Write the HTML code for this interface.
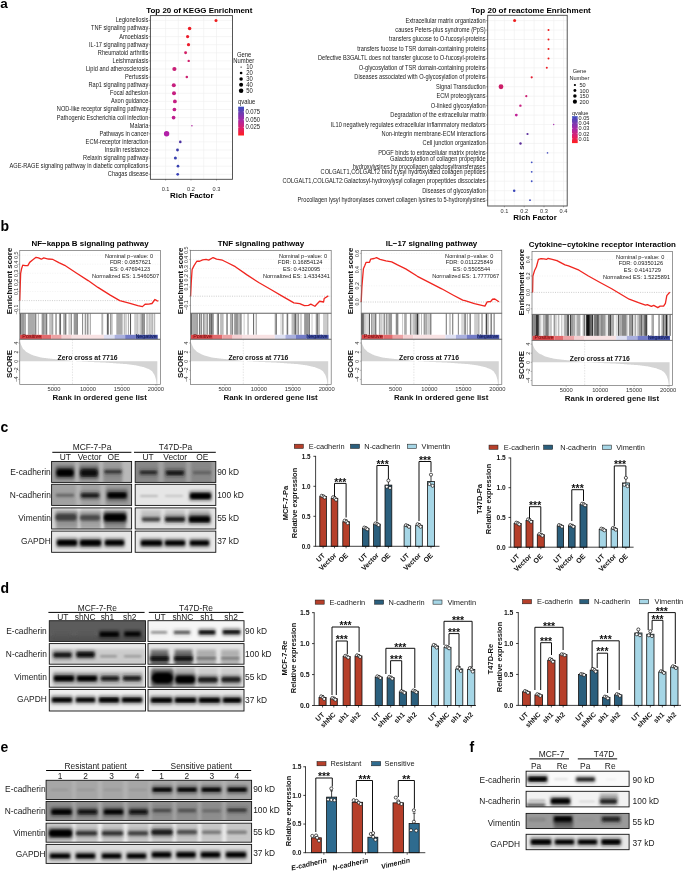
<!DOCTYPE html>
<html><head><meta charset="utf-8"><title>Figure</title>
<style>html,body{margin:0;padding:0;background:#fff;width:685px;height:872px;overflow:hidden}svg{display:block;will-change:transform}text{font-family:"Liberation Sans", sans-serif}</style>
</head><body>
<svg width="685" height="872" viewBox="0 0 685 872" font-family='"Liberation Sans", sans-serif'><defs><linearGradient id="qkegg" x1="0" y1="0" x2="0" y2="1"><stop offset="0" stop-color="#3a4dbd"/><stop offset="0.45" stop-color="#a42aa8"/><stop offset="0.75" stop-color="#e0206a"/><stop offset="1" stop-color="#ff1e1e"/></linearGradient><linearGradient id="qreact" x1="0" y1="0" x2="0" y2="1"><stop offset="0" stop-color="#3a4dbd"/><stop offset="0.45" stop-color="#a42aa8"/><stop offset="0.75" stop-color="#e0206a"/><stop offset="1" stop-color="#ff1e1e"/></linearGradient><filter id="bl1" x="-10%" y="-10%" width="120%" height="120%"><feGaussianBlur stdDeviation="0.9"/></filter><filter id="bl3" x="-20%" y="-50%" width="140%" height="200%"><feGaussianBlur stdDeviation="1.8"/></filter><filter id="bl2" x="-10%" y="-10%" width="120%" height="120%"><feGaussianBlur stdDeviation="1.6"/></filter><clipPath id="cl1"><rect x="51.60" y="461.50" width="80.00" height="20.90"/></clipPath><clipPath id="cl2"><rect x="51.60" y="484.30" width="80.00" height="21.10"/></clipPath><clipPath id="cl3"><rect x="51.60" y="507.90" width="80.00" height="21.10"/></clipPath><clipPath id="cl4"><rect x="51.60" y="531.10" width="80.00" height="21.20"/></clipPath><clipPath id="cl5"><rect x="135.20" y="461.50" width="80.60" height="20.90"/></clipPath><clipPath id="cl6"><rect x="135.20" y="484.30" width="80.60" height="21.10"/></clipPath><clipPath id="cl7"><rect x="135.20" y="507.90" width="80.60" height="21.10"/></clipPath><clipPath id="cl8"><rect x="135.20" y="531.10" width="80.60" height="21.20"/></clipPath><clipPath id="cl9"><rect x="49.30" y="620.70" width="96.20" height="20.70"/></clipPath><clipPath id="cl10"><rect x="49.30" y="643.60" width="96.20" height="20.60"/></clipPath><clipPath id="cl11"><rect x="49.30" y="666.40" width="96.20" height="20.80"/></clipPath><clipPath id="cl12"><rect x="49.30" y="689.50" width="96.20" height="21.50"/></clipPath><clipPath id="cl13"><rect x="148.00" y="620.70" width="96.00" height="20.70"/></clipPath><clipPath id="cl14"><rect x="148.00" y="643.60" width="96.00" height="20.60"/></clipPath><clipPath id="cl15"><rect x="148.00" y="666.40" width="96.00" height="20.80"/></clipPath><clipPath id="cl16"><rect x="148.00" y="689.50" width="96.00" height="21.50"/></clipPath><clipPath id="cl17"><rect x="46.10" y="780.30" width="205.50" height="19.20"/></clipPath><clipPath id="cl18"><rect x="46.10" y="801.50" width="205.50" height="19.10"/></clipPath><clipPath id="cl19"><rect x="46.10" y="823.20" width="205.50" height="19.00"/></clipPath><clipPath id="cl20"><rect x="46.10" y="844.40" width="205.50" height="19.00"/></clipPath><clipPath id="cl21"><rect x="526.10" y="771.20" width="103.00" height="15.20"/></clipPath><clipPath id="cl22"><rect x="526.10" y="791.30" width="103.00" height="15.60"/></clipPath><clipPath id="cl23"><rect x="526.10" y="813.40" width="103.00" height="15.10"/></clipPath><clipPath id="cl24"><rect x="526.10" y="834.30" width="103.00" height="15.40"/></clipPath></defs><rect width="685" height="872" fill="#fff"/><text x="0.30" y="8.00" font-size="13.5" font-weight="bold">a</text>
<text x="199.30" y="13.40" font-size="7.95" text-anchor="middle" font-weight="bold">Top 20 of KEGG Enrichment</text>
<rect x="150.40" y="15.60" width="82.10" height="163.70" fill="#fff"/>
<line x1="165.60" y1="15.60" x2="165.60" y2="179.30" stroke="#eeeeee" stroke-width="0.6"/>
<line x1="178.30" y1="15.60" x2="178.30" y2="179.30" stroke="#eeeeee" stroke-width="0.6"/>
<line x1="191.00" y1="15.60" x2="191.00" y2="179.30" stroke="#eeeeee" stroke-width="0.6"/>
<line x1="203.70" y1="15.60" x2="203.70" y2="179.30" stroke="#eeeeee" stroke-width="0.6"/>
<line x1="216.50" y1="15.60" x2="216.50" y2="179.30" stroke="#eeeeee" stroke-width="0.6"/>
<line x1="150.40" y1="20.40" x2="232.50" y2="20.40" stroke="#eeeeee" stroke-width="0.6"/>
<line x1="150.40" y1="28.50" x2="232.50" y2="28.50" stroke="#eeeeee" stroke-width="0.6"/>
<line x1="150.40" y1="36.60" x2="232.50" y2="36.60" stroke="#eeeeee" stroke-width="0.6"/>
<line x1="150.40" y1="44.70" x2="232.50" y2="44.70" stroke="#eeeeee" stroke-width="0.6"/>
<line x1="150.40" y1="52.80" x2="232.50" y2="52.80" stroke="#eeeeee" stroke-width="0.6"/>
<line x1="150.40" y1="60.90" x2="232.50" y2="60.90" stroke="#eeeeee" stroke-width="0.6"/>
<line x1="150.40" y1="69.00" x2="232.50" y2="69.00" stroke="#eeeeee" stroke-width="0.6"/>
<line x1="150.40" y1="77.10" x2="232.50" y2="77.10" stroke="#eeeeee" stroke-width="0.6"/>
<line x1="150.40" y1="85.20" x2="232.50" y2="85.20" stroke="#eeeeee" stroke-width="0.6"/>
<line x1="150.40" y1="93.30" x2="232.50" y2="93.30" stroke="#eeeeee" stroke-width="0.6"/>
<line x1="150.40" y1="101.40" x2="232.50" y2="101.40" stroke="#eeeeee" stroke-width="0.6"/>
<line x1="150.40" y1="109.50" x2="232.50" y2="109.50" stroke="#eeeeee" stroke-width="0.6"/>
<line x1="150.40" y1="117.60" x2="232.50" y2="117.60" stroke="#eeeeee" stroke-width="0.6"/>
<line x1="150.40" y1="125.70" x2="232.50" y2="125.70" stroke="#eeeeee" stroke-width="0.6"/>
<line x1="150.40" y1="133.80" x2="232.50" y2="133.80" stroke="#eeeeee" stroke-width="0.6"/>
<line x1="150.40" y1="141.90" x2="232.50" y2="141.90" stroke="#eeeeee" stroke-width="0.6"/>
<line x1="150.40" y1="150.00" x2="232.50" y2="150.00" stroke="#eeeeee" stroke-width="0.6"/>
<line x1="150.40" y1="158.10" x2="232.50" y2="158.10" stroke="#eeeeee" stroke-width="0.6"/>
<line x1="150.40" y1="166.20" x2="232.50" y2="166.20" stroke="#eeeeee" stroke-width="0.6"/>
<line x1="150.40" y1="174.30" x2="232.50" y2="174.30" stroke="#eeeeee" stroke-width="0.6"/>
<text x="148.30" y="22.40" font-size="5.65" text-anchor="end" fill="#1a1a1a" transform="matrix(1 0 0 1.12 0 -2.688)">Legionellosis</text>
<line x1="148.60" y1="20.40" x2="150.40" y2="20.40" stroke="#333" stroke-width="0.4"/>
<circle cx="216.00" cy="20.40" r="1.50" fill="#ee1c1c"/>
<text x="148.30" y="30.50" font-size="5.65" text-anchor="end" fill="#1a1a1a" transform="matrix(1 0 0 1.12 0 -3.660)">TNF signaling pathway</text>
<line x1="148.60" y1="28.50" x2="150.40" y2="28.50" stroke="#333" stroke-width="0.4"/>
<circle cx="189.60" cy="28.50" r="1.75" fill="#ee1c24"/>
<text x="148.30" y="38.60" font-size="5.65" text-anchor="end" fill="#1a1a1a" transform="matrix(1 0 0 1.12 0 -4.632)">Amoebiasis</text>
<line x1="148.60" y1="36.60" x2="150.40" y2="36.60" stroke="#333" stroke-width="0.4"/>
<circle cx="187.60" cy="36.60" r="1.60" fill="#ec1c2c"/>
<text x="148.30" y="46.70" font-size="5.65" text-anchor="end" fill="#1a1a1a" transform="matrix(1 0 0 1.12 0 -5.604)">IL-17 signaling pathway</text>
<line x1="148.60" y1="44.70" x2="150.40" y2="44.70" stroke="#333" stroke-width="0.4"/>
<circle cx="188.50" cy="44.70" r="1.60" fill="#ec1c2c"/>
<text x="148.30" y="54.80" font-size="5.65" text-anchor="end" fill="#1a1a1a" transform="matrix(1 0 0 1.12 0 -6.576)">Rheumatoid arthritis</text>
<line x1="148.60" y1="52.80" x2="150.40" y2="52.80" stroke="#333" stroke-width="0.4"/>
<circle cx="185.60" cy="52.80" r="1.45" fill="#d21f66"/>
<text x="148.30" y="62.90" font-size="5.65" text-anchor="end" fill="#1a1a1a" transform="matrix(1 0 0 1.12 0 -7.548)">Leishmaniasis</text>
<line x1="148.60" y1="60.90" x2="150.40" y2="60.90" stroke="#333" stroke-width="0.4"/>
<circle cx="188.70" cy="60.90" r="1.20" fill="#d01f6c"/>
<text x="148.30" y="71.00" font-size="5.65" text-anchor="end" fill="#1a1a1a" transform="matrix(1 0 0 1.12 0 -8.520)">Lipid and atherosclerosis</text>
<line x1="148.60" y1="69.00" x2="150.40" y2="69.00" stroke="#333" stroke-width="0.4"/>
<circle cx="174.40" cy="69.00" r="2.10" fill="#c81e76"/>
<text x="148.30" y="79.10" font-size="5.65" text-anchor="end" fill="#1a1a1a" transform="matrix(1 0 0 1.12 0 -9.492)">Pertussis</text>
<line x1="148.60" y1="77.10" x2="150.40" y2="77.10" stroke="#333" stroke-width="0.4"/>
<circle cx="186.80" cy="77.10" r="1.25" fill="#cc1f70"/>
<text x="148.30" y="87.20" font-size="5.65" text-anchor="end" fill="#1a1a1a" transform="matrix(1 0 0 1.12 0 -10.464)">Rap1 signaling pathway</text>
<line x1="148.60" y1="85.20" x2="150.40" y2="85.20" stroke="#333" stroke-width="0.4"/>
<circle cx="173.80" cy="85.20" r="2.00" fill="#c61e7e"/>
<text x="148.30" y="95.30" font-size="5.65" text-anchor="end" fill="#1a1a1a" transform="matrix(1 0 0 1.12 0 -11.436)">Focal adhesion</text>
<line x1="148.60" y1="93.30" x2="150.40" y2="93.30" stroke="#333" stroke-width="0.4"/>
<circle cx="174.00" cy="93.30" r="2.00" fill="#c61e80"/>
<text x="148.30" y="103.40" font-size="5.65" text-anchor="end" fill="#1a1a1a" transform="matrix(1 0 0 1.12 0 -12.408)">Axon guidance</text>
<line x1="148.60" y1="101.40" x2="150.40" y2="101.40" stroke="#333" stroke-width="0.4"/>
<circle cx="174.90" cy="101.40" r="1.90" fill="#c41e82"/>
<text x="148.30" y="111.50" font-size="5.65" text-anchor="end" fill="#1a1a1a" transform="matrix(1 0 0 1.12 0 -13.380)">NOD-like receptor signaling pathway</text>
<line x1="148.60" y1="109.50" x2="150.40" y2="109.50" stroke="#333" stroke-width="0.4"/>
<circle cx="174.40" cy="109.50" r="1.85" fill="#c21e88"/>
<text x="148.30" y="119.60" font-size="5.65" text-anchor="end" fill="#1a1a1a" transform="matrix(1 0 0 1.12 0 -14.352)">Pathogenic Escherichia coli infection</text>
<line x1="148.60" y1="117.60" x2="150.40" y2="117.60" stroke="#333" stroke-width="0.4"/>
<circle cx="173.60" cy="117.60" r="1.85" fill="#be1e8e"/>
<text x="148.30" y="127.70" font-size="5.65" text-anchor="end" fill="#1a1a1a" transform="matrix(1 0 0 1.12 0 -15.324)">Malaria</text>
<line x1="148.60" y1="125.70" x2="150.40" y2="125.70" stroke="#333" stroke-width="0.4"/>
<circle cx="191.90" cy="125.70" r="0.80" fill="#b82ea8"/>
<text x="148.30" y="135.80" font-size="5.65" text-anchor="end" fill="#1a1a1a" transform="matrix(1 0 0 1.12 0 -16.296)">Pathways in cancer</text>
<line x1="148.60" y1="133.80" x2="150.40" y2="133.80" stroke="#333" stroke-width="0.4"/>
<circle cx="166.60" cy="133.80" r="2.70" fill="#b220a8"/>
<text x="148.30" y="143.90" font-size="5.65" text-anchor="end" fill="#1a1a1a" transform="matrix(1 0 0 1.12 0 -17.268)">ECM-receptor interaction</text>
<line x1="148.60" y1="141.90" x2="150.40" y2="141.90" stroke="#333" stroke-width="0.4"/>
<circle cx="180.30" cy="141.90" r="1.30" fill="#4a30a0"/>
<text x="148.30" y="152.00" font-size="5.65" text-anchor="end" fill="#1a1a1a" transform="matrix(1 0 0 1.12 0 -18.240)">Insulin resistance</text>
<line x1="148.60" y1="150.00" x2="150.40" y2="150.00" stroke="#333" stroke-width="0.4"/>
<circle cx="177.50" cy="150.00" r="1.40" fill="#3838a8"/>
<text x="148.30" y="160.10" font-size="5.65" text-anchor="end" fill="#1a1a1a" transform="matrix(1 0 0 1.12 0 -19.212)">Relaxin signaling pathway</text>
<line x1="148.60" y1="158.10" x2="150.40" y2="158.10" stroke="#333" stroke-width="0.4"/>
<circle cx="175.40" cy="158.10" r="1.50" fill="#3840b0"/>
<text x="148.30" y="168.20" font-size="5.65" text-anchor="end" fill="#1a1a1a" transform="matrix(1 0 0 1.12 0 -20.184)">AGE-RAGE signaling pathway in diabetic complications</text>
<line x1="148.60" y1="166.20" x2="150.40" y2="166.20" stroke="#333" stroke-width="0.4"/>
<circle cx="178.00" cy="166.20" r="1.35" fill="#3840b0"/>
<text x="148.30" y="176.30" font-size="5.65" text-anchor="end" fill="#1a1a1a" transform="matrix(1 0 0 1.12 0 -21.156)">Chagas disease</text>
<line x1="148.60" y1="174.30" x2="150.40" y2="174.30" stroke="#333" stroke-width="0.4"/>
<circle cx="177.70" cy="174.30" r="1.35" fill="#3840b8"/>
<rect x="150.40" y="15.60" width="82.10" height="163.70" fill="none" stroke="#444" stroke-width="0.9"/>
<line x1="165.60" y1="179.30" x2="165.60" y2="180.60" stroke="#333" stroke-width="0.4"/>
<text x="165.60" y="190.50" font-size="5.6" text-anchor="middle" fill="#333">0.1</text>
<line x1="191.00" y1="179.30" x2="191.00" y2="180.60" stroke="#333" stroke-width="0.4"/>
<text x="191.00" y="190.50" font-size="5.6" text-anchor="middle" fill="#333">0.2</text>
<line x1="216.50" y1="179.30" x2="216.50" y2="180.60" stroke="#333" stroke-width="0.4"/>
<text x="216.50" y="190.50" font-size="5.6" text-anchor="middle" fill="#333">0.3</text>
<text x="191.80" y="198.00" font-size="7.9" text-anchor="middle" font-weight="bold">Rich Factor</text>
<text x="244.20" y="56.90" font-size="5.9" text-anchor="middle" fill="#222" transform="matrix(1 0 0 1.08 0 -4.552)">Gene</text>
<text x="243.80" y="63.50" font-size="5.9" text-anchor="middle" fill="#222" transform="matrix(1 0 0 1.08 0 -5.080)">Number</text>
<circle cx="241.10" cy="67.10" r="0.65" fill="#000"/>
<text x="246.20" y="69.20" font-size="5.9" fill="#222" transform="matrix(1 0 0 1.08 0 -5.536)">10</text>
<circle cx="241.10" cy="73.00" r="1.35" fill="#000"/>
<text x="246.20" y="75.10" font-size="5.9" fill="#222" transform="matrix(1 0 0 1.08 0 -6.008)">20</text>
<circle cx="241.10" cy="78.90" r="1.75" fill="#000"/>
<text x="246.20" y="81.00" font-size="5.9" fill="#222" transform="matrix(1 0 0 1.08 0 -6.480)">30</text>
<circle cx="241.10" cy="84.80" r="2.00" fill="#000"/>
<text x="246.20" y="86.90" font-size="5.9" fill="#222" transform="matrix(1 0 0 1.08 0 -6.952)">40</text>
<circle cx="241.10" cy="90.70" r="2.25" fill="#000"/>
<text x="246.20" y="92.80" font-size="5.9" fill="#222" transform="matrix(1 0 0 1.08 0 -7.424)">50</text>
<text x="238.00" y="104.40" font-size="5.9" fill="#222" transform="matrix(1 0 0 1.08 0 -8.352)">qvalue</text>
<rect x="238.20" y="106.70" width="5.80" height="28.80" fill="url(#qkegg)"/>
<line x1="238.20" y1="111.80" x2="239.30" y2="111.80" stroke="#fff" stroke-width="0.4"/>
<line x1="242.90" y1="111.80" x2="244.00" y2="111.80" stroke="#fff" stroke-width="0.4"/>
<text x="245.40" y="113.90" font-size="5.9" fill="#222" transform="matrix(1 0 0 1.08 0 -9.112)">0.075</text>
<line x1="238.20" y1="119.80" x2="239.30" y2="119.80" stroke="#fff" stroke-width="0.4"/>
<line x1="242.90" y1="119.80" x2="244.00" y2="119.80" stroke="#fff" stroke-width="0.4"/>
<text x="245.40" y="121.90" font-size="5.9" fill="#222" transform="matrix(1 0 0 1.08 0 -9.752)">0.050</text>
<line x1="238.20" y1="127.40" x2="239.30" y2="127.40" stroke="#fff" stroke-width="0.4"/>
<line x1="242.90" y1="127.40" x2="244.00" y2="127.40" stroke="#fff" stroke-width="0.4"/>
<text x="245.40" y="129.50" font-size="5.9" fill="#222" transform="matrix(1 0 0 1.08 0 -10.360)">0.025</text>
<text x="530.90" y="13.40" font-size="8.05" text-anchor="middle" font-weight="bold">Top 20 of reactome Enrichment</text>
<rect x="487.70" y="15.30" width="79.50" height="190.70" fill="#fff"/>
<line x1="494.90" y1="15.30" x2="494.90" y2="206.00" stroke="#eeeeee" stroke-width="0.6"/>
<line x1="504.40" y1="15.30" x2="504.40" y2="206.00" stroke="#eeeeee" stroke-width="0.6"/>
<line x1="514.30" y1="15.30" x2="514.30" y2="206.00" stroke="#eeeeee" stroke-width="0.6"/>
<line x1="524.20" y1="15.30" x2="524.20" y2="206.00" stroke="#eeeeee" stroke-width="0.6"/>
<line x1="534.10" y1="15.30" x2="534.10" y2="206.00" stroke="#eeeeee" stroke-width="0.6"/>
<line x1="544.00" y1="15.30" x2="544.00" y2="206.00" stroke="#eeeeee" stroke-width="0.6"/>
<line x1="553.80" y1="15.30" x2="553.80" y2="206.00" stroke="#eeeeee" stroke-width="0.6"/>
<line x1="563.50" y1="15.30" x2="563.50" y2="206.00" stroke="#eeeeee" stroke-width="0.6"/>
<line x1="487.70" y1="20.60" x2="567.20" y2="20.60" stroke="#eeeeee" stroke-width="0.6"/>
<line x1="487.70" y1="30.05" x2="567.20" y2="30.05" stroke="#eeeeee" stroke-width="0.6"/>
<line x1="487.70" y1="39.50" x2="567.20" y2="39.50" stroke="#eeeeee" stroke-width="0.6"/>
<line x1="487.70" y1="48.95" x2="567.20" y2="48.95" stroke="#eeeeee" stroke-width="0.6"/>
<line x1="487.70" y1="58.40" x2="567.20" y2="58.40" stroke="#eeeeee" stroke-width="0.6"/>
<line x1="487.70" y1="67.85" x2="567.20" y2="67.85" stroke="#eeeeee" stroke-width="0.6"/>
<line x1="487.70" y1="77.30" x2="567.20" y2="77.30" stroke="#eeeeee" stroke-width="0.6"/>
<line x1="487.70" y1="86.75" x2="567.20" y2="86.75" stroke="#eeeeee" stroke-width="0.6"/>
<line x1="487.70" y1="96.20" x2="567.20" y2="96.20" stroke="#eeeeee" stroke-width="0.6"/>
<line x1="487.70" y1="105.65" x2="567.20" y2="105.65" stroke="#eeeeee" stroke-width="0.6"/>
<line x1="487.70" y1="115.10" x2="567.20" y2="115.10" stroke="#eeeeee" stroke-width="0.6"/>
<line x1="487.70" y1="124.55" x2="567.20" y2="124.55" stroke="#eeeeee" stroke-width="0.6"/>
<line x1="487.70" y1="134.00" x2="567.20" y2="134.00" stroke="#eeeeee" stroke-width="0.6"/>
<line x1="487.70" y1="143.45" x2="567.20" y2="143.45" stroke="#eeeeee" stroke-width="0.6"/>
<line x1="487.70" y1="152.90" x2="567.20" y2="152.90" stroke="#eeeeee" stroke-width="0.6"/>
<line x1="487.70" y1="162.35" x2="567.20" y2="162.35" stroke="#eeeeee" stroke-width="0.6"/>
<line x1="487.70" y1="171.80" x2="567.20" y2="171.80" stroke="#eeeeee" stroke-width="0.6"/>
<line x1="487.70" y1="181.25" x2="567.20" y2="181.25" stroke="#eeeeee" stroke-width="0.6"/>
<line x1="487.70" y1="190.70" x2="567.20" y2="190.70" stroke="#eeeeee" stroke-width="0.6"/>
<line x1="487.70" y1="200.15" x2="567.20" y2="200.15" stroke="#eeeeee" stroke-width="0.6"/>
<text x="485.60" y="22.60" font-size="5.65" text-anchor="end" fill="#1a1a1a" transform="matrix(1 0 0 1.12 0 -2.712)">Extracellular matrix organization</text>
<line x1="485.90" y1="20.60" x2="487.70" y2="20.60" stroke="#333" stroke-width="0.4"/>
<circle cx="514.60" cy="20.60" r="1.50" fill="#ee1c1c"/>
<text x="485.60" y="32.05" font-size="5.65" text-anchor="end" fill="#1a1a1a" transform="matrix(1 0 0 1.12 0 -3.846)">causes Peters-plus syndrome (PpS)</text>
<line x1="485.90" y1="30.05" x2="487.70" y2="30.05" stroke="#333" stroke-width="0.4"/>
<circle cx="548.50" cy="30.05" r="1.00" fill="#ee1c1c"/>
<text x="485.60" y="41.50" font-size="5.65" text-anchor="end" fill="#1a1a1a" transform="matrix(1 0 0 1.12 0 -4.980)">transfers glucose to O-fucosyl-proteins</text>
<line x1="485.90" y1="39.50" x2="487.70" y2="39.50" stroke="#333" stroke-width="0.4"/>
<circle cx="548.50" cy="39.50" r="1.00" fill="#ee1c1c"/>
<text x="485.60" y="50.95" font-size="5.65" text-anchor="end" fill="#1a1a1a" transform="matrix(1 0 0 1.12 0 -6.114)">transfers fucose to TSR domain-containing proteins</text>
<line x1="485.90" y1="48.95" x2="487.70" y2="48.95" stroke="#333" stroke-width="0.4"/>
<circle cx="548.50" cy="48.95" r="1.00" fill="#ee1c1c"/>
<text x="485.60" y="60.40" font-size="5.65" text-anchor="end" fill="#1a1a1a" transform="matrix(1 0 0 1.12 0 -7.248)">Defective B3GALTL does not transfer glucose to O-fucosyl-proteins</text>
<line x1="485.90" y1="58.40" x2="487.70" y2="58.40" stroke="#333" stroke-width="0.4"/>
<circle cx="548.50" cy="58.40" r="1.00" fill="#ee1c1c"/>
<text x="485.60" y="69.85" font-size="5.65" text-anchor="end" fill="#1a1a1a" transform="matrix(1 0 0 1.12 0 -8.382)">O-glycosylation of TSR domain-containing proteins</text>
<line x1="485.90" y1="67.85" x2="487.70" y2="67.85" stroke="#333" stroke-width="0.4"/>
<circle cx="546.80" cy="67.85" r="1.00" fill="#ee1c24"/>
<text x="485.60" y="79.30" font-size="5.65" text-anchor="end" fill="#1a1a1a" transform="matrix(1 0 0 1.12 0 -9.516)">Diseases associated with O-glycosylation of proteins</text>
<line x1="485.90" y1="77.30" x2="487.70" y2="77.30" stroke="#333" stroke-width="0.4"/>
<circle cx="531.70" cy="77.30" r="1.10" fill="#e41c30"/>
<text x="485.60" y="88.75" font-size="5.65" text-anchor="end" fill="#1a1a1a" transform="matrix(1 0 0 1.12 0 -10.650)">Signal Transduction</text>
<line x1="485.90" y1="86.75" x2="487.70" y2="86.75" stroke="#333" stroke-width="0.4"/>
<circle cx="501.00" cy="86.75" r="2.40" fill="#cc1e68"/>
<text x="485.60" y="98.20" font-size="5.65" text-anchor="end" fill="#1a1a1a" transform="matrix(1 0 0 1.12 0 -11.784)">ECM proteoglycans</text>
<line x1="485.90" y1="96.20" x2="487.70" y2="96.20" stroke="#333" stroke-width="0.4"/>
<circle cx="526.30" cy="96.20" r="1.10" fill="#cc1e72"/>
<text x="485.60" y="107.65" font-size="5.65" text-anchor="end" fill="#1a1a1a" transform="matrix(1 0 0 1.12 0 -12.918)">O-linked glycosylation</text>
<line x1="485.90" y1="105.65" x2="487.70" y2="105.65" stroke="#333" stroke-width="0.4"/>
<circle cx="520.40" cy="105.65" r="1.20" fill="#c81e80"/>
<text x="485.60" y="117.10" font-size="5.65" text-anchor="end" fill="#1a1a1a" transform="matrix(1 0 0 1.12 0 -14.052)">Degradation of the extracellular matrix</text>
<line x1="485.90" y1="115.10" x2="487.70" y2="115.10" stroke="#333" stroke-width="0.4"/>
<circle cx="516.30" cy="115.10" r="1.40" fill="#c01e96"/>
<text x="485.60" y="126.55" font-size="5.65" text-anchor="end" fill="#1a1a1a" transform="matrix(1 0 0 1.12 0 -15.186)">IL10 negatively regulates extracellular inflammatory mediators</text>
<line x1="485.90" y1="124.55" x2="487.70" y2="124.55" stroke="#333" stroke-width="0.4"/>
<circle cx="553.70" cy="124.55" r="0.70" fill="#a830b0"/>
<text x="485.60" y="136.00" font-size="5.65" text-anchor="end" fill="#1a1a1a" transform="matrix(1 0 0 1.12 0 -16.320)">Non-integrin membrane-ECM interactions</text>
<line x1="485.90" y1="134.00" x2="487.70" y2="134.00" stroke="#333" stroke-width="0.4"/>
<circle cx="527.50" cy="134.00" r="1.10" fill="#5c2e9e"/>
<text x="485.60" y="145.45" font-size="5.65" text-anchor="end" fill="#1a1a1a" transform="matrix(1 0 0 1.12 0 -17.454)">Cell junction organization</text>
<line x1="485.90" y1="143.45" x2="487.70" y2="143.45" stroke="#333" stroke-width="0.4"/>
<circle cx="520.50" cy="143.45" r="1.20" fill="#5a2c98"/>
<text x="485.60" y="154.90" font-size="5.65" text-anchor="end" fill="#1a1a1a" transform="matrix(1 0 0 1.12 0 -18.588)">PDGF binds to extracellular matrix proteins</text>
<line x1="485.90" y1="152.90" x2="487.70" y2="152.90" stroke="#333" stroke-width="0.4"/>
<circle cx="547.50" cy="152.90" r="0.80" fill="#5058c0"/>
<text x="485.60" y="160.75" font-size="5.65" text-anchor="end" fill="#1a1a1a" transform="matrix(1 0 0 1.12 0 -19.290)">Galactosylation of collagen propeptide</text>
<text x="485.60" y="168.55" font-size="5.65" text-anchor="end" fill="#1a1a1a" transform="matrix(1 0 0 1.12 0 -20.226)">hydroxylysines by procollagen galactosyltransferases</text>
<line x1="485.90" y1="162.35" x2="487.70" y2="162.35" stroke="#333" stroke-width="0.4"/>
<circle cx="531.70" cy="162.35" r="0.90" fill="#4050c4"/>
<text x="485.60" y="173.80" font-size="5.65" text-anchor="end" fill="#1a1a1a" transform="matrix(1 0 0 1.12 0 -20.856)">COLGALT1,COLGALT2 bind Lysyl hydroxylated collagen peptides</text>
<line x1="485.90" y1="171.80" x2="487.70" y2="171.80" stroke="#333" stroke-width="0.4"/>
<circle cx="531.70" cy="171.80" r="0.90" fill="#4050c4"/>
<text x="485.60" y="183.25" font-size="5.65" text-anchor="end" fill="#1a1a1a" transform="matrix(1 0 0 1.12 0 -21.990)">COLGALT1,COLGALT2:Galactosyl-hydroxylysyl collagen propeptides dissociates</text>
<line x1="485.90" y1="181.25" x2="487.70" y2="181.25" stroke="#333" stroke-width="0.4"/>
<circle cx="531.70" cy="181.25" r="0.90" fill="#4050c4"/>
<text x="485.60" y="192.70" font-size="5.65" text-anchor="end" fill="#1a1a1a" transform="matrix(1 0 0 1.12 0 -23.124)">Diseases of glycosylation</text>
<line x1="485.90" y1="190.70" x2="487.70" y2="190.70" stroke="#333" stroke-width="0.4"/>
<circle cx="514.20" cy="190.70" r="1.25" fill="#3844b8"/>
<text x="485.60" y="202.15" font-size="5.65" text-anchor="end" fill="#1a1a1a" transform="matrix(1 0 0 1.12 0 -24.258)">Procollagen lysyl hydroxylases convert collagen lysines to 5-hydroxylysines</text>
<line x1="485.90" y1="200.15" x2="487.70" y2="200.15" stroke="#333" stroke-width="0.4"/>
<circle cx="530.00" cy="200.15" r="0.90" fill="#3844b8"/>
<rect x="487.70" y="15.30" width="79.50" height="190.70" fill="none" stroke="#444" stroke-width="0.9"/>
<line x1="504.40" y1="206.00" x2="504.40" y2="207.30" stroke="#333" stroke-width="0.4"/>
<text x="504.40" y="212.60" font-size="5.6" text-anchor="middle" fill="#333">0.1</text>
<line x1="524.20" y1="206.00" x2="524.20" y2="207.30" stroke="#333" stroke-width="0.4"/>
<text x="524.20" y="212.60" font-size="5.6" text-anchor="middle" fill="#333">0.2</text>
<line x1="544.00" y1="206.00" x2="544.00" y2="207.30" stroke="#333" stroke-width="0.4"/>
<text x="544.00" y="212.60" font-size="5.6" text-anchor="middle" fill="#333">0.3</text>
<line x1="563.50" y1="206.00" x2="563.50" y2="207.30" stroke="#333" stroke-width="0.4"/>
<text x="563.50" y="212.60" font-size="5.6" text-anchor="middle" fill="#333">0.4</text>
<text x="535.00" y="220.20" font-size="7.9" text-anchor="middle" font-weight="bold">Rich Factor</text>
<text x="579.50" y="73.40" font-size="5.6" text-anchor="middle" fill="#222">Gene</text>
<text x="579.40" y="80.40" font-size="5.6" text-anchor="middle" fill="#222">Number</text>
<circle cx="574.90" cy="85.00" r="1.10" fill="#000"/>
<text x="579.50" y="87.00" font-size="5.6" fill="#222">50</text>
<circle cx="574.90" cy="90.55" r="1.45" fill="#000"/>
<text x="579.50" y="92.55" font-size="5.6" fill="#222">100</text>
<circle cx="574.90" cy="96.10" r="1.75" fill="#000"/>
<text x="579.50" y="98.10" font-size="5.6" fill="#222">150</text>
<circle cx="574.90" cy="101.65" r="2.05" fill="#000"/>
<text x="579.50" y="103.65" font-size="5.6" fill="#222">200</text>
<text x="572.00" y="114.60" font-size="5.6" fill="#222">qvalue</text>
<rect x="572.00" y="116.20" width="5.70" height="26.90" fill="url(#qreact)"/>
<line x1="572.00" y1="118.00" x2="573.10" y2="118.00" stroke="#fff" stroke-width="0.4"/>
<line x1="576.60" y1="118.00" x2="577.70" y2="118.00" stroke="#fff" stroke-width="0.4"/>
<text x="578.60" y="120.00" font-size="5.6" fill="#222">0.05</text>
<line x1="572.00" y1="123.20" x2="573.10" y2="123.20" stroke="#fff" stroke-width="0.4"/>
<line x1="576.60" y1="123.20" x2="577.70" y2="123.20" stroke="#fff" stroke-width="0.4"/>
<text x="578.60" y="125.20" font-size="5.6" fill="#222">0.04</text>
<line x1="572.00" y1="128.40" x2="573.10" y2="128.40" stroke="#fff" stroke-width="0.4"/>
<line x1="576.60" y1="128.40" x2="577.70" y2="128.40" stroke="#fff" stroke-width="0.4"/>
<text x="578.60" y="130.40" font-size="5.6" fill="#222">0.03</text>
<line x1="572.00" y1="133.60" x2="573.10" y2="133.60" stroke="#fff" stroke-width="0.4"/>
<line x1="576.60" y1="133.60" x2="577.70" y2="133.60" stroke="#fff" stroke-width="0.4"/>
<text x="578.60" y="135.60" font-size="5.6" fill="#222">0.02</text>
<line x1="572.00" y1="138.80" x2="573.10" y2="138.80" stroke="#fff" stroke-width="0.4"/>
<line x1="576.60" y1="138.80" x2="577.70" y2="138.80" stroke="#fff" stroke-width="0.4"/>
<text x="578.60" y="140.80" font-size="5.6" fill="#222">0.01</text>
<text x="0.60" y="231.40" font-size="14" font-weight="bold">b</text>
<text x="90.05" y="246.00" font-size="7.95" text-anchor="middle" font-weight="bold">NF−kappa B signaling pathway</text>
<line x1="19.75" y1="309.70" x2="160.35" y2="309.70" stroke="#e6e6e6" stroke-width="0.5" stroke-dasharray="1,1.5"/>
<line x1="19.75" y1="291.50" x2="160.35" y2="291.50" stroke="#e6e6e6" stroke-width="0.5" stroke-dasharray="1,1.5"/>
<line x1="19.75" y1="282.40" x2="160.35" y2="282.40" stroke="#e6e6e6" stroke-width="0.5" stroke-dasharray="1,1.5"/>
<line x1="19.75" y1="273.30" x2="160.35" y2="273.30" stroke="#e6e6e6" stroke-width="0.5" stroke-dasharray="1,1.5"/>
<line x1="19.75" y1="264.20" x2="160.35" y2="264.20" stroke="#e6e6e6" stroke-width="0.5" stroke-dasharray="1,1.5"/>
<line x1="19.75" y1="255.10" x2="160.35" y2="255.10" stroke="#e6e6e6" stroke-width="0.5" stroke-dasharray="1,1.5"/>
<line x1="19.75" y1="300.60" x2="160.35" y2="300.60" stroke="#9a9a9a" stroke-width="0.5" stroke-dasharray="1,1.3"/>
<path d="M19.75,300.60 L20.25,285.13 L20.65,273.30 L21.55,268.75 L22.75,265.11 L25.05,265.56 L27.85,265.56 L29.65,262.38 L32.55,260.11 L36.05,257.28 L38.45,257.83 L41.35,259.20 L43.75,257.83 L48.35,259.01 L52.95,259.47 L58.85,262.56 L64.65,265.29 L76.35,273.03 L88.15,280.58 L97.95,287.41 L110.25,295.14 L119.75,300.60 L130.05,303.33 L137.75,305.51 L142.45,306.61 L145.05,304.24 L148.75,304.06 L151.95,303.51 L154.95,299.51 L157.25,300.87 L158.35,301.15" fill="none" stroke="#f0251f" stroke-width="1.3" stroke-linejoin="round"/>
<text x="104.90" y="257.60" font-size="5.62" fill="#1a1a1a">Nominal p−value: 0</text>
<text x="109.90" y="264.25" font-size="5.62" fill="#1a1a1a">FDR: 0.0857621</text>
<text x="109.90" y="270.90" font-size="5.62" fill="#1a1a1a">ES: 0.47694123</text>
<text x="92.00" y="277.55" font-size="5.62" fill="#1a1a1a">Normalized ES: 1.5460507</text>
<line x1="18.35" y1="309.70" x2="19.75" y2="309.70" stroke="#555" stroke-width="0.4"/>
<text x="17.55" y="309.70" font-size="5.2" text-anchor="middle" fill="#333" transform="rotate(-90 17.55 309.70)">−0.1</text>
<line x1="18.35" y1="300.60" x2="19.75" y2="300.60" stroke="#555" stroke-width="0.4"/>
<line x1="18.35" y1="291.50" x2="19.75" y2="291.50" stroke="#555" stroke-width="0.4"/>
<text x="17.55" y="291.50" font-size="5.2" text-anchor="middle" fill="#333" transform="rotate(-90 17.55 291.50)">0.1</text>
<line x1="18.35" y1="282.40" x2="19.75" y2="282.40" stroke="#555" stroke-width="0.4"/>
<text x="17.55" y="282.40" font-size="5.2" text-anchor="middle" fill="#333" transform="rotate(-90 17.55 282.40)">0.2</text>
<line x1="18.35" y1="273.30" x2="19.75" y2="273.30" stroke="#555" stroke-width="0.4"/>
<text x="17.55" y="273.30" font-size="5.2" text-anchor="middle" fill="#333" transform="rotate(-90 17.55 273.30)">0.3</text>
<line x1="18.35" y1="264.20" x2="19.75" y2="264.20" stroke="#555" stroke-width="0.4"/>
<text x="17.55" y="264.20" font-size="5.2" text-anchor="middle" fill="#333" transform="rotate(-90 17.55 264.20)">0.4</text>
<line x1="18.35" y1="255.10" x2="19.75" y2="255.10" stroke="#555" stroke-width="0.4"/>
<text x="17.55" y="255.10" font-size="5.2" text-anchor="middle" fill="#333" transform="rotate(-90 17.55 255.10)">0.5</text>
<rect x="20.05" y="313.20" width="1.05" height="21.60" fill="#555555"/>
<rect x="21.10" y="313.20" width="3.15" height="21.60" fill="#999999"/>
<rect x="24.26" y="313.20" width="1.58" height="21.60" fill="#999999"/>
<rect x="27.93" y="313.20" width="0.53" height="21.60" fill="#444444"/>
<rect x="28.46" y="313.20" width="6.31" height="21.60" fill="#aaaaaa"/>
<rect x="34.77" y="313.20" width="1.58" height="21.60" fill="#888888"/>
<rect x="37.92" y="313.20" width="0.53" height="21.60" fill="#777777"/>
<rect x="41.60" y="313.20" width="1.05" height="21.60" fill="#999999"/>
<rect x="42.65" y="313.20" width="1.05" height="21.60" fill="#555555"/>
<rect x="43.70" y="313.20" width="2.63" height="21.60" fill="#aaaaaa"/>
<rect x="46.33" y="313.20" width="0.84" height="21.60" fill="#444444"/>
<rect x="49.48" y="313.20" width="1.05" height="21.60" fill="#999999"/>
<rect x="50.53" y="313.20" width="2.10" height="21.60" fill="#bbbbbb"/>
<rect x="52.63" y="313.20" width="0.53" height="21.60" fill="#555555"/>
<rect x="55.26" y="313.20" width="1.58" height="21.60" fill="#999999"/>
<rect x="58.94" y="313.20" width="1.05" height="21.60" fill="#999999"/>
<rect x="59.99" y="313.20" width="1.05" height="21.60" fill="#666666"/>
<rect x="63.15" y="313.20" width="2.10" height="21.60" fill="#aaaaaa"/>
<rect x="65.25" y="313.20" width="1.05" height="21.60" fill="#555555"/>
<rect x="68.40" y="313.20" width="2.63" height="21.60" fill="#cccccc"/>
<rect x="71.03" y="313.20" width="0.53" height="21.60" fill="#333333"/>
<rect x="73.66" y="313.20" width="2.63" height="21.60" fill="#999999"/>
<rect x="76.28" y="313.20" width="1.58" height="21.60" fill="#777777"/>
<rect x="82.06" y="313.20" width="1.05" height="21.60" fill="#888888"/>
<rect x="84.69" y="313.20" width="1.58" height="21.60" fill="#999999"/>
<rect x="87.32" y="313.20" width="1.05" height="21.60" fill="#666666"/>
<rect x="89.84" y="313.20" width="0.74" height="21.60" fill="#777777"/>
<rect x="101.09" y="313.20" width="1.05" height="21.60" fill="#cccccc"/>
<rect x="102.14" y="313.20" width="1.05" height="21.60" fill="#aaaaaa"/>
<rect x="106.87" y="313.20" width="1.05" height="21.60" fill="#555555"/>
<rect x="107.92" y="313.20" width="1.05" height="21.60" fill="#888888"/>
<rect x="110.02" y="313.20" width="1.05" height="21.60" fill="#999999"/>
<rect x="111.07" y="313.20" width="1.58" height="21.60" fill="#bbbbbb"/>
<rect x="116.33" y="313.20" width="6.31" height="21.60" fill="#aaaaaa"/>
<rect x="123.69" y="313.20" width="1.58" height="21.60" fill="#bbbbbb"/>
<rect x="125.26" y="313.20" width="1.58" height="21.60" fill="#cccccc"/>
<rect x="127.89" y="313.20" width="1.05" height="21.60" fill="#aaaaaa"/>
<rect x="129.99" y="313.20" width="1.05" height="21.60" fill="#555555"/>
<rect x="134.20" y="313.20" width="3.15" height="21.60" fill="#cccccc"/>
<rect x="137.35" y="313.20" width="1.05" height="21.60" fill="#aaaaaa"/>
<rect x="138.40" y="313.20" width="2.10" height="21.60" fill="#dddddd"/>
<rect x="140.50" y="313.20" width="1.05" height="21.60" fill="#999999"/>
<rect x="141.55" y="313.20" width="2.10" height="21.60" fill="#888888"/>
<rect x="143.66" y="313.20" width="1.05" height="21.60" fill="#666666"/>
<rect x="146.28" y="313.20" width="1.58" height="21.60" fill="#bbbbbb"/>
<rect x="147.86" y="313.20" width="1.58" height="21.60" fill="#dddddd"/>
<rect x="149.44" y="313.20" width="1.05" height="21.60" fill="#999999"/>
<rect x="151.54" y="313.20" width="1.05" height="21.60" fill="#888888"/>
<rect x="153.64" y="313.20" width="1.58" height="21.60" fill="#bbbbbb"/>
<rect x="20.05" y="334.80" width="22.00" height="4.40" fill="#dc4649"/>
<rect x="42.05" y="334.80" width="9.30" height="4.40" fill="#e36a6d"/>
<rect x="51.35" y="334.80" width="10.40" height="4.40" fill="#eda3a5"/>
<rect x="61.75" y="334.80" width="10.00" height="4.40" fill="#f4d0d2"/>
<rect x="71.75" y="334.80" width="32.20" height="4.40" fill="#f8e2e3"/>
<rect x="103.95" y="334.80" width="10.60" height="4.40" fill="#dee0f3"/>
<rect x="114.55" y="334.80" width="10.60" height="4.40" fill="#aab0de"/>
<rect x="125.15" y="334.80" width="10.50" height="4.40" fill="#727bc7"/>
<rect x="135.65" y="334.80" width="22.10" height="4.40" fill="#4350aa"/>
<text x="22.35" y="338.30" font-size="5.4" fill="#6a0c0c">Positive</text>
<text x="156.75" y="338.30" font-size="5.4" text-anchor="end" fill="#101a4a">Negative</text>
<path d="M20.05,361.20 L20.05,341.86 L20.51,343.20 L20.97,344.53 L21.43,345.59 L21.89,346.57 L22.35,347.56 L22.81,348.50 L23.26,348.95 L23.72,349.41 L24.18,349.87 L24.64,350.32 L25.10,350.78 L25.56,351.23 L26.02,351.69 L26.48,352.12 L26.94,352.35 L27.40,352.58 L27.86,352.81 L28.32,353.03 L28.77,353.26 L29.23,353.49 L29.69,353.72 L30.15,353.95 L30.61,354.17 L31.07,354.40 L31.53,354.63 L31.99,354.86 L32.45,355.09 L32.91,355.30 L33.37,355.42 L33.83,355.55 L34.28,355.67 L34.74,355.79 L35.20,355.91 L35.66,356.04 L36.12,356.16 L36.58,356.28 L37.04,356.41 L37.50,356.53 L37.96,356.65 L38.42,356.78 L38.88,356.90 L39.34,357.02 L39.79,357.14 L40.25,357.27 L40.71,357.39 L41.17,357.51 L41.63,357.59 L42.09,357.65 L42.55,357.71 L43.01,357.76 L43.47,357.82 L43.93,357.88 L44.39,357.93 L44.85,357.99 L45.30,358.05 L45.76,358.10 L46.22,358.16 L46.68,358.22 L47.14,358.27 L47.60,358.33 L48.06,358.38 L48.52,358.44 L48.98,358.50 L49.44,358.55 L49.90,358.61 L50.36,358.67 L50.81,358.72 L51.27,358.76 L51.73,358.80 L52.19,358.85 L52.65,358.89 L53.11,358.93 L53.57,358.98 L54.03,359.02 L54.49,359.06 L54.95,359.11 L55.41,359.15 L55.87,359.19 L56.32,359.24 L56.78,359.28 L57.24,359.32 L57.70,359.37 L58.16,359.41 L58.62,359.45 L59.08,359.50 L59.54,359.54 L60.00,359.58 L60.46,359.63 L60.92,359.67 L61.38,359.71 L61.84,359.76 L62.29,359.80 L62.75,359.85 L63.21,359.91 L63.67,359.98 L64.13,360.04 L64.59,360.11 L65.05,360.17 L65.51,360.23 L65.97,360.30 L66.43,360.36 L66.89,360.43 L67.35,360.49 L67.80,360.55 L68.26,360.62 L68.72,360.68 L69.18,360.75 L69.64,360.81 L70.10,360.87 L70.56,360.94 L71.02,361.00 L71.48,361.07 L71.94,361.13 L72.40,361.19 L72.86,361.22 L73.31,361.24 L73.77,361.26 L74.23,361.28 L74.69,361.30 L75.15,361.32 L75.61,361.34 L76.07,361.36 L76.53,361.38 L76.99,361.40 L77.45,361.42 L77.91,361.44 L78.37,361.46 L78.82,361.48 L79.28,361.50 L79.74,361.52 L80.20,361.54 L80.66,361.56 L81.12,361.58 L81.58,361.60 L82.04,361.62 L82.50,361.64 L82.96,361.66 L83.42,361.68 L83.88,361.70 L84.33,361.72 L84.79,361.74 L85.25,361.76 L85.71,361.78 L86.17,361.80 L86.63,361.82 L87.09,361.84 L87.55,361.86 L88.01,361.88 L88.47,361.90 L88.93,361.92 L89.39,361.94 L89.84,361.96 L90.30,361.98 L90.76,361.99 L91.22,362.01 L91.68,362.03 L92.14,362.05 L92.60,362.07 L93.06,362.09 L93.52,362.10 L93.98,362.12 L94.44,362.14 L94.90,362.16 L95.35,362.18 L95.81,362.20 L96.27,362.21 L96.73,362.23 L97.19,362.25 L97.65,362.27 L98.11,362.29 L98.57,362.31 L99.03,362.32 L99.49,362.34 L99.95,362.36 L100.41,362.38 L100.87,362.40 L101.32,362.42 L101.78,362.43 L102.24,362.45 L102.70,362.47 L103.16,362.49 L103.62,362.51 L104.08,362.53 L104.54,362.54 L105.00,362.56 L105.46,362.59 L105.92,362.63 L106.38,362.66 L106.83,362.69 L107.29,362.73 L107.75,362.76 L108.21,362.79 L108.67,362.82 L109.13,362.86 L109.59,362.89 L110.05,362.92 L110.51,362.96 L110.97,362.99 L111.43,363.02 L111.89,363.05 L112.34,363.09 L112.80,363.12 L113.26,363.15 L113.72,363.19 L114.18,363.22 L114.64,363.25 L115.10,363.28 L115.56,363.32 L116.02,363.35 L116.48,363.38 L116.94,363.42 L117.40,363.45 L117.85,363.48 L118.31,363.51 L118.77,363.55 L119.23,363.58 L119.69,363.61 L120.15,363.65 L120.61,363.68 L121.07,363.71 L121.53,363.75 L121.99,363.78 L122.45,363.81 L122.91,363.84 L123.36,363.88 L123.82,363.91 L124.28,363.94 L124.74,363.98 L125.20,364.01 L125.66,364.04 L126.12,364.07 L126.58,364.11 L127.04,364.16 L127.50,364.23 L127.96,364.29 L128.42,364.35 L128.87,364.41 L129.33,364.47 L129.79,364.53 L130.25,364.59 L130.71,364.66 L131.17,364.72 L131.63,364.78 L132.09,364.84 L132.55,364.90 L133.01,364.96 L133.47,365.03 L133.93,365.09 L134.38,365.15 L134.84,365.21 L135.30,365.27 L135.76,365.36 L136.22,365.46 L136.68,365.56 L137.14,365.67 L137.60,365.77 L138.06,365.87 L138.52,365.97 L138.98,366.08 L139.44,366.18 L139.90,366.28 L140.35,366.38 L140.81,366.49 L141.27,366.59 L141.73,366.69 L142.19,366.79 L142.65,366.90 L143.11,367.00 L143.57,367.10 L144.03,367.27 L144.49,367.44 L144.95,367.61 L145.41,367.78 L145.86,367.96 L146.32,368.13 L146.78,368.30 L147.24,368.48 L147.70,368.65 L148.16,368.82 L148.62,369.00 L149.08,369.18 L149.54,369.49 L150.00,369.80 L150.46,370.12 L150.92,370.43 L151.37,370.75 L151.83,371.06 L152.29,371.58 L152.75,372.26 L153.21,372.94 L153.67,373.63 L154.13,374.31 L154.59,375.14 L155.05,376.53 L155.51,377.91 L155.97,379.78 L156.43,383.06 L156.88,386.50 L157.34,394.41 L157.34,361.20Z" fill="#d4d4d4"/>
<line x1="72.44" y1="339.20" x2="72.44" y2="384.50" stroke="#c8c8c8" stroke-width="0.5" stroke-dasharray="1.5,1.2"/>
<text x="87.55" y="360.00" font-size="6.83" text-anchor="middle" font-weight="bold" fill="#111">Zero cross at 7716</text>
<line x1="18.35" y1="343.00" x2="19.75" y2="343.00" stroke="#555" stroke-width="0.4"/>
<text x="17.55" y="343.00" font-size="5.2" text-anchor="middle" fill="#333" transform="rotate(-90 17.55 343.00)">4</text>
<line x1="18.35" y1="352.10" x2="19.75" y2="352.10" stroke="#555" stroke-width="0.4"/>
<text x="17.55" y="352.10" font-size="5.2" text-anchor="middle" fill="#333" transform="rotate(-90 17.55 352.10)">2</text>
<line x1="18.35" y1="361.20" x2="19.75" y2="361.20" stroke="#555" stroke-width="0.4"/>
<text x="17.55" y="361.20" font-size="5.2" text-anchor="middle" fill="#333" transform="rotate(-90 17.55 361.20)">0</text>
<line x1="18.35" y1="370.30" x2="19.75" y2="370.30" stroke="#555" stroke-width="0.4"/>
<text x="17.55" y="370.30" font-size="5.2" text-anchor="middle" fill="#333" transform="rotate(-90 17.55 370.30)">−2</text>
<line x1="18.35" y1="379.40" x2="19.75" y2="379.40" stroke="#555" stroke-width="0.4"/>
<text x="17.55" y="379.40" font-size="5.2" text-anchor="middle" fill="#333" transform="rotate(-90 17.55 379.40)">−4</text>
<rect x="19.75" y="250.40" width="140.60" height="62.80" fill="none" stroke="#6e6e6e" stroke-width="0.7"/>
<rect x="19.75" y="313.20" width="140.60" height="26.00" fill="none" stroke="#6e6e6e" stroke-width="0.7"/>
<rect x="19.75" y="339.20" width="140.60" height="45.30" fill="none" stroke="#6e6e6e" stroke-width="0.7"/>
<line x1="54.00" y1="384.50" x2="54.00" y2="385.90" stroke="#555" stroke-width="0.4"/>
<text x="54.00" y="391.10" font-size="5.8" text-anchor="middle" fill="#333">5000</text>
<line x1="87.95" y1="384.50" x2="87.95" y2="385.90" stroke="#555" stroke-width="0.4"/>
<text x="87.95" y="391.10" font-size="5.8" text-anchor="middle" fill="#333">10000</text>
<line x1="121.90" y1="384.50" x2="121.90" y2="385.90" stroke="#555" stroke-width="0.4"/>
<text x="121.90" y="391.10" font-size="5.8" text-anchor="middle" fill="#333">15000</text>
<line x1="155.85" y1="384.50" x2="155.85" y2="385.90" stroke="#555" stroke-width="0.4"/>
<text x="155.85" y="391.10" font-size="5.8" text-anchor="middle" fill="#333">20000</text>
<text x="99.75" y="399.60" font-size="7.9" text-anchor="middle" font-weight="bold" fill="#111">Rank in ordered gene list</text>
<text x="11.65" y="281.00" font-size="7.9" text-anchor="middle" font-weight="bold" fill="#111" transform="rotate(-90 11.65 281.00)">Enrichment score</text>
<text x="11.65" y="364.00" font-size="7.9" text-anchor="middle" font-weight="bold" fill="#111" transform="rotate(-90 11.65 364.00)">SCORE</text>
<text x="260.90" y="246.00" font-size="7.95" text-anchor="middle" font-weight="bold">TNF signaling pathway</text>
<line x1="190.60" y1="305.40" x2="331.20" y2="305.40" stroke="#e6e6e6" stroke-width="0.5" stroke-dasharray="1,1.5"/>
<line x1="190.60" y1="287.00" x2="331.20" y2="287.00" stroke="#e6e6e6" stroke-width="0.5" stroke-dasharray="1,1.5"/>
<line x1="190.60" y1="277.80" x2="331.20" y2="277.80" stroke="#e6e6e6" stroke-width="0.5" stroke-dasharray="1,1.5"/>
<line x1="190.60" y1="268.60" x2="331.20" y2="268.60" stroke="#e6e6e6" stroke-width="0.5" stroke-dasharray="1,1.5"/>
<line x1="190.60" y1="259.40" x2="331.20" y2="259.40" stroke="#e6e6e6" stroke-width="0.5" stroke-dasharray="1,1.5"/>
<line x1="190.60" y1="250.20" x2="331.20" y2="250.20" stroke="#e6e6e6" stroke-width="0.5" stroke-dasharray="1,1.5"/>
<line x1="190.60" y1="296.20" x2="331.20" y2="296.20" stroke="#9a9a9a" stroke-width="0.5" stroke-dasharray="1,1.3"/>
<path d="M190.60,296.20 L191.20,283.32 L192.10,269.52 L193.90,265.84 L196.80,261.24 L199.70,261.24 L202.60,259.86 L206.10,259.40 L208.70,260.14 L213.10,257.56 L216.60,259.03 L222.50,260.23 L227.10,262.53 L235.30,266.67 L247.00,274.86 L258.70,282.49 L271.30,289.76 L283.00,296.57 L293.90,302.82 L299.70,303.56 L304.40,305.58 L308.50,305.40 L310.80,304.20 L314.90,306.23 L319.60,301.26 L323.60,302.00 L324.20,298.50 L328.30,295.92" fill="none" stroke="#f0251f" stroke-width="1.3" stroke-linejoin="round"/>
<text x="278.90" y="257.60" font-size="5.62" fill="#1a1a1a">Nominal p−value: 0</text>
<text x="278.10" y="264.25" font-size="5.62" fill="#1a1a1a">FDR: 0.16854124</text>
<text x="283.00" y="270.90" font-size="5.62" fill="#1a1a1a">ES: 0.4320095</text>
<text x="262.90" y="277.55" font-size="5.62" fill="#1a1a1a">Normalized ES: 1.4334341</text>
<line x1="189.20" y1="305.40" x2="190.60" y2="305.40" stroke="#555" stroke-width="0.4"/>
<text x="188.40" y="305.40" font-size="5.2" text-anchor="middle" fill="#333" transform="rotate(-90 188.40 305.40)">−0.1</text>
<line x1="189.20" y1="296.20" x2="190.60" y2="296.20" stroke="#555" stroke-width="0.4"/>
<line x1="189.20" y1="287.00" x2="190.60" y2="287.00" stroke="#555" stroke-width="0.4"/>
<text x="188.40" y="287.00" font-size="5.2" text-anchor="middle" fill="#333" transform="rotate(-90 188.40 287.00)">0.1</text>
<line x1="189.20" y1="277.80" x2="190.60" y2="277.80" stroke="#555" stroke-width="0.4"/>
<text x="188.40" y="277.80" font-size="5.2" text-anchor="middle" fill="#333" transform="rotate(-90 188.40 277.80)">0.2</text>
<line x1="189.20" y1="268.60" x2="190.60" y2="268.60" stroke="#555" stroke-width="0.4"/>
<text x="188.40" y="268.60" font-size="5.2" text-anchor="middle" fill="#333" transform="rotate(-90 188.40 268.60)">0.3</text>
<line x1="189.20" y1="259.40" x2="190.60" y2="259.40" stroke="#555" stroke-width="0.4"/>
<text x="188.40" y="259.40" font-size="5.2" text-anchor="middle" fill="#333" transform="rotate(-90 188.40 259.40)">0.4</text>
<line x1="189.20" y1="250.20" x2="190.60" y2="250.20" stroke="#555" stroke-width="0.4"/>
<text x="188.40" y="250.20" font-size="5.2" text-anchor="middle" fill="#333" transform="rotate(-90 188.40 250.20)">0.5</text>
<rect x="190.60" y="313.20" width="1.05" height="21.60" fill="#222222"/>
<rect x="191.58" y="313.20" width="0.53" height="21.60" fill="#555555"/>
<rect x="192.10" y="313.20" width="4.73" height="21.60" fill="#aaaaaa"/>
<rect x="196.83" y="313.20" width="0.74" height="21.60" fill="#555555"/>
<rect x="198.93" y="313.20" width="1.05" height="21.60" fill="#777777"/>
<rect x="199.99" y="313.20" width="1.05" height="21.60" fill="#bbbbbb"/>
<rect x="201.04" y="313.20" width="1.05" height="21.60" fill="#888888"/>
<rect x="203.14" y="313.20" width="1.05" height="21.60" fill="#888888"/>
<rect x="204.19" y="313.20" width="1.37" height="21.60" fill="#aaaaaa"/>
<rect x="205.56" y="313.20" width="1.05" height="21.60" fill="#cccccc"/>
<rect x="206.61" y="313.20" width="1.26" height="21.60" fill="#888888"/>
<rect x="208.92" y="313.20" width="1.58" height="21.60" fill="#777777"/>
<rect x="210.50" y="313.20" width="2.10" height="21.60" fill="#666666"/>
<rect x="212.60" y="313.20" width="1.05" height="21.60" fill="#777777"/>
<rect x="216.80" y="313.20" width="1.05" height="21.60" fill="#999999"/>
<rect x="217.85" y="313.20" width="1.05" height="21.60" fill="#666666"/>
<rect x="220.48" y="313.20" width="1.05" height="21.60" fill="#888888"/>
<rect x="221.53" y="313.20" width="2.10" height="21.60" fill="#bbbbbb"/>
<rect x="226.26" y="313.20" width="1.58" height="21.60" fill="#888888"/>
<rect x="229.94" y="313.20" width="1.58" height="21.60" fill="#aaaaaa"/>
<rect x="231.52" y="313.20" width="1.58" height="21.60" fill="#888888"/>
<rect x="234.15" y="313.20" width="2.10" height="21.60" fill="#999999"/>
<rect x="236.25" y="313.20" width="1.58" height="21.60" fill="#777777"/>
<rect x="237.82" y="313.20" width="1.58" height="21.60" fill="#bbbbbb"/>
<rect x="239.40" y="313.20" width="1.05" height="21.60" fill="#999999"/>
<rect x="240.45" y="313.20" width="1.05" height="21.60" fill="#666666"/>
<rect x="243.61" y="313.20" width="1.05" height="21.60" fill="#cccccc"/>
<rect x="247.28" y="313.20" width="1.58" height="21.60" fill="#bbbbbb"/>
<rect x="253.06" y="313.20" width="1.05" height="21.60" fill="#666666"/>
<rect x="255.69" y="313.20" width="1.05" height="21.60" fill="#999999"/>
<rect x="274.72" y="313.20" width="1.05" height="21.60" fill="#999999"/>
<rect x="275.77" y="313.20" width="1.05" height="21.60" fill="#666666"/>
<rect x="280.50" y="313.20" width="1.05" height="21.60" fill="#cccccc"/>
<rect x="282.07" y="313.20" width="1.58" height="21.60" fill="#aaaaaa"/>
<rect x="286.28" y="313.20" width="0.84" height="21.60" fill="#bbbbbb"/>
<rect x="287.12" y="313.20" width="1.05" height="21.60" fill="#666666"/>
<rect x="291.53" y="313.20" width="2.10" height="21.60" fill="#bbbbbb"/>
<rect x="293.63" y="313.20" width="1.05" height="21.60" fill="#888888"/>
<rect x="294.69" y="313.20" width="1.58" height="21.60" fill="#666666"/>
<rect x="296.26" y="313.20" width="1.58" height="21.60" fill="#bbbbbb"/>
<rect x="297.84" y="313.20" width="1.26" height="21.60" fill="#999999"/>
<rect x="300.47" y="313.20" width="1.05" height="21.60" fill="#aaaaaa"/>
<rect x="304.15" y="313.20" width="4.73" height="21.60" fill="#999999"/>
<rect x="308.88" y="313.20" width="1.05" height="21.60" fill="#777777"/>
<rect x="311.50" y="313.20" width="1.05" height="21.60" fill="#cccccc"/>
<rect x="315.71" y="313.20" width="1.05" height="21.60" fill="#999999"/>
<rect x="316.76" y="313.20" width="1.05" height="21.60" fill="#444444"/>
<rect x="317.81" y="313.20" width="2.10" height="21.60" fill="#bbbbbb"/>
<rect x="323.06" y="313.20" width="4.20" height="21.60" fill="#cccccc"/>
<rect x="327.27" y="313.20" width="1.05" height="21.60" fill="#999999"/>
<rect x="190.90" y="334.80" width="22.00" height="4.40" fill="#dc4649"/>
<rect x="212.90" y="334.80" width="9.30" height="4.40" fill="#e36a6d"/>
<rect x="222.20" y="334.80" width="10.40" height="4.40" fill="#eda3a5"/>
<rect x="232.60" y="334.80" width="10.00" height="4.40" fill="#f4d0d2"/>
<rect x="242.60" y="334.80" width="32.20" height="4.40" fill="#f8e2e3"/>
<rect x="274.80" y="334.80" width="10.60" height="4.40" fill="#dee0f3"/>
<rect x="285.40" y="334.80" width="10.60" height="4.40" fill="#aab0de"/>
<rect x="296.00" y="334.80" width="10.50" height="4.40" fill="#727bc7"/>
<rect x="306.50" y="334.80" width="22.10" height="4.40" fill="#4350aa"/>
<text x="193.20" y="338.30" font-size="5.4" fill="#6a0c0c">Positive</text>
<text x="327.60" y="338.30" font-size="5.4" text-anchor="end" fill="#101a4a">Negative</text>
<path d="M190.90,361.20 L190.90,341.86 L191.36,343.20 L191.82,344.53 L192.28,345.59 L192.74,346.57 L193.20,347.56 L193.66,348.50 L194.11,348.95 L194.57,349.41 L195.03,349.87 L195.49,350.32 L195.95,350.78 L196.41,351.23 L196.87,351.69 L197.33,352.12 L197.79,352.35 L198.25,352.58 L198.71,352.81 L199.17,353.03 L199.62,353.26 L200.08,353.49 L200.54,353.72 L201.00,353.95 L201.46,354.17 L201.92,354.40 L202.38,354.63 L202.84,354.86 L203.30,355.09 L203.76,355.30 L204.22,355.42 L204.68,355.55 L205.13,355.67 L205.59,355.79 L206.05,355.91 L206.51,356.04 L206.97,356.16 L207.43,356.28 L207.89,356.41 L208.35,356.53 L208.81,356.65 L209.27,356.78 L209.73,356.90 L210.19,357.02 L210.64,357.14 L211.10,357.27 L211.56,357.39 L212.02,357.51 L212.48,357.59 L212.94,357.65 L213.40,357.71 L213.86,357.76 L214.32,357.82 L214.78,357.88 L215.24,357.93 L215.70,357.99 L216.15,358.05 L216.61,358.10 L217.07,358.16 L217.53,358.22 L217.99,358.27 L218.45,358.33 L218.91,358.38 L219.37,358.44 L219.83,358.50 L220.29,358.55 L220.75,358.61 L221.21,358.67 L221.66,358.72 L222.12,358.76 L222.58,358.80 L223.04,358.85 L223.50,358.89 L223.96,358.93 L224.42,358.98 L224.88,359.02 L225.34,359.06 L225.80,359.11 L226.26,359.15 L226.72,359.19 L227.17,359.24 L227.63,359.28 L228.09,359.32 L228.55,359.37 L229.01,359.41 L229.47,359.45 L229.93,359.50 L230.39,359.54 L230.85,359.58 L231.31,359.63 L231.77,359.67 L232.23,359.71 L232.69,359.76 L233.14,359.80 L233.60,359.85 L234.06,359.91 L234.52,359.98 L234.98,360.04 L235.44,360.11 L235.90,360.17 L236.36,360.23 L236.82,360.30 L237.28,360.36 L237.74,360.43 L238.20,360.49 L238.65,360.55 L239.11,360.62 L239.57,360.68 L240.03,360.75 L240.49,360.81 L240.95,360.87 L241.41,360.94 L241.87,361.00 L242.33,361.07 L242.79,361.13 L243.25,361.19 L243.71,361.22 L244.16,361.24 L244.62,361.26 L245.08,361.28 L245.54,361.30 L246.00,361.32 L246.46,361.34 L246.92,361.36 L247.38,361.38 L247.84,361.40 L248.30,361.42 L248.76,361.44 L249.22,361.46 L249.67,361.48 L250.13,361.50 L250.59,361.52 L251.05,361.54 L251.51,361.56 L251.97,361.58 L252.43,361.60 L252.89,361.62 L253.35,361.64 L253.81,361.66 L254.27,361.68 L254.73,361.70 L255.18,361.72 L255.64,361.74 L256.10,361.76 L256.56,361.78 L257.02,361.80 L257.48,361.82 L257.94,361.84 L258.40,361.86 L258.86,361.88 L259.32,361.90 L259.78,361.92 L260.24,361.94 L260.69,361.96 L261.15,361.98 L261.61,361.99 L262.07,362.01 L262.53,362.03 L262.99,362.05 L263.45,362.07 L263.91,362.09 L264.37,362.10 L264.83,362.12 L265.29,362.14 L265.75,362.16 L266.20,362.18 L266.66,362.20 L267.12,362.21 L267.58,362.23 L268.04,362.25 L268.50,362.27 L268.96,362.29 L269.42,362.31 L269.88,362.32 L270.34,362.34 L270.80,362.36 L271.26,362.38 L271.72,362.40 L272.17,362.42 L272.63,362.43 L273.09,362.45 L273.55,362.47 L274.01,362.49 L274.47,362.51 L274.93,362.53 L275.39,362.54 L275.85,362.56 L276.31,362.59 L276.77,362.63 L277.23,362.66 L277.68,362.69 L278.14,362.73 L278.60,362.76 L279.06,362.79 L279.52,362.82 L279.98,362.86 L280.44,362.89 L280.90,362.92 L281.36,362.96 L281.82,362.99 L282.28,363.02 L282.74,363.05 L283.19,363.09 L283.65,363.12 L284.11,363.15 L284.57,363.19 L285.03,363.22 L285.49,363.25 L285.95,363.28 L286.41,363.32 L286.87,363.35 L287.33,363.38 L287.79,363.42 L288.25,363.45 L288.70,363.48 L289.16,363.51 L289.62,363.55 L290.08,363.58 L290.54,363.61 L291.00,363.65 L291.46,363.68 L291.92,363.71 L292.38,363.75 L292.84,363.78 L293.30,363.81 L293.76,363.84 L294.21,363.88 L294.67,363.91 L295.13,363.94 L295.59,363.98 L296.05,364.01 L296.51,364.04 L296.97,364.07 L297.43,364.11 L297.89,364.16 L298.35,364.23 L298.81,364.29 L299.27,364.35 L299.72,364.41 L300.18,364.47 L300.64,364.53 L301.10,364.59 L301.56,364.66 L302.02,364.72 L302.48,364.78 L302.94,364.84 L303.40,364.90 L303.86,364.96 L304.32,365.03 L304.78,365.09 L305.23,365.15 L305.69,365.21 L306.15,365.27 L306.61,365.36 L307.07,365.46 L307.53,365.56 L307.99,365.67 L308.45,365.77 L308.91,365.87 L309.37,365.97 L309.83,366.08 L310.29,366.18 L310.75,366.28 L311.20,366.38 L311.66,366.49 L312.12,366.59 L312.58,366.69 L313.04,366.79 L313.50,366.90 L313.96,367.00 L314.42,367.10 L314.88,367.27 L315.34,367.44 L315.80,367.61 L316.26,367.78 L316.71,367.96 L317.17,368.13 L317.63,368.30 L318.09,368.48 L318.55,368.65 L319.01,368.82 L319.47,369.00 L319.93,369.18 L320.39,369.49 L320.85,369.80 L321.31,370.12 L321.77,370.43 L322.22,370.75 L322.68,371.06 L323.14,371.58 L323.60,372.26 L324.06,372.94 L324.52,373.63 L324.98,374.31 L325.44,375.14 L325.90,376.53 L326.36,377.91 L326.82,379.78 L327.28,383.06 L327.73,386.50 L328.19,394.41 L328.19,361.20Z" fill="#d4d4d4"/>
<line x1="243.29" y1="339.20" x2="243.29" y2="384.50" stroke="#c8c8c8" stroke-width="0.5" stroke-dasharray="1.5,1.2"/>
<text x="258.40" y="360.00" font-size="6.83" text-anchor="middle" font-weight="bold" fill="#111">Zero cross at 7716</text>
<line x1="189.20" y1="343.00" x2="190.60" y2="343.00" stroke="#555" stroke-width="0.4"/>
<text x="188.40" y="343.00" font-size="5.2" text-anchor="middle" fill="#333" transform="rotate(-90 188.40 343.00)">4</text>
<line x1="189.20" y1="352.10" x2="190.60" y2="352.10" stroke="#555" stroke-width="0.4"/>
<text x="188.40" y="352.10" font-size="5.2" text-anchor="middle" fill="#333" transform="rotate(-90 188.40 352.10)">2</text>
<line x1="189.20" y1="361.20" x2="190.60" y2="361.20" stroke="#555" stroke-width="0.4"/>
<text x="188.40" y="361.20" font-size="5.2" text-anchor="middle" fill="#333" transform="rotate(-90 188.40 361.20)">0</text>
<line x1="189.20" y1="370.30" x2="190.60" y2="370.30" stroke="#555" stroke-width="0.4"/>
<text x="188.40" y="370.30" font-size="5.2" text-anchor="middle" fill="#333" transform="rotate(-90 188.40 370.30)">−2</text>
<line x1="189.20" y1="379.40" x2="190.60" y2="379.40" stroke="#555" stroke-width="0.4"/>
<text x="188.40" y="379.40" font-size="5.2" text-anchor="middle" fill="#333" transform="rotate(-90 188.40 379.40)">−4</text>
<rect x="190.60" y="250.40" width="140.60" height="62.80" fill="none" stroke="#6e6e6e" stroke-width="0.7"/>
<rect x="190.60" y="313.20" width="140.60" height="26.00" fill="none" stroke="#6e6e6e" stroke-width="0.7"/>
<rect x="190.60" y="339.20" width="140.60" height="45.30" fill="none" stroke="#6e6e6e" stroke-width="0.7"/>
<line x1="224.85" y1="384.50" x2="224.85" y2="385.90" stroke="#555" stroke-width="0.4"/>
<text x="224.85" y="391.10" font-size="5.8" text-anchor="middle" fill="#333">5000</text>
<line x1="258.80" y1="384.50" x2="258.80" y2="385.90" stroke="#555" stroke-width="0.4"/>
<text x="258.80" y="391.10" font-size="5.8" text-anchor="middle" fill="#333">10000</text>
<line x1="292.75" y1="384.50" x2="292.75" y2="385.90" stroke="#555" stroke-width="0.4"/>
<text x="292.75" y="391.10" font-size="5.8" text-anchor="middle" fill="#333">15000</text>
<line x1="326.70" y1="384.50" x2="326.70" y2="385.90" stroke="#555" stroke-width="0.4"/>
<text x="326.70" y="391.10" font-size="5.8" text-anchor="middle" fill="#333">20000</text>
<text x="270.60" y="399.60" font-size="7.9" text-anchor="middle" font-weight="bold" fill="#111">Rank in ordered gene list</text>
<text x="182.50" y="281.00" font-size="7.9" text-anchor="middle" font-weight="bold" fill="#111" transform="rotate(-90 182.50 281.00)">Enrichment score</text>
<text x="182.50" y="364.00" font-size="7.9" text-anchor="middle" font-weight="bold" fill="#111" transform="rotate(-90 182.50 364.00)">SCORE</text>
<text x="431.50" y="246.00" font-size="7.95" text-anchor="middle" font-weight="bold">IL−17 signaling pathway</text>
<line x1="361.20" y1="285.80" x2="501.80" y2="285.80" stroke="#e6e6e6" stroke-width="0.5" stroke-dasharray="1,1.5"/>
<line x1="361.20" y1="269.60" x2="501.80" y2="269.60" stroke="#e6e6e6" stroke-width="0.5" stroke-dasharray="1,1.5"/>
<line x1="361.20" y1="253.40" x2="501.80" y2="253.40" stroke="#e6e6e6" stroke-width="0.5" stroke-dasharray="1,1.5"/>
<line x1="361.20" y1="302.00" x2="501.80" y2="302.00" stroke="#9a9a9a" stroke-width="0.5" stroke-dasharray="1,1.3"/>
<path d="M361.20,302.00 L361.90,286.61 L363.40,268.79 L364.80,265.55 L366.00,262.47 L369.50,262.31 L370.70,259.07 L374.20,258.50 L376.50,257.69 L380.00,259.31 L385.90,260.85 L391.70,261.90 L397.50,264.90 L405.70,268.87 L417.40,276.32 L429.10,282.40 L441.70,288.80 L453.40,295.20 L462.70,300.14 L465.00,300.62 L474.40,303.62 L484.90,306.13 L487.20,301.84 L490.70,301.51 L492.50,299.25 L494.80,299.00 L498.90,301.84" fill="none" stroke="#f0251f" stroke-width="1.3" stroke-linejoin="round"/>
<text x="445.10" y="257.60" font-size="5.62" fill="#1a1a1a">Nominal p−value: 0</text>
<text x="445.80" y="264.25" font-size="5.62" fill="#1a1a1a">FDR: 0.011225849</text>
<text x="453.00" y="270.90" font-size="5.62" fill="#1a1a1a">ES: 0.5505544</text>
<text x="432.20" y="277.55" font-size="5.62" fill="#1a1a1a">Normalized ES: 1.7777067</text>
<line x1="359.80" y1="302.00" x2="361.20" y2="302.00" stroke="#555" stroke-width="0.4"/>
<text x="359.00" y="302.00" font-size="5.2" text-anchor="middle" fill="#333" transform="rotate(-90 359.00 302.00)">0.0</text>
<line x1="359.80" y1="285.80" x2="361.20" y2="285.80" stroke="#555" stroke-width="0.4"/>
<text x="359.00" y="285.80" font-size="5.2" text-anchor="middle" fill="#333" transform="rotate(-90 359.00 285.80)">0.2</text>
<line x1="359.80" y1="269.60" x2="361.20" y2="269.60" stroke="#555" stroke-width="0.4"/>
<text x="359.00" y="269.60" font-size="5.2" text-anchor="middle" fill="#333" transform="rotate(-90 359.00 269.60)">0.4</text>
<line x1="359.80" y1="253.40" x2="361.20" y2="253.40" stroke="#555" stroke-width="0.4"/>
<text x="359.00" y="253.40" font-size="5.2" text-anchor="middle" fill="#333" transform="rotate(-90 359.00 253.40)">0.6</text>
<rect x="361.20" y="313.20" width="1.58" height="21.60" fill="#333333"/>
<rect x="362.63" y="313.20" width="1.58" height="21.60" fill="#777777"/>
<rect x="364.20" y="313.20" width="1.58" height="21.60" fill="#bbbbbb"/>
<rect x="365.78" y="313.20" width="3.15" height="21.60" fill="#dddddd"/>
<rect x="368.93" y="313.20" width="1.05" height="21.60" fill="#555555"/>
<rect x="371.04" y="313.20" width="1.58" height="21.60" fill="#999999"/>
<rect x="372.61" y="313.20" width="2.63" height="21.60" fill="#bbbbbb"/>
<rect x="375.24" y="313.20" width="1.05" height="21.60" fill="#555555"/>
<rect x="378.92" y="313.20" width="1.58" height="21.60" fill="#aaaaaa"/>
<rect x="380.50" y="313.20" width="2.10" height="21.60" fill="#cccccc"/>
<rect x="383.65" y="313.20" width="1.05" height="21.60" fill="#666666"/>
<rect x="385.75" y="313.20" width="1.58" height="21.60" fill="#999999"/>
<rect x="387.33" y="313.20" width="1.58" height="21.60" fill="#bbbbbb"/>
<rect x="388.90" y="313.20" width="3.15" height="21.60" fill="#999999"/>
<rect x="395.74" y="313.20" width="2.63" height="21.60" fill="#888888"/>
<rect x="402.04" y="313.20" width="1.05" height="21.60" fill="#cccccc"/>
<rect x="404.15" y="313.20" width="2.63" height="21.60" fill="#aaaaaa"/>
<rect x="409.93" y="313.20" width="1.58" height="21.60" fill="#888888"/>
<rect x="411.50" y="313.20" width="1.58" height="21.60" fill="#dddddd"/>
<rect x="413.08" y="313.20" width="2.10" height="21.60" fill="#bbbbbb"/>
<rect x="415.18" y="313.20" width="1.58" height="21.60" fill="#999999"/>
<rect x="416.76" y="313.20" width="1.58" height="21.60" fill="#333333"/>
<rect x="418.34" y="313.20" width="1.05" height="21.60" fill="#aaaaaa"/>
<rect x="420.96" y="313.20" width="1.05" height="21.60" fill="#bbbbbb"/>
<rect x="423.59" y="313.20" width="1.58" height="21.60" fill="#999999"/>
<rect x="425.17" y="313.20" width="2.10" height="21.60" fill="#aaaaaa"/>
<rect x="427.27" y="313.20" width="4.73" height="21.60" fill="#cccccc"/>
<rect x="430.00" y="313.20" width="1.05" height="21.60" fill="#888888"/>
<rect x="445.77" y="313.20" width="1.05" height="21.60" fill="#777777"/>
<rect x="448.92" y="313.20" width="2.10" height="21.60" fill="#cccccc"/>
<rect x="452.07" y="313.20" width="1.26" height="21.60" fill="#888888"/>
<rect x="457.85" y="313.20" width="1.05" height="21.60" fill="#888888"/>
<rect x="461.53" y="313.20" width="1.05" height="21.60" fill="#bbbbbb"/>
<rect x="463.63" y="313.20" width="1.05" height="21.60" fill="#999999"/>
<rect x="464.69" y="313.20" width="1.05" height="21.60" fill="#666666"/>
<rect x="466.79" y="313.20" width="1.05" height="21.60" fill="#aaaaaa"/>
<rect x="469.42" y="313.20" width="1.58" height="21.60" fill="#888888"/>
<rect x="474.15" y="313.20" width="4.20" height="21.60" fill="#cccccc"/>
<rect x="478.35" y="313.20" width="1.05" height="21.60" fill="#999999"/>
<rect x="481.50" y="313.20" width="1.05" height="21.60" fill="#777777"/>
<rect x="485.71" y="313.20" width="1.58" height="21.60" fill="#444444"/>
<rect x="487.28" y="313.20" width="1.58" height="21.60" fill="#bbbbbb"/>
<rect x="490.44" y="313.20" width="1.58" height="21.60" fill="#888888"/>
<rect x="493.59" y="313.20" width="1.05" height="21.60" fill="#777777"/>
<rect x="361.50" y="334.80" width="22.00" height="4.40" fill="#dc4649"/>
<rect x="383.50" y="334.80" width="9.30" height="4.40" fill="#e36a6d"/>
<rect x="392.80" y="334.80" width="10.40" height="4.40" fill="#eda3a5"/>
<rect x="403.20" y="334.80" width="10.00" height="4.40" fill="#f4d0d2"/>
<rect x="413.20" y="334.80" width="32.20" height="4.40" fill="#f8e2e3"/>
<rect x="445.40" y="334.80" width="10.60" height="4.40" fill="#dee0f3"/>
<rect x="456.00" y="334.80" width="10.60" height="4.40" fill="#aab0de"/>
<rect x="466.60" y="334.80" width="10.50" height="4.40" fill="#727bc7"/>
<rect x="477.10" y="334.80" width="22.10" height="4.40" fill="#4350aa"/>
<text x="363.80" y="338.30" font-size="5.4" fill="#6a0c0c">Positive</text>
<text x="498.20" y="338.30" font-size="5.4" text-anchor="end" fill="#101a4a">Negative</text>
<path d="M361.50,361.20 L361.50,341.86 L361.96,343.20 L362.42,344.53 L362.88,345.59 L363.34,346.57 L363.80,347.56 L364.26,348.50 L364.71,348.95 L365.17,349.41 L365.63,349.87 L366.09,350.32 L366.55,350.78 L367.01,351.23 L367.47,351.69 L367.93,352.12 L368.39,352.35 L368.85,352.58 L369.31,352.81 L369.77,353.03 L370.22,353.26 L370.68,353.49 L371.14,353.72 L371.60,353.95 L372.06,354.17 L372.52,354.40 L372.98,354.63 L373.44,354.86 L373.90,355.09 L374.36,355.30 L374.82,355.42 L375.28,355.55 L375.73,355.67 L376.19,355.79 L376.65,355.91 L377.11,356.04 L377.57,356.16 L378.03,356.28 L378.49,356.41 L378.95,356.53 L379.41,356.65 L379.87,356.78 L380.33,356.90 L380.79,357.02 L381.24,357.14 L381.70,357.27 L382.16,357.39 L382.62,357.51 L383.08,357.59 L383.54,357.65 L384.00,357.71 L384.46,357.76 L384.92,357.82 L385.38,357.88 L385.84,357.93 L386.30,357.99 L386.75,358.05 L387.21,358.10 L387.67,358.16 L388.13,358.22 L388.59,358.27 L389.05,358.33 L389.51,358.38 L389.97,358.44 L390.43,358.50 L390.89,358.55 L391.35,358.61 L391.81,358.67 L392.26,358.72 L392.72,358.76 L393.18,358.80 L393.64,358.85 L394.10,358.89 L394.56,358.93 L395.02,358.98 L395.48,359.02 L395.94,359.06 L396.40,359.11 L396.86,359.15 L397.32,359.19 L397.77,359.24 L398.23,359.28 L398.69,359.32 L399.15,359.37 L399.61,359.41 L400.07,359.45 L400.53,359.50 L400.99,359.54 L401.45,359.58 L401.91,359.63 L402.37,359.67 L402.83,359.71 L403.29,359.76 L403.74,359.80 L404.20,359.85 L404.66,359.91 L405.12,359.98 L405.58,360.04 L406.04,360.11 L406.50,360.17 L406.96,360.23 L407.42,360.30 L407.88,360.36 L408.34,360.43 L408.80,360.49 L409.25,360.55 L409.71,360.62 L410.17,360.68 L410.63,360.75 L411.09,360.81 L411.55,360.87 L412.01,360.94 L412.47,361.00 L412.93,361.07 L413.39,361.13 L413.85,361.19 L414.31,361.22 L414.76,361.24 L415.22,361.26 L415.68,361.28 L416.14,361.30 L416.60,361.32 L417.06,361.34 L417.52,361.36 L417.98,361.38 L418.44,361.40 L418.90,361.42 L419.36,361.44 L419.82,361.46 L420.27,361.48 L420.73,361.50 L421.19,361.52 L421.65,361.54 L422.11,361.56 L422.57,361.58 L423.03,361.60 L423.49,361.62 L423.95,361.64 L424.41,361.66 L424.87,361.68 L425.33,361.70 L425.78,361.72 L426.24,361.74 L426.70,361.76 L427.16,361.78 L427.62,361.80 L428.08,361.82 L428.54,361.84 L429.00,361.86 L429.46,361.88 L429.92,361.90 L430.38,361.92 L430.84,361.94 L431.29,361.96 L431.75,361.98 L432.21,361.99 L432.67,362.01 L433.13,362.03 L433.59,362.05 L434.05,362.07 L434.51,362.09 L434.97,362.10 L435.43,362.12 L435.89,362.14 L436.35,362.16 L436.80,362.18 L437.26,362.20 L437.72,362.21 L438.18,362.23 L438.64,362.25 L439.10,362.27 L439.56,362.29 L440.02,362.31 L440.48,362.32 L440.94,362.34 L441.40,362.36 L441.86,362.38 L442.32,362.40 L442.77,362.42 L443.23,362.43 L443.69,362.45 L444.15,362.47 L444.61,362.49 L445.07,362.51 L445.53,362.53 L445.99,362.54 L446.45,362.56 L446.91,362.59 L447.37,362.63 L447.83,362.66 L448.28,362.69 L448.74,362.73 L449.20,362.76 L449.66,362.79 L450.12,362.82 L450.58,362.86 L451.04,362.89 L451.50,362.92 L451.96,362.96 L452.42,362.99 L452.88,363.02 L453.34,363.05 L453.79,363.09 L454.25,363.12 L454.71,363.15 L455.17,363.19 L455.63,363.22 L456.09,363.25 L456.55,363.28 L457.01,363.32 L457.47,363.35 L457.93,363.38 L458.39,363.42 L458.85,363.45 L459.30,363.48 L459.76,363.51 L460.22,363.55 L460.68,363.58 L461.14,363.61 L461.60,363.65 L462.06,363.68 L462.52,363.71 L462.98,363.75 L463.44,363.78 L463.90,363.81 L464.36,363.84 L464.81,363.88 L465.27,363.91 L465.73,363.94 L466.19,363.98 L466.65,364.01 L467.11,364.04 L467.57,364.07 L468.03,364.11 L468.49,364.16 L468.95,364.23 L469.41,364.29 L469.87,364.35 L470.32,364.41 L470.78,364.47 L471.24,364.53 L471.70,364.59 L472.16,364.66 L472.62,364.72 L473.08,364.78 L473.54,364.84 L474.00,364.90 L474.46,364.96 L474.92,365.03 L475.38,365.09 L475.83,365.15 L476.29,365.21 L476.75,365.27 L477.21,365.36 L477.67,365.46 L478.13,365.56 L478.59,365.67 L479.05,365.77 L479.51,365.87 L479.97,365.97 L480.43,366.08 L480.89,366.18 L481.35,366.28 L481.80,366.38 L482.26,366.49 L482.72,366.59 L483.18,366.69 L483.64,366.79 L484.10,366.90 L484.56,367.00 L485.02,367.10 L485.48,367.27 L485.94,367.44 L486.40,367.61 L486.86,367.78 L487.31,367.96 L487.77,368.13 L488.23,368.30 L488.69,368.48 L489.15,368.65 L489.61,368.82 L490.07,369.00 L490.53,369.18 L490.99,369.49 L491.45,369.80 L491.91,370.12 L492.37,370.43 L492.82,370.75 L493.28,371.06 L493.74,371.58 L494.20,372.26 L494.66,372.94 L495.12,373.63 L495.58,374.31 L496.04,375.14 L496.50,376.53 L496.96,377.91 L497.42,379.78 L497.88,383.06 L498.33,386.50 L498.79,394.41 L498.79,361.20Z" fill="#d4d4d4"/>
<line x1="413.89" y1="339.20" x2="413.89" y2="384.50" stroke="#c8c8c8" stroke-width="0.5" stroke-dasharray="1.5,1.2"/>
<text x="429.00" y="360.00" font-size="6.83" text-anchor="middle" font-weight="bold" fill="#111">Zero cross at 7716</text>
<line x1="359.80" y1="343.00" x2="361.20" y2="343.00" stroke="#555" stroke-width="0.4"/>
<text x="359.00" y="343.00" font-size="5.2" text-anchor="middle" fill="#333" transform="rotate(-90 359.00 343.00)">4</text>
<line x1="359.80" y1="352.10" x2="361.20" y2="352.10" stroke="#555" stroke-width="0.4"/>
<text x="359.00" y="352.10" font-size="5.2" text-anchor="middle" fill="#333" transform="rotate(-90 359.00 352.10)">2</text>
<line x1="359.80" y1="361.20" x2="361.20" y2="361.20" stroke="#555" stroke-width="0.4"/>
<text x="359.00" y="361.20" font-size="5.2" text-anchor="middle" fill="#333" transform="rotate(-90 359.00 361.20)">0</text>
<line x1="359.80" y1="370.30" x2="361.20" y2="370.30" stroke="#555" stroke-width="0.4"/>
<text x="359.00" y="370.30" font-size="5.2" text-anchor="middle" fill="#333" transform="rotate(-90 359.00 370.30)">−2</text>
<line x1="359.80" y1="379.40" x2="361.20" y2="379.40" stroke="#555" stroke-width="0.4"/>
<text x="359.00" y="379.40" font-size="5.2" text-anchor="middle" fill="#333" transform="rotate(-90 359.00 379.40)">−4</text>
<rect x="361.20" y="250.40" width="140.60" height="62.80" fill="none" stroke="#6e6e6e" stroke-width="0.7"/>
<rect x="361.20" y="313.20" width="140.60" height="26.00" fill="none" stroke="#6e6e6e" stroke-width="0.7"/>
<rect x="361.20" y="339.20" width="140.60" height="45.30" fill="none" stroke="#6e6e6e" stroke-width="0.7"/>
<line x1="395.45" y1="384.50" x2="395.45" y2="385.90" stroke="#555" stroke-width="0.4"/>
<text x="395.45" y="391.10" font-size="5.8" text-anchor="middle" fill="#333">5000</text>
<line x1="429.40" y1="384.50" x2="429.40" y2="385.90" stroke="#555" stroke-width="0.4"/>
<text x="429.40" y="391.10" font-size="5.8" text-anchor="middle" fill="#333">10000</text>
<line x1="463.35" y1="384.50" x2="463.35" y2="385.90" stroke="#555" stroke-width="0.4"/>
<text x="463.35" y="391.10" font-size="5.8" text-anchor="middle" fill="#333">15000</text>
<line x1="497.30" y1="384.50" x2="497.30" y2="385.90" stroke="#555" stroke-width="0.4"/>
<text x="497.30" y="391.10" font-size="5.8" text-anchor="middle" fill="#333">20000</text>
<text x="441.20" y="399.60" font-size="7.9" text-anchor="middle" font-weight="bold" fill="#111">Rank in ordered gene list</text>
<text x="353.10" y="281.00" font-size="7.9" text-anchor="middle" font-weight="bold" fill="#111" transform="rotate(-90 353.10 281.00)">Enrichment score</text>
<text x="353.10" y="364.00" font-size="7.9" text-anchor="middle" font-weight="bold" fill="#111" transform="rotate(-90 353.10 364.00)">SCORE</text>
<g transform="translate(0,1.1)">
<text x="602.30" y="246.00" font-size="7.95" text-anchor="middle" font-weight="bold">Cytokine−cytokine receptor interaction</text>
<line x1="532.00" y1="307.70" x2="672.60" y2="307.70" stroke="#e6e6e6" stroke-width="0.5" stroke-dasharray="1,1.5"/>
<line x1="532.00" y1="274.90" x2="672.60" y2="274.90" stroke="#e6e6e6" stroke-width="0.5" stroke-dasharray="1,1.5"/>
<line x1="532.00" y1="258.50" x2="672.60" y2="258.50" stroke="#e6e6e6" stroke-width="0.5" stroke-dasharray="1,1.5"/>
<line x1="532.00" y1="291.30" x2="672.60" y2="291.30" stroke="#9a9a9a" stroke-width="0.5" stroke-dasharray="1,1.3"/>
<path d="M532.60,291.30 L532.90,274.90 L534.70,269.08 L536.40,265.63 L538.40,258.34 L541.10,257.43 L544.00,257.76 L546.40,258.34 L548.10,257.19 L552.20,258.17 L556.90,259.48 L565.00,263.83 L568.50,264.73 L579.00,269.08 L588.40,274.90 L600.10,281.38 L611.70,287.61 L617.50,291.14 L629.20,298.11 L638.50,301.63 L645.50,303.93 L647.30,303.44 L651.40,305.32 L653.70,304.34 L657.80,306.47 L660.10,305.08 L663.60,305.08 L665.40,302.21 L666.80,294.58 L668.30,292.78 L669.80,291.14" fill="none" stroke="#f0251f" stroke-width="1.3" stroke-linejoin="round"/>
<text x="616.10" y="257.60" font-size="5.62" fill="#1a1a1a">Nominal p−value: 0</text>
<text x="618.80" y="264.25" font-size="5.62" fill="#1a1a1a">FDR: 0.09350126</text>
<text x="623.80" y="270.90" font-size="5.62" fill="#1a1a1a">ES: 0.4141729</text>
<text x="603.00" y="277.55" font-size="5.62" fill="#1a1a1a">Normalized ES: 1.5225891</text>
<line x1="530.60" y1="307.70" x2="532.00" y2="307.70" stroke="#555" stroke-width="0.4"/>
<text x="529.80" y="307.70" font-size="5.2" text-anchor="middle" fill="#333" transform="rotate(-90 529.80 307.70)">−0.2</text>
<line x1="530.60" y1="291.30" x2="532.00" y2="291.30" stroke="#555" stroke-width="0.4"/>
<text x="529.80" y="291.30" font-size="5.2" text-anchor="middle" fill="#333" transform="rotate(-90 529.80 291.30)">0.0</text>
<line x1="530.60" y1="274.90" x2="532.00" y2="274.90" stroke="#555" stroke-width="0.4"/>
<text x="529.80" y="274.90" font-size="5.2" text-anchor="middle" fill="#333" transform="rotate(-90 529.80 274.90)">0.2</text>
<line x1="530.60" y1="258.50" x2="532.00" y2="258.50" stroke="#555" stroke-width="0.4"/>
<text x="529.80" y="258.50" font-size="5.2" text-anchor="middle" fill="#333" transform="rotate(-90 529.80 258.50)">0.4</text>
<rect x="532.05" y="313.20" width="1.58" height="21.60" fill="#555555"/>
<rect x="533.63" y="313.20" width="2.10" height="21.60" fill="#888888"/>
<rect x="535.73" y="313.20" width="3.15" height="21.60" fill="#333333"/>
<rect x="538.88" y="313.20" width="1.05" height="21.60" fill="#aaaaaa"/>
<rect x="539.93" y="313.20" width="1.58" height="21.60" fill="#cccccc"/>
<rect x="541.51" y="313.20" width="1.58" height="21.60" fill="#eeeeee"/>
<rect x="543.09" y="313.20" width="1.58" height="21.60" fill="#aaaaaa"/>
<rect x="544.66" y="313.20" width="1.58" height="21.60" fill="#999999"/>
<rect x="546.24" y="313.20" width="1.58" height="21.60" fill="#555555"/>
<rect x="547.82" y="313.20" width="1.58" height="21.60" fill="#999999"/>
<rect x="550.45" y="313.20" width="1.05" height="21.60" fill="#999999"/>
<rect x="553.60" y="313.20" width="1.58" height="21.60" fill="#999999"/>
<rect x="555.17" y="313.20" width="1.58" height="21.60" fill="#cccccc"/>
<rect x="557.80" y="313.20" width="1.58" height="21.60" fill="#bbbbbb"/>
<rect x="560.96" y="313.20" width="1.58" height="21.60" fill="#cccccc"/>
<rect x="562.53" y="313.20" width="1.58" height="21.60" fill="#eeeeee"/>
<rect x="564.11" y="313.20" width="3.15" height="21.60" fill="#aaaaaa"/>
<rect x="567.26" y="313.20" width="1.58" height="21.60" fill="#333333"/>
<rect x="569.89" y="313.20" width="1.05" height="21.60" fill="#333333"/>
<rect x="570.94" y="313.20" width="2.10" height="21.60" fill="#999999"/>
<rect x="573.04" y="313.20" width="2.10" height="21.60" fill="#aaaaaa"/>
<rect x="575.15" y="313.20" width="1.58" height="21.60" fill="#dddddd"/>
<rect x="576.72" y="313.20" width="1.05" height="21.60" fill="#999999"/>
<rect x="577.77" y="313.20" width="2.63" height="21.60" fill="#aaaaaa"/>
<rect x="582.50" y="313.20" width="1.05" height="21.60" fill="#cccccc"/>
<rect x="583.55" y="313.20" width="1.58" height="21.60" fill="#777777"/>
<rect x="585.13" y="313.20" width="1.05" height="21.60" fill="#cccccc"/>
<rect x="586.18" y="313.20" width="3.68" height="21.60" fill="#111111"/>
<rect x="589.86" y="313.20" width="1.58" height="21.60" fill="#666666"/>
<rect x="591.44" y="313.20" width="1.58" height="21.60" fill="#333333"/>
<rect x="593.01" y="313.20" width="1.05" height="21.60" fill="#cccccc"/>
<rect x="594.06" y="313.20" width="3.15" height="21.60" fill="#777777"/>
<rect x="597.22" y="313.20" width="1.58" height="21.60" fill="#333333"/>
<rect x="598.79" y="313.20" width="1.58" height="21.60" fill="#aaaaaa"/>
<rect x="600.37" y="313.20" width="2.63" height="21.60" fill="#888888"/>
<rect x="601.00" y="313.20" width="1.58" height="21.60" fill="#888888"/>
<rect x="602.58" y="313.20" width="3.15" height="21.60" fill="#999999"/>
<rect x="605.73" y="313.20" width="1.05" height="21.60" fill="#dddddd"/>
<rect x="607.83" y="313.20" width="2.10" height="21.60" fill="#777777"/>
<rect x="609.93" y="313.20" width="1.05" height="21.60" fill="#444444"/>
<rect x="610.99" y="313.20" width="3.15" height="21.60" fill="#aaaaaa"/>
<rect x="615.72" y="313.20" width="1.05" height="21.60" fill="#cccccc"/>
<rect x="617.82" y="313.20" width="1.58" height="21.60" fill="#555555"/>
<rect x="619.39" y="313.20" width="2.10" height="21.60" fill="#aaaaaa"/>
<rect x="621.50" y="313.20" width="5.26" height="21.60" fill="#888888"/>
<rect x="626.75" y="313.20" width="1.05" height="21.60" fill="#cccccc"/>
<rect x="628.85" y="313.20" width="2.63" height="21.60" fill="#999999"/>
<rect x="631.48" y="313.20" width="1.58" height="21.60" fill="#666666"/>
<rect x="633.06" y="313.20" width="1.58" height="21.60" fill="#dddddd"/>
<rect x="634.63" y="313.20" width="1.58" height="21.60" fill="#aaaaaa"/>
<rect x="637.26" y="313.20" width="1.58" height="21.60" fill="#bbbbbb"/>
<rect x="638.84" y="313.20" width="1.58" height="21.60" fill="#999999"/>
<rect x="640.42" y="313.20" width="1.58" height="21.60" fill="#666666"/>
<rect x="641.99" y="313.20" width="1.58" height="21.60" fill="#aaaaaa"/>
<rect x="643.57" y="313.20" width="1.58" height="21.60" fill="#777777"/>
<rect x="645.15" y="313.20" width="2.10" height="21.60" fill="#444444"/>
<rect x="651.45" y="313.20" width="1.58" height="21.60" fill="#aaaaaa"/>
<rect x="653.03" y="313.20" width="0.53" height="21.60" fill="#555555"/>
<rect x="658.28" y="313.20" width="1.58" height="21.60" fill="#999999"/>
<rect x="661.44" y="313.20" width="1.58" height="21.60" fill="#aaaaaa"/>
<rect x="663.01" y="313.20" width="1.58" height="21.60" fill="#666666"/>
<rect x="664.59" y="313.20" width="1.05" height="21.60" fill="#aaaaaa"/>
<rect x="665.64" y="313.20" width="1.58" height="21.60" fill="#222222"/>
<rect x="667.22" y="313.20" width="1.05" height="21.60" fill="#888888"/>
<rect x="669.32" y="313.20" width="1.58" height="21.60" fill="#888888"/>
<rect x="532.30" y="334.80" width="22.00" height="4.40" fill="#dc4649"/>
<rect x="554.30" y="334.80" width="9.30" height="4.40" fill="#e36a6d"/>
<rect x="563.60" y="334.80" width="10.40" height="4.40" fill="#eda3a5"/>
<rect x="574.00" y="334.80" width="10.00" height="4.40" fill="#f4d0d2"/>
<rect x="584.00" y="334.80" width="32.20" height="4.40" fill="#f8e2e3"/>
<rect x="616.20" y="334.80" width="10.60" height="4.40" fill="#dee0f3"/>
<rect x="626.80" y="334.80" width="10.60" height="4.40" fill="#aab0de"/>
<rect x="637.40" y="334.80" width="10.50" height="4.40" fill="#727bc7"/>
<rect x="647.90" y="334.80" width="22.10" height="4.40" fill="#4350aa"/>
<text x="534.60" y="338.30" font-size="5.4" fill="#6a0c0c">Positive</text>
<text x="669.00" y="338.30" font-size="5.4" text-anchor="end" fill="#101a4a">Negative</text>
<path d="M532.30,361.20 L532.30,341.86 L532.76,343.20 L533.22,344.53 L533.68,345.59 L534.14,346.57 L534.60,347.56 L535.06,348.50 L535.51,348.95 L535.97,349.41 L536.43,349.87 L536.89,350.32 L537.35,350.78 L537.81,351.23 L538.27,351.69 L538.73,352.12 L539.19,352.35 L539.65,352.58 L540.11,352.81 L540.57,353.03 L541.02,353.26 L541.48,353.49 L541.94,353.72 L542.40,353.95 L542.86,354.17 L543.32,354.40 L543.78,354.63 L544.24,354.86 L544.70,355.09 L545.16,355.30 L545.62,355.42 L546.08,355.55 L546.53,355.67 L546.99,355.79 L547.45,355.91 L547.91,356.04 L548.37,356.16 L548.83,356.28 L549.29,356.41 L549.75,356.53 L550.21,356.65 L550.67,356.78 L551.13,356.90 L551.59,357.02 L552.04,357.14 L552.50,357.27 L552.96,357.39 L553.42,357.51 L553.88,357.59 L554.34,357.65 L554.80,357.71 L555.26,357.76 L555.72,357.82 L556.18,357.88 L556.64,357.93 L557.10,357.99 L557.55,358.05 L558.01,358.10 L558.47,358.16 L558.93,358.22 L559.39,358.27 L559.85,358.33 L560.31,358.38 L560.77,358.44 L561.23,358.50 L561.69,358.55 L562.15,358.61 L562.61,358.67 L563.06,358.72 L563.52,358.76 L563.98,358.80 L564.44,358.85 L564.90,358.89 L565.36,358.93 L565.82,358.98 L566.28,359.02 L566.74,359.06 L567.20,359.11 L567.66,359.15 L568.12,359.19 L568.57,359.24 L569.03,359.28 L569.49,359.32 L569.95,359.37 L570.41,359.41 L570.87,359.45 L571.33,359.50 L571.79,359.54 L572.25,359.58 L572.71,359.63 L573.17,359.67 L573.63,359.71 L574.09,359.76 L574.54,359.80 L575.00,359.85 L575.46,359.91 L575.92,359.98 L576.38,360.04 L576.84,360.11 L577.30,360.17 L577.76,360.23 L578.22,360.30 L578.68,360.36 L579.14,360.43 L579.60,360.49 L580.05,360.55 L580.51,360.62 L580.97,360.68 L581.43,360.75 L581.89,360.81 L582.35,360.87 L582.81,360.94 L583.27,361.00 L583.73,361.07 L584.19,361.13 L584.65,361.19 L585.11,361.22 L585.56,361.24 L586.02,361.26 L586.48,361.28 L586.94,361.30 L587.40,361.32 L587.86,361.34 L588.32,361.36 L588.78,361.38 L589.24,361.40 L589.70,361.42 L590.16,361.44 L590.62,361.46 L591.07,361.48 L591.53,361.50 L591.99,361.52 L592.45,361.54 L592.91,361.56 L593.37,361.58 L593.83,361.60 L594.29,361.62 L594.75,361.64 L595.21,361.66 L595.67,361.68 L596.13,361.70 L596.58,361.72 L597.04,361.74 L597.50,361.76 L597.96,361.78 L598.42,361.80 L598.88,361.82 L599.34,361.84 L599.80,361.86 L600.26,361.88 L600.72,361.90 L601.18,361.92 L601.64,361.94 L602.09,361.96 L602.55,361.98 L603.01,361.99 L603.47,362.01 L603.93,362.03 L604.39,362.05 L604.85,362.07 L605.31,362.09 L605.77,362.10 L606.23,362.12 L606.69,362.14 L607.15,362.16 L607.60,362.18 L608.06,362.20 L608.52,362.21 L608.98,362.23 L609.44,362.25 L609.90,362.27 L610.36,362.29 L610.82,362.31 L611.28,362.32 L611.74,362.34 L612.20,362.36 L612.66,362.38 L613.12,362.40 L613.57,362.42 L614.03,362.43 L614.49,362.45 L614.95,362.47 L615.41,362.49 L615.87,362.51 L616.33,362.53 L616.79,362.54 L617.25,362.56 L617.71,362.59 L618.17,362.63 L618.63,362.66 L619.08,362.69 L619.54,362.73 L620.00,362.76 L620.46,362.79 L620.92,362.82 L621.38,362.86 L621.84,362.89 L622.30,362.92 L622.76,362.96 L623.22,362.99 L623.68,363.02 L624.14,363.05 L624.59,363.09 L625.05,363.12 L625.51,363.15 L625.97,363.19 L626.43,363.22 L626.89,363.25 L627.35,363.28 L627.81,363.32 L628.27,363.35 L628.73,363.38 L629.19,363.42 L629.65,363.45 L630.10,363.48 L630.56,363.51 L631.02,363.55 L631.48,363.58 L631.94,363.61 L632.40,363.65 L632.86,363.68 L633.32,363.71 L633.78,363.75 L634.24,363.78 L634.70,363.81 L635.16,363.84 L635.61,363.88 L636.07,363.91 L636.53,363.94 L636.99,363.98 L637.45,364.01 L637.91,364.04 L638.37,364.07 L638.83,364.11 L639.29,364.16 L639.75,364.23 L640.21,364.29 L640.67,364.35 L641.12,364.41 L641.58,364.47 L642.04,364.53 L642.50,364.59 L642.96,364.66 L643.42,364.72 L643.88,364.78 L644.34,364.84 L644.80,364.90 L645.26,364.96 L645.72,365.03 L646.18,365.09 L646.63,365.15 L647.09,365.21 L647.55,365.27 L648.01,365.36 L648.47,365.46 L648.93,365.56 L649.39,365.67 L649.85,365.77 L650.31,365.87 L650.77,365.97 L651.23,366.08 L651.69,366.18 L652.15,366.28 L652.60,366.38 L653.06,366.49 L653.52,366.59 L653.98,366.69 L654.44,366.79 L654.90,366.90 L655.36,367.00 L655.82,367.10 L656.28,367.27 L656.74,367.44 L657.20,367.61 L657.66,367.78 L658.11,367.96 L658.57,368.13 L659.03,368.30 L659.49,368.48 L659.95,368.65 L660.41,368.82 L660.87,369.00 L661.33,369.18 L661.79,369.49 L662.25,369.80 L662.71,370.12 L663.17,370.43 L663.62,370.75 L664.08,371.06 L664.54,371.58 L665.00,372.26 L665.46,372.94 L665.92,373.63 L666.38,374.31 L666.84,375.14 L667.30,376.53 L667.76,377.91 L668.22,379.78 L668.68,383.06 L669.13,386.50 L669.59,394.41 L669.59,361.20Z" fill="#d4d4d4"/>
<line x1="584.69" y1="339.20" x2="584.69" y2="384.50" stroke="#c8c8c8" stroke-width="0.5" stroke-dasharray="1.5,1.2"/>
<text x="599.80" y="360.00" font-size="6.83" text-anchor="middle" font-weight="bold" fill="#111">Zero cross at 7716</text>
<line x1="530.60" y1="343.00" x2="532.00" y2="343.00" stroke="#555" stroke-width="0.4"/>
<text x="529.80" y="343.00" font-size="5.2" text-anchor="middle" fill="#333" transform="rotate(-90 529.80 343.00)">4</text>
<line x1="530.60" y1="352.10" x2="532.00" y2="352.10" stroke="#555" stroke-width="0.4"/>
<text x="529.80" y="352.10" font-size="5.2" text-anchor="middle" fill="#333" transform="rotate(-90 529.80 352.10)">2</text>
<line x1="530.60" y1="361.20" x2="532.00" y2="361.20" stroke="#555" stroke-width="0.4"/>
<text x="529.80" y="361.20" font-size="5.2" text-anchor="middle" fill="#333" transform="rotate(-90 529.80 361.20)">0</text>
<line x1="530.60" y1="370.30" x2="532.00" y2="370.30" stroke="#555" stroke-width="0.4"/>
<text x="529.80" y="370.30" font-size="5.2" text-anchor="middle" fill="#333" transform="rotate(-90 529.80 370.30)">−2</text>
<line x1="530.60" y1="379.40" x2="532.00" y2="379.40" stroke="#555" stroke-width="0.4"/>
<text x="529.80" y="379.40" font-size="5.2" text-anchor="middle" fill="#333" transform="rotate(-90 529.80 379.40)">−4</text>
<rect x="532.00" y="250.40" width="140.60" height="62.80" fill="none" stroke="#6e6e6e" stroke-width="0.7"/>
<rect x="532.00" y="313.20" width="140.60" height="26.00" fill="none" stroke="#6e6e6e" stroke-width="0.7"/>
<rect x="532.00" y="339.20" width="140.60" height="45.30" fill="none" stroke="#6e6e6e" stroke-width="0.7"/>
<line x1="566.25" y1="384.50" x2="566.25" y2="385.90" stroke="#555" stroke-width="0.4"/>
<text x="566.25" y="391.10" font-size="5.8" text-anchor="middle" fill="#333">5000</text>
<line x1="600.20" y1="384.50" x2="600.20" y2="385.90" stroke="#555" stroke-width="0.4"/>
<text x="600.20" y="391.10" font-size="5.8" text-anchor="middle" fill="#333">10000</text>
<line x1="634.15" y1="384.50" x2="634.15" y2="385.90" stroke="#555" stroke-width="0.4"/>
<text x="634.15" y="391.10" font-size="5.8" text-anchor="middle" fill="#333">15000</text>
<line x1="668.10" y1="384.50" x2="668.10" y2="385.90" stroke="#555" stroke-width="0.4"/>
<text x="668.10" y="391.10" font-size="5.8" text-anchor="middle" fill="#333">20000</text>
<text x="612.00" y="399.60" font-size="7.9" text-anchor="middle" font-weight="bold" fill="#111">Rank in ordered gene list</text>
<text x="523.90" y="281.00" font-size="7.9" text-anchor="middle" font-weight="bold" fill="#111" transform="rotate(-90 523.90 281.00)">Enrichment score</text>
<text x="523.90" y="364.00" font-size="7.9" text-anchor="middle" font-weight="bold" fill="#111" transform="rotate(-90 523.90 364.00)">SCORE</text>
</g>
<text x="0.50" y="432.00" font-size="14" font-weight="bold">c</text>
<text x="92.00" y="450.40" font-size="8.4" text-anchor="middle" fill="#1a1a1a">MCF-7-Pa</text>
<line x1="52.30" y1="452.30" x2="131.40" y2="452.30" stroke="#000" stroke-width="1.0"/>
<text x="175.50" y="450.40" font-size="8.4" text-anchor="middle" fill="#1a1a1a">T47D-Pa</text>
<line x1="134.00" y1="452.30" x2="215.80" y2="452.30" stroke="#000" stroke-width="1.0"/>
<text x="65.40" y="460.20" font-size="8.4" text-anchor="middle" fill="#1a1a1a">UT</text>
<text x="89.60" y="460.20" font-size="8.4" text-anchor="middle" fill="#1a1a1a">Vector</text>
<text x="113.60" y="460.20" font-size="8.4" text-anchor="middle" fill="#1a1a1a">OE</text>
<text x="148.00" y="460.20" font-size="8.4" text-anchor="middle" fill="#1a1a1a">UT</text>
<text x="175.20" y="460.20" font-size="8.4" text-anchor="middle" fill="#1a1a1a">Vector</text>
<text x="202.30" y="460.20" font-size="8.4" text-anchor="middle" fill="#1a1a1a">OE</text>
<text x="50.80" y="474.90" font-size="8.4" text-anchor="end" fill="#1a1a1a">E-cadherin</text>
<text x="50.80" y="497.70" font-size="8.4" text-anchor="end" fill="#1a1a1a">N-cadherin</text>
<text x="50.80" y="520.80" font-size="8.4" text-anchor="end" fill="#1a1a1a">Vimentin</text>
<text x="50.80" y="544.30" font-size="8.4" text-anchor="end" fill="#1a1a1a">GAPDH</text>
<text x="217.20" y="475.00" font-size="8.4" fill="#1a1a1a">90 kD</text>
<text x="217.20" y="497.80" font-size="8.4" fill="#1a1a1a">100 kD</text>
<text x="217.20" y="521.00" font-size="8.4" fill="#1a1a1a">55 kD</text>
<text x="217.20" y="544.30" font-size="8.4" fill="#1a1a1a">37 kD</text>
<g clip-path="url(#cl1)">
<rect x="51.60" y="461.50" width="80.00" height="20.90" fill="#9c9c9c"/>
<g filter="url(#bl2)">
<rect x="75.00" y="459.50" width="4.00" height="24.90" fill="#b8b8b8"/>
<rect x="99.00" y="459.50" width="4.00" height="24.90" fill="#b8b8b8"/>
<rect x="122.00" y="459.50" width="10.00" height="24.90" fill="#b8b8b8"/>
</g>
<g filter="url(#bl2)">
<rect x="56.00" y="465.00" width="18.00" height="14.00" fill="#707070" opacity="0.5"/>
<rect x="80.00" y="465.00" width="18.00" height="14.00" fill="#707070" opacity="0.5"/>
<rect x="104.00" y="474.00" width="18.00" height="8.00" fill="#808080" opacity="0.5"/>
</g>
<g filter="url(#bl3)">
<rect x="55.50" y="467.10" width="19.00" height="11.40" fill="#040404" rx="2" opacity="0.44"/>
<rect x="79.50" y="467.30" width="19.00" height="11.20" fill="#080808" rx="2" opacity="0.42"/>
<rect x="103.50" y="468.40" width="19.00" height="6.80" fill="#282828" rx="2" opacity="0.33"/>
</g>
<g filter="url(#bl1)">
<rect x="56.50" y="469.30" width="17.00" height="7.00" fill="#040404" rx="3.50" ry="3.50"/>
<rect x="80.50" y="469.50" width="17.00" height="6.80" fill="#080808" rx="3.40" ry="3.40"/>
<rect x="104.50" y="470.60" width="17.00" height="2.40" fill="#282828" rx="1.20" ry="1.20"/>
</g>
</g>
<rect x="51.60" y="461.50" width="80.00" height="20.90" fill="none" stroke="#111" stroke-width="0.9"/>
<g clip-path="url(#cl2)">
<rect x="51.60" y="484.30" width="80.00" height="21.10" fill="#a2a2a2"/>
<g filter="url(#bl2)">
<rect x="76.00" y="482.30" width="5.00" height="25.10" fill="#b6b6b6"/>
<rect x="100.00" y="482.30" width="6.00" height="25.10" fill="#b6b6b6"/>
</g>
<g filter="url(#bl2)">
<rect x="106.00" y="487.00" width="22.00" height="17.00" fill="#808080" opacity="0.5"/>
</g>
<g filter="url(#bl3)">
<rect x="55.00" y="491.80" width="20.00" height="7.00" fill="#606060" rx="2" opacity="0.15"/>
<rect x="80.00" y="491.20" width="20.00" height="8.20" fill="#141414" rx="2" opacity="0.39"/>
<rect x="106.50" y="490.35" width="21.00" height="9.90" fill="#000000" rx="2" opacity="0.45"/>
</g>
<g filter="url(#bl1)">
<rect x="56.00" y="494.00" width="18.00" height="2.60" fill="#606060" rx="1.30" ry="1.30"/>
<rect x="81.00" y="493.40" width="18.00" height="3.80" fill="#141414" rx="1.90" ry="1.90"/>
<rect x="107.50" y="492.55" width="19.00" height="5.50" fill="#000000" rx="2.75" ry="2.75"/>
</g>
</g>
<rect x="51.60" y="484.30" width="80.00" height="21.10" fill="none" stroke="#111" stroke-width="0.9"/>
<g clip-path="url(#cl3)">
<rect x="51.60" y="507.90" width="80.00" height="21.10" fill="#d4d4d4"/>
<g filter="url(#bl2)">
<rect x="77.00" y="505.90" width="3.00" height="25.10" fill="#e8e8e8"/>
<rect x="101.00" y="505.90" width="3.00" height="25.10" fill="#e8e8e8"/>
</g>
<g filter="url(#bl2)">
<rect x="56.00" y="511.00" width="22.00" height="18.00" fill="#808080" opacity="0.7"/>
<rect x="80.00" y="511.00" width="21.00" height="18.00" fill="#909090" opacity="0.7"/>
<rect x="104.00" y="511.00" width="22.00" height="18.00" fill="#707070" opacity="0.7"/>
</g>
<g filter="url(#bl3)">
<rect x="54.50" y="511.85" width="23.00" height="10.90" fill="#404040" rx="2" opacity="0.25"/>
<rect x="79.00" y="512.85" width="22.00" height="9.90" fill="#4c4c4c" rx="2" opacity="0.21"/>
<rect x="103.00" y="511.80" width="24.00" height="11.40" fill="#000000" rx="2" opacity="0.45"/>
</g>
<g filter="url(#bl1)">
<rect x="55.50" y="514.05" width="21.00" height="6.50" fill="#404040" rx="3.25" ry="3.25"/>
<rect x="80.00" y="515.05" width="20.00" height="5.50" fill="#4c4c4c" rx="2.75" ry="2.75"/>
<rect x="104.00" y="514.00" width="22.00" height="7.00" fill="#000000" rx="3.50" ry="3.50"/>
</g>
</g>
<rect x="51.60" y="507.90" width="80.00" height="21.10" fill="none" stroke="#111" stroke-width="0.9"/>
<g clip-path="url(#cl4)">
<rect x="51.60" y="531.10" width="80.00" height="21.20" fill="#e6e6e6"/>
<g filter="url(#bl3)">
<rect x="56.00" y="537.80" width="22.00" height="10.00" fill="#000000" rx="2" opacity="0.45"/>
<rect x="79.00" y="537.70" width="23.00" height="10.20" fill="#000000" rx="2" opacity="0.45"/>
<rect x="104.00" y="538.10" width="21.00" height="9.40" fill="#000000" rx="2" opacity="0.45"/>
</g>
<g filter="url(#bl1)">
<rect x="57.00" y="540.00" width="20.00" height="5.60" fill="#000000" rx="2.80" ry="2.80"/>
<rect x="80.00" y="539.90" width="21.00" height="5.80" fill="#000000" rx="2.90" ry="2.90"/>
<rect x="105.00" y="540.30" width="19.00" height="5.00" fill="#000000" rx="2.50" ry="2.50"/>
</g>
</g>
<rect x="51.60" y="531.10" width="80.00" height="21.20" fill="none" stroke="#111" stroke-width="0.9"/>
<g clip-path="url(#cl5)">
<rect x="135.20" y="461.50" width="80.60" height="20.90" fill="#888888"/>
<g filter="url(#bl2)">
<rect x="158.00" y="459.50" width="6.00" height="24.90" fill="#a0a0a0"/>
<rect x="186.00" y="459.50" width="5.00" height="24.90" fill="#a0a0a0"/>
<rect x="212.00" y="459.50" width="4.00" height="24.90" fill="#a0a0a0"/>
</g>
<g filter="url(#bl3)">
<rect x="139.00" y="468.60" width="19.00" height="7.60" fill="#282828" rx="2" opacity="0.33"/>
<rect x="165.00" y="468.50" width="20.00" height="8.60" fill="#181818" rx="2" opacity="0.38"/>
<rect x="192.00" y="469.30" width="20.00" height="6.60" fill="#585858" rx="2" opacity="0.17"/>
</g>
<g filter="url(#bl1)">
<rect x="140.00" y="470.80" width="17.00" height="3.20" fill="#282828" rx="1.60" ry="1.60"/>
<rect x="166.00" y="470.70" width="18.00" height="4.20" fill="#181818" rx="2.10" ry="2.10"/>
<rect x="193.00" y="471.50" width="18.00" height="2.20" fill="#585858" rx="1.10" ry="1.10"/>
</g>
</g>
<rect x="135.20" y="461.50" width="80.60" height="20.90" fill="none" stroke="#111" stroke-width="0.9"/>
<g clip-path="url(#cl6)">
<rect x="135.20" y="484.30" width="80.60" height="21.10" fill="#e6e6e6"/>
<g filter="url(#bl3)">
<rect x="189.00" y="490.70" width="23.00" height="10.40" fill="#000000" rx="2" opacity="0.45"/>
</g>
<g filter="url(#bl1)">
<rect x="140.00" y="494.90" width="18.00" height="2.00" fill="#b8b8b8" rx="1.00" ry="1.00"/>
<rect x="165.00" y="495.00" width="18.00" height="1.80" fill="#c0c0c0" rx="0.90" ry="0.90"/>
<rect x="190.00" y="492.90" width="21.00" height="6.00" fill="#000000" rx="3.00" ry="3.00"/>
</g>
</g>
<rect x="135.20" y="484.30" width="80.60" height="21.10" fill="none" stroke="#111" stroke-width="0.9"/>
<g clip-path="url(#cl7)">
<rect x="135.20" y="507.90" width="80.60" height="21.10" fill="#e2e2e2"/>
<g filter="url(#bl2)">
<rect x="141.00" y="510.00" width="20.00" height="9.00" fill="#a8a8a8" opacity="0.5"/>
<rect x="165.00" y="510.00" width="20.00" height="9.00" fill="#a8a8a8" opacity="0.5"/>
<rect x="189.00" y="510.00" width="21.00" height="9.00" fill="#909090" opacity="0.5"/>
</g>
<g filter="url(#bl3)">
<rect x="141.00" y="515.40" width="20.00" height="8.00" fill="#404040" rx="2" opacity="0.25"/>
<rect x="164.00" y="515.10" width="22.00" height="8.60" fill="#1c1c1c" rx="2" opacity="0.36"/>
<rect x="188.00" y="514.30" width="23.00" height="10.20" fill="#000000" rx="2" opacity="0.45"/>
</g>
<g filter="url(#bl1)">
<rect x="142.00" y="517.60" width="18.00" height="3.60" fill="#404040" rx="1.80" ry="1.80"/>
<rect x="165.00" y="517.30" width="20.00" height="4.20" fill="#1c1c1c" rx="2.10" ry="2.10"/>
<rect x="189.00" y="516.50" width="21.00" height="5.80" fill="#000000" rx="2.90" ry="2.90"/>
</g>
</g>
<rect x="135.20" y="507.90" width="80.60" height="21.10" fill="none" stroke="#111" stroke-width="0.9"/>
<g clip-path="url(#cl8)">
<rect x="135.20" y="531.10" width="80.60" height="21.20" fill="#e8e8e8"/>
<g filter="url(#bl3)">
<rect x="140.00" y="538.20" width="23.00" height="9.60" fill="#000000" rx="2" opacity="0.45"/>
<rect x="164.00" y="538.50" width="22.00" height="9.00" fill="#000000" rx="2" opacity="0.45"/>
<rect x="189.00" y="538.60" width="21.00" height="8.80" fill="#000000" rx="2" opacity="0.45"/>
</g>
<g filter="url(#bl1)">
<rect x="141.00" y="540.40" width="21.00" height="5.20" fill="#000000" rx="2.60" ry="2.60"/>
<rect x="165.00" y="540.70" width="20.00" height="4.60" fill="#000000" rx="2.30" ry="2.30"/>
<rect x="190.00" y="540.80" width="19.00" height="4.40" fill="#000000" rx="2.20" ry="2.20"/>
</g>
</g>
<rect x="135.20" y="531.10" width="80.60" height="21.20" fill="none" stroke="#111" stroke-width="0.9"/>
<text x="0.50" y="592.60" font-size="14" font-weight="bold">d</text>
<text x="97.30" y="610.50" font-size="8.4" text-anchor="middle" fill="#1a1a1a">MCF-7-Re</text>
<line x1="48.40" y1="612.40" x2="144.60" y2="612.40" stroke="#000" stroke-width="1.0"/>
<text x="196.00" y="610.50" font-size="8.4" text-anchor="middle" fill="#1a1a1a">T47D-Re</text>
<line x1="148.80" y1="612.40" x2="243.40" y2="612.40" stroke="#000" stroke-width="1.0"/>
<text x="62.80" y="620.20" font-size="8.4" text-anchor="middle" fill="#1a1a1a">UT</text>
<text x="85.20" y="620.20" font-size="8.4" text-anchor="middle" fill="#1a1a1a">shNC</text>
<text x="107.40" y="620.20" font-size="8.4" text-anchor="middle" fill="#1a1a1a">sh1</text>
<text x="129.70" y="620.20" font-size="8.4" text-anchor="middle" fill="#1a1a1a">sh2</text>
<text x="160.10" y="620.20" font-size="8.4" text-anchor="middle" fill="#1a1a1a">UT</text>
<text x="182.90" y="620.20" font-size="8.4" text-anchor="middle" fill="#1a1a1a">shNC</text>
<text x="207.10" y="620.20" font-size="8.4" text-anchor="middle" fill="#1a1a1a">sh1</text>
<text x="231.10" y="620.20" font-size="8.4" text-anchor="middle" fill="#1a1a1a">sh2</text>
<text x="46.80" y="634.00" font-size="8.4" text-anchor="end" fill="#1a1a1a">E-cadherin</text>
<text x="46.80" y="656.70" font-size="8.4" text-anchor="end" fill="#1a1a1a">N-cadherin</text>
<text x="46.80" y="679.80" font-size="8.4" text-anchor="end" fill="#1a1a1a">Vimentin</text>
<text x="46.80" y="702.40" font-size="8.4" text-anchor="end" fill="#1a1a1a">GAPDH</text>
<text x="245.10" y="634.20" font-size="8.4" fill="#1a1a1a">90 kD</text>
<text x="245.10" y="657.00" font-size="8.4" fill="#1a1a1a">100 kD</text>
<text x="245.10" y="679.70" font-size="8.4" fill="#1a1a1a">55 kD</text>
<text x="245.10" y="702.80" font-size="8.4" fill="#1a1a1a">37 kD</text>
<g clip-path="url(#cl9)">
<rect x="49.30" y="620.70" width="96.20" height="20.70" fill="#5c5c5c"/>
<g filter="url(#bl2)">
<rect x="50.00" y="636.00" width="95.00" height="6.00" fill="#484848" opacity="0.5"/>
</g>
<g filter="url(#bl3)">
<rect x="53.00" y="631.45" width="18.00" height="5.90" fill="#525252" rx="2" opacity="0.19"/>
<rect x="77.00" y="631.45" width="18.00" height="5.90" fill="#545454" rx="2" opacity="0.19"/>
<rect x="98.80" y="630.10" width="21.00" height="8.60" fill="#000000" rx="2" opacity="0.45"/>
<rect x="123.50" y="630.00" width="18.00" height="8.00" fill="#000000" rx="2" opacity="0.45"/>
</g>
<g filter="url(#bl1)">
<rect x="54.00" y="633.65" width="16.00" height="1.50" fill="#525252" rx="0.75" ry="0.75"/>
<rect x="78.00" y="633.65" width="16.00" height="1.50" fill="#545454" rx="0.75" ry="0.75"/>
<rect x="99.80" y="632.30" width="19.00" height="4.20" fill="#000000" rx="2.10" ry="2.10"/>
<rect x="124.50" y="632.20" width="16.00" height="3.60" fill="#000000" rx="1.80" ry="1.80"/>
</g>
</g>
<rect x="49.30" y="620.70" width="96.20" height="20.70" fill="none" stroke="#111" stroke-width="0.9"/>
<g clip-path="url(#cl10)">
<rect x="49.30" y="643.60" width="96.20" height="20.60" fill="#e8e8e8"/>
<g filter="url(#bl2)">
<rect x="51.00" y="649.00" width="94.00" height="16.00" fill="#c4c4c4" opacity="0.8"/>
</g>
<g filter="url(#bl3)">
<rect x="52.50" y="650.55" width="20.00" height="8.90" fill="#141414" rx="2" opacity="0.39"/>
<rect x="75.50" y="650.10" width="20.00" height="9.00" fill="#080808" rx="2" opacity="0.42"/>
</g>
<g filter="url(#bl1)">
<rect x="53.50" y="652.75" width="18.00" height="4.50" fill="#141414" rx="2.25" ry="2.25"/>
<rect x="76.50" y="652.30" width="18.00" height="4.60" fill="#080808" rx="2.30" ry="2.30"/>
<rect x="100.00" y="655.10" width="17.00" height="2.40" fill="#989898" rx="1.20" ry="1.20"/>
<rect x="123.85" y="655.10" width="17.50" height="2.40" fill="#9c9c9c" rx="1.20" ry="1.20"/>
</g>
</g>
<rect x="49.30" y="643.60" width="96.20" height="20.60" fill="none" stroke="#111" stroke-width="0.9"/>
<g clip-path="url(#cl11)">
<rect x="49.30" y="666.40" width="96.20" height="20.80" fill="#e6e6e6"/>
<g filter="url(#bl2)">
<rect x="53.00" y="671.00" width="90.00" height="16.00" fill="#a8a8a8" opacity="0.5"/>
</g>
<g filter="url(#bl3)">
<rect x="53.00" y="673.50" width="22.00" height="9.60" fill="#000000" rx="2" opacity="0.45"/>
<rect x="76.00" y="673.90" width="22.00" height="9.20" fill="#040404" rx="2" opacity="0.44"/>
<rect x="100.00" y="674.20" width="20.00" height="8.60" fill="#181818" rx="2" opacity="0.38"/>
<rect x="122.00" y="674.00" width="20.00" height="8.60" fill="#1c1c1c" rx="2" opacity="0.36"/>
</g>
<g filter="url(#bl1)">
<rect x="54.00" y="675.70" width="20.00" height="5.20" fill="#000000" rx="2.60" ry="2.60"/>
<rect x="77.00" y="676.10" width="20.00" height="4.80" fill="#040404" rx="2.40" ry="2.40"/>
<rect x="101.00" y="676.40" width="18.00" height="4.20" fill="#181818" rx="2.10" ry="2.10"/>
<rect x="123.00" y="676.20" width="18.00" height="4.20" fill="#1c1c1c" rx="2.10" ry="2.10"/>
</g>
</g>
<rect x="49.30" y="666.40" width="96.20" height="20.80" fill="none" stroke="#111" stroke-width="0.9"/>
<g clip-path="url(#cl12)">
<rect x="49.30" y="689.50" width="96.20" height="21.50" fill="#eeeeee"/>
<g filter="url(#bl3)">
<rect x="51.00" y="695.60" width="22.00" height="8.60" fill="#000000" rx="2" opacity="0.45"/>
<rect x="75.00" y="695.80" width="21.00" height="8.20" fill="#000000" rx="2" opacity="0.45"/>
<rect x="98.00" y="695.40" width="22.00" height="9.00" fill="#000000" rx="2" opacity="0.45"/>
<rect x="121.00" y="695.60" width="22.00" height="8.60" fill="#000000" rx="2" opacity="0.45"/>
</g>
<g filter="url(#bl1)">
<rect x="52.00" y="697.80" width="20.00" height="4.20" fill="#000000" rx="2.10" ry="2.10"/>
<rect x="76.00" y="698.00" width="19.00" height="3.80" fill="#000000" rx="1.90" ry="1.90"/>
<rect x="99.00" y="697.60" width="20.00" height="4.60" fill="#000000" rx="2.30" ry="2.30"/>
<rect x="122.00" y="697.80" width="20.00" height="4.20" fill="#000000" rx="2.10" ry="2.10"/>
</g>
</g>
<rect x="49.30" y="689.50" width="96.20" height="21.50" fill="none" stroke="#111" stroke-width="0.9"/>
<g clip-path="url(#cl13)">
<rect x="148.00" y="620.70" width="96.00" height="20.70" fill="#f6f6f6"/>
<g filter="url(#bl3)">
<rect x="150.00" y="629.30" width="18.00" height="6.20" fill="#707070" rx="2" opacity="0.10"/>
<rect x="173.00" y="629.10" width="18.00" height="6.60" fill="#404040" rx="2" opacity="0.25"/>
<rect x="198.00" y="628.50" width="18.00" height="7.40" fill="#000000" rx="2" opacity="0.45"/>
<rect x="222.00" y="628.30" width="19.00" height="7.40" fill="#000000" rx="2" opacity="0.45"/>
</g>
<g filter="url(#bl1)">
<rect x="151.00" y="631.50" width="16.00" height="1.80" fill="#707070" rx="0.90" ry="0.90"/>
<rect x="174.00" y="631.30" width="16.00" height="2.20" fill="#404040" rx="1.10" ry="1.10"/>
<rect x="199.00" y="630.70" width="16.00" height="3.00" fill="#000000" rx="1.50" ry="1.50"/>
<rect x="223.00" y="630.50" width="17.00" height="3.00" fill="#000000" rx="1.50" ry="1.50"/>
</g>
</g>
<rect x="148.00" y="620.70" width="96.00" height="20.70" fill="none" stroke="#111" stroke-width="0.9"/>
<g clip-path="url(#cl14)">
<rect x="148.00" y="643.60" width="96.00" height="20.60" fill="#e4e4e4"/>
<g filter="url(#bl2)">
<rect x="150.50" y="649.50" width="18.00" height="16.00" fill="#686868" opacity="0.9"/>
<rect x="174.50" y="649.50" width="18.00" height="16.00" fill="#6a6a6a" opacity="0.9"/>
<rect x="196.50" y="649.50" width="19.50" height="16.00" fill="#a8a8a8" opacity="0.9"/>
<rect x="221.00" y="649.50" width="18.50" height="16.00" fill="#acacac" opacity="0.9"/>
</g>
<g filter="url(#bl3)">
<rect x="149.50" y="654.60" width="20.00" height="8.00" fill="#080808" rx="2" opacity="0.42"/>
<rect x="173.50" y="654.60" width="20.00" height="8.00" fill="#101010" rx="2" opacity="0.40"/>
<rect x="195.80" y="654.80" width="21.00" height="6.80" fill="#707070" rx="2" opacity="0.10"/>
<rect x="220.30" y="654.80" width="20.00" height="6.80" fill="#7c7c7c" rx="2" opacity="0.06"/>
</g>
<g filter="url(#bl1)">
<rect x="150.50" y="656.80" width="18.00" height="3.60" fill="#080808" rx="1.80" ry="1.80"/>
<rect x="174.50" y="656.80" width="18.00" height="3.60" fill="#101010" rx="1.80" ry="1.80"/>
<rect x="196.80" y="657.00" width="19.00" height="2.40" fill="#707070" rx="1.20" ry="1.20"/>
<rect x="221.30" y="657.00" width="18.00" height="2.40" fill="#7c7c7c" rx="1.20" ry="1.20"/>
</g>
</g>
<rect x="148.00" y="643.60" width="96.00" height="20.60" fill="none" stroke="#111" stroke-width="0.9"/>
<g clip-path="url(#cl15)">
<rect x="148.00" y="666.40" width="96.00" height="20.80" fill="#e2e2e2"/>
<g filter="url(#bl2)">
<rect x="151.50" y="668.00" width="21.50" height="20.00" fill="#707070" opacity="0.8"/>
<rect x="175.00" y="668.00" width="20.00" height="20.00" fill="#a0a0a0" opacity="0.7"/>
<rect x="198.00" y="668.00" width="19.50" height="20.00" fill="#c0c0c0" opacity="0.6"/>
<rect x="221.00" y="668.00" width="19.50" height="20.00" fill="#c0c0c0" opacity="0.6"/>
</g>
<g filter="url(#bl3)">
<rect x="150.90" y="670.45" width="23.00" height="14.90" fill="#000000" rx="2" opacity="0.45"/>
<rect x="174.45" y="673.45" width="21.50" height="11.90" fill="#040404" rx="2" opacity="0.44"/>
<rect x="197.05" y="675.10" width="21.50" height="9.40" fill="#1c1c1c" rx="2" opacity="0.36"/>
<rect x="220.50" y="674.90" width="21.00" height="9.40" fill="#202020" rx="2" opacity="0.35"/>
</g>
<g filter="url(#bl1)">
<rect x="151.90" y="672.65" width="21.00" height="10.50" fill="#000000" rx="5.25" ry="5.25"/>
<rect x="175.45" y="675.65" width="19.50" height="7.50" fill="#040404" rx="3.75" ry="3.75"/>
<rect x="198.05" y="677.30" width="19.50" height="5.00" fill="#1c1c1c" rx="2.50" ry="2.50"/>
<rect x="221.50" y="677.10" width="19.00" height="5.00" fill="#202020" rx="2.50" ry="2.50"/>
</g>
</g>
<rect x="148.00" y="666.40" width="96.00" height="20.80" fill="none" stroke="#111" stroke-width="0.9"/>
<g clip-path="url(#cl16)">
<rect x="148.00" y="689.50" width="96.00" height="21.50" fill="#e6e6e6"/>
<g filter="url(#bl3)">
<rect x="150.00" y="695.70" width="23.00" height="9.00" fill="#000000" rx="2" opacity="0.45"/>
<rect x="174.00" y="695.80" width="23.00" height="8.80" fill="#000000" rx="2" opacity="0.45"/>
<rect x="198.00" y="695.70" width="23.00" height="9.00" fill="#000000" rx="2" opacity="0.45"/>
<rect x="222.00" y="695.80" width="20.00" height="8.80" fill="#000000" rx="2" opacity="0.45"/>
</g>
<g filter="url(#bl1)">
<rect x="151.00" y="697.90" width="21.00" height="4.60" fill="#000000" rx="2.30" ry="2.30"/>
<rect x="175.00" y="698.00" width="21.00" height="4.40" fill="#000000" rx="2.20" ry="2.20"/>
<rect x="199.00" y="697.90" width="21.00" height="4.60" fill="#000000" rx="2.30" ry="2.30"/>
<rect x="223.00" y="698.00" width="18.00" height="4.40" fill="#000000" rx="2.20" ry="2.20"/>
</g>
</g>
<rect x="148.00" y="689.50" width="96.00" height="21.50" fill="none" stroke="#111" stroke-width="0.9"/>
<text x="0.40" y="752.30" font-size="14" font-weight="bold">e</text>
<text x="95.70" y="769.10" font-size="8.4" text-anchor="middle" fill="#1a1a1a">Resistant patient</text>
<line x1="46.10" y1="770.50" x2="143.90" y2="770.50" stroke="#000" stroke-width="1.0"/>
<text x="201.30" y="769.10" font-size="8.4" text-anchor="middle" fill="#1a1a1a">Sensitive patient</text>
<line x1="151.90" y1="770.50" x2="251.20" y2="770.50" stroke="#000" stroke-width="1.0"/>
<text x="60.10" y="779.30" font-size="8.4" text-anchor="middle" fill="#1a1a1a">1</text>
<text x="85.70" y="779.30" font-size="8.4" text-anchor="middle" fill="#1a1a1a">2</text>
<text x="111.60" y="779.30" font-size="8.4" text-anchor="middle" fill="#1a1a1a">3</text>
<text x="137.20" y="779.30" font-size="8.4" text-anchor="middle" fill="#1a1a1a">4</text>
<text x="161.50" y="779.30" font-size="8.4" text-anchor="middle" fill="#1a1a1a">1</text>
<text x="186.80" y="779.30" font-size="8.4" text-anchor="middle" fill="#1a1a1a">2</text>
<text x="211.80" y="779.30" font-size="8.4" text-anchor="middle" fill="#1a1a1a">3</text>
<text x="236.90" y="779.30" font-size="8.4" text-anchor="middle" fill="#1a1a1a">4</text>
<text x="45.60" y="792.10" font-size="8.4" text-anchor="end" fill="#1a1a1a">E-cadherin</text>
<text x="45.60" y="814.00" font-size="8.4" text-anchor="end" fill="#1a1a1a">N-cadherin</text>
<text x="45.60" y="835.90" font-size="8.4" text-anchor="end" fill="#1a1a1a">Vimentin</text>
<text x="45.60" y="857.10" font-size="8.4" text-anchor="end" fill="#1a1a1a">GAPDH</text>
<text x="253.20" y="792.40" font-size="8.4" fill="#1a1a1a">90 kD</text>
<text x="253.20" y="813.30" font-size="8.4" fill="#1a1a1a">100 kD</text>
<text x="253.20" y="835.10" font-size="8.4" fill="#1a1a1a">55 kD</text>
<text x="253.20" y="856.00" font-size="8.4" fill="#1a1a1a">37 kD</text>
<g clip-path="url(#cl17)">
<rect x="46.10" y="780.30" width="205.50" height="19.20" fill="#a6a6a6"/>
<g filter="url(#bl2)">
<rect x="72.50" y="778.30" width="3.00" height="23.20" fill="#b4b4b4"/>
<rect x="98.00" y="778.30" width="4.00" height="23.20" fill="#b4b4b4"/>
<rect x="123.50" y="778.30" width="4.00" height="23.20" fill="#b4b4b4"/>
<rect x="149.00" y="778.30" width="2.50" height="23.20" fill="#b4b4b4"/>
<rect x="173.00" y="778.30" width="3.00" height="23.20" fill="#b4b4b4"/>
<rect x="198.00" y="778.30" width="3.00" height="23.20" fill="#b4b4b4"/>
<rect x="222.50" y="778.30" width="3.50" height="23.20" fill="#b4b4b4"/>
</g>
<g filter="url(#bl3)">
<rect x="151.70" y="785.70" width="21.00" height="8.00" fill="#040404" rx="2" opacity="0.44"/>
<rect x="176.50" y="785.70" width="21.00" height="8.00" fill="#040404" rx="2" opacity="0.44"/>
<rect x="200.80" y="785.70" width="21.00" height="8.00" fill="#040404" rx="2" opacity="0.44"/>
<rect x="226.70" y="785.70" width="21.00" height="8.00" fill="#040404" rx="2" opacity="0.44"/>
</g>
<g filter="url(#bl1)">
<rect x="50.50" y="789.20" width="18.00" height="1.40" fill="#909090" rx="0.70" ry="0.70"/>
<rect x="77.00" y="789.20" width="18.00" height="1.40" fill="#909090" rx="0.70" ry="0.70"/>
<rect x="103.50" y="789.20" width="18.00" height="1.40" fill="#909090" rx="0.70" ry="0.70"/>
<rect x="129.00" y="789.20" width="18.00" height="1.40" fill="#909090" rx="0.70" ry="0.70"/>
<rect x="152.70" y="787.90" width="19.00" height="3.60" fill="#040404" rx="1.80" ry="1.80"/>
<rect x="177.50" y="787.90" width="19.00" height="3.60" fill="#040404" rx="1.80" ry="1.80"/>
<rect x="201.80" y="787.90" width="19.00" height="3.60" fill="#040404" rx="1.80" ry="1.80"/>
<rect x="227.70" y="787.90" width="19.00" height="3.60" fill="#040404" rx="1.80" ry="1.80"/>
</g>
</g>
<rect x="46.10" y="780.30" width="205.50" height="19.20" fill="none" stroke="#111" stroke-width="0.9"/>
<g clip-path="url(#cl18)">
<rect x="46.10" y="801.50" width="205.50" height="19.10" fill="#8e8e8e"/>
<g filter="url(#bl2)">
<rect x="72.50" y="799.50" width="3.00" height="23.10" fill="#a8a8a8"/>
<rect x="98.00" y="799.50" width="4.00" height="23.10" fill="#a8a8a8"/>
<rect x="123.50" y="799.50" width="4.00" height="23.10" fill="#a8a8a8"/>
<rect x="149.00" y="799.50" width="2.50" height="23.10" fill="#a8a8a8"/>
<rect x="173.00" y="799.50" width="3.00" height="23.10" fill="#a8a8a8"/>
<rect x="198.00" y="799.50" width="3.00" height="23.10" fill="#a8a8a8"/>
<rect x="222.50" y="799.50" width="3.50" height="23.10" fill="#a8a8a8"/>
</g>
<g filter="url(#bl3)">
<rect x="50.50" y="807.20" width="22.00" height="9.40" fill="#000000" rx="2" opacity="0.45"/>
<rect x="77.00" y="807.80" width="21.00" height="8.20" fill="#0c0c0c" rx="2" opacity="0.41"/>
<rect x="103.00" y="807.50" width="21.00" height="8.80" fill="#040404" rx="2" opacity="0.44"/>
<rect x="128.50" y="807.80" width="20.00" height="8.20" fill="#0c0c0c" rx="2" opacity="0.41"/>
<rect x="152.00" y="807.00" width="20.00" height="7.00" fill="#404040" rx="2" opacity="0.25"/>
<rect x="177.00" y="807.10" width="20.00" height="6.80" fill="#484848" rx="2" opacity="0.23"/>
<rect x="201.50" y="807.60" width="20.00" height="6.40" fill="#606060" rx="2" opacity="0.15"/>
<rect x="226.50" y="806.60" width="21.00" height="7.20" fill="#303030" rx="2" opacity="0.30"/>
</g>
<g filter="url(#bl1)">
<rect x="51.50" y="809.40" width="20.00" height="5.00" fill="#000000" rx="2.50" ry="2.50"/>
<rect x="78.00" y="810.00" width="19.00" height="3.80" fill="#0c0c0c" rx="1.90" ry="1.90"/>
<rect x="104.00" y="809.70" width="19.00" height="4.40" fill="#040404" rx="2.20" ry="2.20"/>
<rect x="129.50" y="810.00" width="18.00" height="3.80" fill="#0c0c0c" rx="1.90" ry="1.90"/>
<rect x="153.00" y="809.20" width="18.00" height="2.60" fill="#404040" rx="1.30" ry="1.30"/>
<rect x="178.00" y="809.30" width="18.00" height="2.40" fill="#484848" rx="1.20" ry="1.20"/>
<rect x="202.50" y="809.80" width="18.00" height="2.00" fill="#606060" rx="1.00" ry="1.00"/>
<rect x="227.50" y="808.80" width="19.00" height="2.80" fill="#303030" rx="1.40" ry="1.40"/>
</g>
</g>
<rect x="46.10" y="801.50" width="205.50" height="19.10" fill="none" stroke="#111" stroke-width="0.9"/>
<g clip-path="url(#cl19)">
<rect x="46.10" y="823.20" width="205.50" height="19.00" fill="#c8c8c8"/>
<g filter="url(#bl2)">
<rect x="72.50" y="821.20" width="3.00" height="23.00" fill="#f0f0f0"/>
<rect x="98.00" y="821.20" width="4.00" height="23.00" fill="#f0f0f0"/>
<rect x="123.50" y="821.20" width="4.00" height="23.00" fill="#f0f0f0"/>
<rect x="149.00" y="821.20" width="2.50" height="23.00" fill="#f0f0f0"/>
<rect x="173.00" y="821.20" width="3.00" height="23.00" fill="#f0f0f0"/>
<rect x="198.00" y="821.20" width="3.00" height="23.00" fill="#f0f0f0"/>
<rect x="222.50" y="821.20" width="3.50" height="23.00" fill="#f0f0f0"/>
</g>
<g filter="url(#bl3)">
<rect x="48.00" y="827.60" width="25.00" height="11.40" fill="#000000" rx="2" opacity="0.45"/>
<rect x="75.00" y="829.10" width="23.00" height="8.40" fill="#303030" rx="2" opacity="0.30"/>
<rect x="101.00" y="829.10" width="23.00" height="8.40" fill="#303030" rx="2" opacity="0.30"/>
<rect x="127.00" y="829.10" width="22.00" height="8.40" fill="#404040" rx="2" opacity="0.25"/>
<rect x="150.50" y="827.50" width="23.00" height="9.40" fill="#1c1c1c" rx="2" opacity="0.36"/>
<rect x="176.00" y="827.90" width="22.00" height="8.60" fill="#505050" rx="2" opacity="0.20"/>
<rect x="201.00" y="828.20" width="21.00" height="8.00" fill="#787878" rx="2" opacity="0.07"/>
<rect x="226.00" y="828.30" width="22.00" height="7.80" fill="#808080" rx="2" opacity="0.05"/>
</g>
<g filter="url(#bl1)">
<rect x="49.00" y="829.80" width="23.00" height="7.00" fill="#000000" rx="3.50" ry="3.50"/>
<rect x="76.00" y="831.30" width="21.00" height="4.00" fill="#303030" rx="2.00" ry="2.00"/>
<rect x="102.00" y="831.30" width="21.00" height="4.00" fill="#303030" rx="2.00" ry="2.00"/>
<rect x="128.00" y="831.30" width="20.00" height="4.00" fill="#404040" rx="2.00" ry="2.00"/>
<rect x="151.50" y="829.70" width="21.00" height="5.00" fill="#1c1c1c" rx="2.50" ry="2.50"/>
<rect x="177.00" y="830.10" width="20.00" height="4.20" fill="#505050" rx="2.10" ry="2.10"/>
<rect x="202.00" y="830.40" width="19.00" height="3.60" fill="#787878" rx="1.80" ry="1.80"/>
<rect x="227.00" y="830.50" width="20.00" height="3.40" fill="#808080" rx="1.70" ry="1.70"/>
</g>
</g>
<rect x="46.10" y="823.20" width="205.50" height="19.00" fill="none" stroke="#111" stroke-width="0.9"/>
<g clip-path="url(#cl20)">
<rect x="46.10" y="844.40" width="205.50" height="19.00" fill="#dcdcdc"/>
<g filter="url(#bl3)">
<rect x="49.00" y="851.70" width="22.00" height="8.60" fill="#000000" rx="2" opacity="0.45"/>
<rect x="75.00" y="851.80" width="21.00" height="8.40" fill="#000000" rx="2" opacity="0.45"/>
<rect x="101.00" y="851.70" width="21.00" height="8.60" fill="#000000" rx="2" opacity="0.45"/>
<rect x="126.00" y="851.70" width="21.00" height="8.60" fill="#000000" rx="2" opacity="0.45"/>
<rect x="151.00" y="850.20" width="21.00" height="9.00" fill="#000000" rx="2" opacity="0.45"/>
<rect x="175.50" y="850.20" width="21.00" height="9.00" fill="#000000" rx="2" opacity="0.45"/>
<rect x="200.00" y="850.20" width="21.00" height="9.00" fill="#000000" rx="2" opacity="0.45"/>
<rect x="225.00" y="850.20" width="22.00" height="9.00" fill="#000000" rx="2" opacity="0.45"/>
</g>
<g filter="url(#bl1)">
<rect x="50.00" y="853.90" width="20.00" height="4.20" fill="#000000" rx="2.10" ry="2.10"/>
<rect x="76.00" y="854.00" width="19.00" height="4.00" fill="#000000" rx="2.00" ry="2.00"/>
<rect x="102.00" y="853.90" width="19.00" height="4.20" fill="#000000" rx="2.10" ry="2.10"/>
<rect x="127.00" y="853.90" width="19.00" height="4.20" fill="#000000" rx="2.10" ry="2.10"/>
<rect x="152.00" y="852.40" width="19.00" height="4.60" fill="#000000" rx="2.30" ry="2.30"/>
<rect x="176.50" y="852.40" width="19.00" height="4.60" fill="#000000" rx="2.30" ry="2.30"/>
<rect x="201.00" y="852.40" width="19.00" height="4.60" fill="#000000" rx="2.30" ry="2.30"/>
<rect x="226.00" y="852.40" width="20.00" height="4.60" fill="#000000" rx="2.30" ry="2.30"/>
</g>
</g>
<rect x="46.10" y="844.40" width="205.50" height="19.00" fill="none" stroke="#111" stroke-width="0.9"/>
<text x="469.40" y="751.80" font-size="14" font-weight="bold">f</text>
<text x="551.50" y="757.20" font-size="8.4" text-anchor="middle" fill="#1a1a1a">MCF-7</text>
<line x1="529.60" y1="758.90" x2="569.00" y2="758.90" stroke="#000" stroke-width="1.0"/>
<text x="604.10" y="757.20" font-size="8.4" text-anchor="middle" fill="#1a1a1a">T47D</text>
<line x1="577.80" y1="758.90" x2="617.20" y2="758.90" stroke="#000" stroke-width="1.0"/>
<text x="536.10" y="768.90" font-size="8.4" text-anchor="middle" fill="#1a1a1a">Pa</text>
<text x="562.00" y="768.90" font-size="8.4" text-anchor="middle" fill="#1a1a1a">Re</text>
<text x="585.20" y="768.90" font-size="8.4" text-anchor="middle" fill="#1a1a1a">Pa</text>
<text x="610.20" y="768.90" font-size="8.4" text-anchor="middle" fill="#1a1a1a">Re</text>
<text x="520.10" y="783.30" font-size="8.4" text-anchor="end" fill="#1a1a1a">E-cadherin</text>
<text x="520.10" y="804.40" font-size="8.4" text-anchor="end" fill="#1a1a1a">N-cadherin</text>
<text x="520.10" y="825.80" font-size="8.4" text-anchor="end" fill="#1a1a1a">Vimentin</text>
<text x="520.10" y="847.10" font-size="8.4" text-anchor="end" fill="#1a1a1a">GAPDH</text>
<text x="632.60" y="782.50" font-size="8.4" fill="#1a1a1a">90 kD</text>
<text x="632.60" y="803.80" font-size="8.4" fill="#1a1a1a">100 kD</text>
<text x="632.60" y="824.80" font-size="8.4" fill="#1a1a1a">55 kD</text>
<text x="632.60" y="846.20" font-size="8.4" fill="#1a1a1a">37 kD</text>
<g clip-path="url(#cl21)">
<rect x="526.10" y="771.20" width="103.00" height="15.20" fill="#fafafa"/>
<g filter="url(#bl3)">
<rect x="527.00" y="774.60" width="21.00" height="9.00" fill="#000000" rx="2" opacity="0.45"/>
<rect x="575.50" y="776.05" width="20.00" height="6.70" fill="#000000" rx="2" opacity="0.45"/>
</g>
<g filter="url(#bl1)">
<rect x="528.00" y="776.80" width="19.00" height="4.60" fill="#000000" rx="2.30" ry="2.30"/>
<rect x="554.00" y="778.40" width="14.00" height="1.40" fill="#d4d4d4" rx="0.70" ry="0.70"/>
<rect x="576.50" y="778.25" width="18.00" height="2.30" fill="#000000" rx="1.15" ry="1.15"/>
<rect x="606.00" y="779.00" width="10.00" height="1.00" fill="#e8e8e8" rx="0.50" ry="0.50"/>
</g>
</g>
<rect x="526.10" y="771.20" width="103.00" height="15.20" fill="none" stroke="#111" stroke-width="0.9"/>
<g clip-path="url(#cl22)">
<rect x="526.10" y="791.30" width="103.00" height="15.60" fill="#f2f2f2"/>
<g filter="url(#bl2)">
<rect x="600.00" y="793.00" width="18.00" height="7.00" fill="#a0a0a0" opacity="0.7"/>
</g>
<g filter="url(#bl3)">
<rect x="526.00" y="802.10" width="20.00" height="5.80" fill="#303030" rx="2" opacity="0.30"/>
<rect x="550.00" y="796.40" width="21.00" height="9.60" fill="#000000" rx="2" opacity="0.45"/>
<rect x="599.00" y="797.30" width="19.00" height="8.40" fill="#1c1c1c" rx="2" opacity="0.36"/>
</g>
<g filter="url(#bl1)">
<rect x="528.50" y="799.70" width="17.00" height="1.60" fill="#a0a0a0" rx="0.80" ry="0.80"/>
<rect x="527.00" y="804.30" width="18.00" height="1.40" fill="#303030" rx="0.70" ry="0.70"/>
<rect x="551.00" y="798.60" width="19.00" height="5.20" fill="#000000" rx="2.60" ry="2.60"/>
<rect x="579.00" y="800.90" width="16.00" height="1.20" fill="#c8c8c8" rx="0.60" ry="0.60"/>
<rect x="600.00" y="799.50" width="17.00" height="4.00" fill="#1c1c1c" rx="2.00" ry="2.00"/>
</g>
</g>
<rect x="526.10" y="791.30" width="103.00" height="15.60" fill="none" stroke="#111" stroke-width="0.9"/>
<g clip-path="url(#cl23)">
<rect x="526.10" y="813.40" width="103.00" height="15.10" fill="#9a9a9a"/>
<g filter="url(#bl2)">
<rect x="554.00" y="821.00" width="19.00" height="8.00" fill="#404040" opacity="0.6"/>
</g>
<g filter="url(#bl3)">
<rect x="527.00" y="815.30" width="20.00" height="8.40" fill="#888888" rx="2" opacity="0.03"/>
<rect x="553.00" y="814.40" width="20.00" height="9.40" fill="#040404" rx="2" opacity="0.44"/>
<rect x="601.00" y="814.80" width="20.00" height="8.60" fill="#202020" rx="2" opacity="0.35"/>
</g>
<g filter="url(#bl1)">
<rect x="528.00" y="817.50" width="18.00" height="4.00" fill="#888888" rx="2.00" ry="2.00"/>
<rect x="554.00" y="816.60" width="18.00" height="5.00" fill="#040404" rx="2.50" ry="2.50"/>
<rect x="577.00" y="817.50" width="18.00" height="4.00" fill="#949494" rx="2.00" ry="2.00"/>
<rect x="602.00" y="817.00" width="18.00" height="4.20" fill="#202020" rx="2.10" ry="2.10"/>
</g>
</g>
<rect x="526.10" y="813.40" width="103.00" height="15.10" fill="none" stroke="#111" stroke-width="0.9"/>
<g clip-path="url(#cl24)">
<rect x="526.10" y="834.30" width="103.00" height="15.40" fill="#e8e8e8"/>
<g filter="url(#bl3)">
<rect x="530.00" y="837.30" width="22.00" height="9.40" fill="#000000" rx="2" opacity="0.45"/>
<rect x="554.00" y="837.70" width="21.00" height="8.60" fill="#000000" rx="2" opacity="0.45"/>
<rect x="577.00" y="837.70" width="21.00" height="8.60" fill="#000000" rx="2" opacity="0.45"/>
<rect x="600.50" y="837.40" width="21.00" height="9.20" fill="#000000" rx="2" opacity="0.45"/>
</g>
<g filter="url(#bl1)">
<rect x="531.00" y="839.50" width="20.00" height="5.00" fill="#000000" rx="2.50" ry="2.50"/>
<rect x="555.00" y="839.90" width="19.00" height="4.20" fill="#000000" rx="2.10" ry="2.10"/>
<rect x="578.00" y="839.90" width="19.00" height="4.20" fill="#000000" rx="2.10" ry="2.10"/>
<rect x="601.50" y="839.60" width="19.00" height="4.80" fill="#000000" rx="2.40" ry="2.40"/>
</g>
</g>
<rect x="526.10" y="834.30" width="103.00" height="15.40" fill="none" stroke="#111" stroke-width="0.9"/>
<rect x="319.80" y="496.50" width="6.60" height="49.80" fill="#b63f2a" stroke="#111" stroke-width="0.8"/>
<line x1="323.10" y1="496.50" x2="323.10" y2="495.30" stroke="#000" stroke-width="0.75"/>
<line x1="321.70" y1="495.30" x2="324.50" y2="495.30" stroke="#000" stroke-width="0.75"/>
<rect x="331.20" y="498.30" width="6.60" height="48.00" fill="#b63f2a" stroke="#111" stroke-width="0.8"/>
<line x1="334.50" y1="498.30" x2="334.50" y2="496.50" stroke="#000" stroke-width="0.75"/>
<line x1="333.10" y1="496.50" x2="335.90" y2="496.50" stroke="#000" stroke-width="0.75"/>
<rect x="342.80" y="521.70" width="6.60" height="24.60" fill="#b63f2a" stroke="#111" stroke-width="0.8"/>
<line x1="346.10" y1="521.70" x2="346.10" y2="519.90" stroke="#000" stroke-width="0.75"/>
<line x1="344.70" y1="519.90" x2="347.50" y2="519.90" stroke="#000" stroke-width="0.75"/>
<rect x="362.40" y="528.30" width="6.60" height="18.00" fill="#2b5f7d" stroke="#111" stroke-width="0.8"/>
<line x1="365.70" y1="528.30" x2="365.70" y2="527.10" stroke="#000" stroke-width="0.75"/>
<line x1="364.30" y1="527.10" x2="367.10" y2="527.10" stroke="#000" stroke-width="0.75"/>
<rect x="373.60" y="524.10" width="6.60" height="22.20" fill="#2b5f7d" stroke="#111" stroke-width="0.8"/>
<line x1="376.90" y1="524.10" x2="376.90" y2="522.90" stroke="#000" stroke-width="0.75"/>
<line x1="375.50" y1="522.90" x2="378.30" y2="522.90" stroke="#000" stroke-width="0.75"/>
<rect x="385.00" y="485.10" width="6.80" height="61.20" fill="#2b5f7d" stroke="#111" stroke-width="0.8"/>
<line x1="388.40" y1="485.10" x2="388.40" y2="480.30" stroke="#000" stroke-width="0.75"/>
<line x1="387.00" y1="480.30" x2="389.80" y2="480.30" stroke="#000" stroke-width="0.75"/>
<rect x="404.10" y="525.90" width="6.60" height="20.40" fill="#a6d6e6" stroke="#111" stroke-width="0.8"/>
<line x1="407.40" y1="525.90" x2="407.40" y2="524.70" stroke="#000" stroke-width="0.75"/>
<line x1="406.00" y1="524.70" x2="408.80" y2="524.70" stroke="#000" stroke-width="0.75"/>
<rect x="415.70" y="525.30" width="6.60" height="21.00" fill="#a6d6e6" stroke="#111" stroke-width="0.8"/>
<line x1="419.00" y1="525.30" x2="419.00" y2="523.50" stroke="#000" stroke-width="0.75"/>
<line x1="417.60" y1="523.50" x2="420.40" y2="523.50" stroke="#000" stroke-width="0.75"/>
<rect x="427.60" y="481.50" width="6.80" height="64.80" fill="#a6d6e6" stroke="#111" stroke-width="0.8"/>
<line x1="431.00" y1="481.50" x2="431.00" y2="474.30" stroke="#000" stroke-width="0.75"/>
<line x1="429.60" y1="474.30" x2="432.40" y2="474.30" stroke="#000" stroke-width="0.75"/>
<circle cx="321.70" cy="495.78" r="1.55" fill="#fff" stroke="#111" stroke-width="0.7"/>
<circle cx="323.50" cy="496.50" r="1.55" fill="#fff" stroke="#111" stroke-width="0.7"/>
<circle cx="324.70" cy="497.46" r="1.55" fill="#fff" stroke="#111" stroke-width="0.7"/>
<circle cx="333.10" cy="497.22" r="1.55" fill="#fff" stroke="#111" stroke-width="0.7"/>
<circle cx="334.90" cy="498.30" r="1.55" fill="#fff" stroke="#111" stroke-width="0.7"/>
<circle cx="336.10" cy="499.74" r="1.55" fill="#fff" stroke="#111" stroke-width="0.7"/>
<circle cx="344.70" cy="520.62" r="1.55" fill="#fff" stroke="#111" stroke-width="0.7"/>
<circle cx="346.50" cy="521.70" r="1.55" fill="#fff" stroke="#111" stroke-width="0.7"/>
<circle cx="347.70" cy="523.14" r="1.55" fill="#fff" stroke="#111" stroke-width="0.7"/>
<circle cx="364.30" cy="527.58" r="1.55" fill="#fff" stroke="#111" stroke-width="0.7"/>
<circle cx="366.10" cy="528.30" r="1.55" fill="#fff" stroke="#111" stroke-width="0.7"/>
<circle cx="367.30" cy="529.26" r="1.55" fill="#fff" stroke="#111" stroke-width="0.7"/>
<circle cx="375.50" cy="523.38" r="1.55" fill="#fff" stroke="#111" stroke-width="0.7"/>
<circle cx="377.30" cy="524.10" r="1.55" fill="#fff" stroke="#111" stroke-width="0.7"/>
<circle cx="378.50" cy="525.06" r="1.55" fill="#fff" stroke="#111" stroke-width="0.7"/>
<circle cx="388.40" cy="480.54" r="1.55" fill="#fff" stroke="#111" stroke-width="0.7"/>
<circle cx="386.80" cy="486.78" r="1.55" fill="#fff" stroke="#111" stroke-width="0.7"/>
<circle cx="390.00" cy="487.98" r="1.55" fill="#fff" stroke="#111" stroke-width="0.7"/>
<circle cx="406.00" cy="525.18" r="1.55" fill="#fff" stroke="#111" stroke-width="0.7"/>
<circle cx="407.80" cy="525.90" r="1.55" fill="#fff" stroke="#111" stroke-width="0.7"/>
<circle cx="409.00" cy="526.86" r="1.55" fill="#fff" stroke="#111" stroke-width="0.7"/>
<circle cx="417.60" cy="524.22" r="1.55" fill="#fff" stroke="#111" stroke-width="0.7"/>
<circle cx="419.40" cy="525.30" r="1.55" fill="#fff" stroke="#111" stroke-width="0.7"/>
<circle cx="420.60" cy="526.74" r="1.55" fill="#fff" stroke="#111" stroke-width="0.7"/>
<circle cx="431.00" cy="474.66" r="1.55" fill="#fff" stroke="#111" stroke-width="0.7"/>
<circle cx="429.40" cy="484.02" r="1.55" fill="#fff" stroke="#111" stroke-width="0.7"/>
<circle cx="432.60" cy="485.82" r="1.55" fill="#fff" stroke="#111" stroke-width="0.7"/>
<line x1="315.60" y1="546.30" x2="439.50" y2="546.30" stroke="#111" stroke-width="0.8"/>
<line x1="315.60" y1="546.70" x2="315.60" y2="455.90" stroke="#111" stroke-width="0.8"/>
<line x1="313.40" y1="546.30" x2="315.60" y2="546.30" stroke="#111" stroke-width="0.8"/>
<text x="310.40" y="548.57" font-size="6.3" text-anchor="end" font-weight="bold" fill="#111">0.0</text>
<line x1="313.40" y1="516.30" x2="315.60" y2="516.30" stroke="#111" stroke-width="0.8"/>
<text x="310.40" y="518.57" font-size="6.3" text-anchor="end" font-weight="bold" fill="#111">0.5</text>
<line x1="313.40" y1="486.30" x2="315.60" y2="486.30" stroke="#111" stroke-width="0.8"/>
<text x="310.40" y="488.57" font-size="6.3" text-anchor="end" font-weight="bold" fill="#111">1.0</text>
<line x1="313.40" y1="456.30" x2="315.60" y2="456.30" stroke="#111" stroke-width="0.8"/>
<text x="310.40" y="458.57" font-size="6.3" text-anchor="end" font-weight="bold" fill="#111">1.5</text>
<line x1="323.10" y1="546.30" x2="323.10" y2="548.30" stroke="#111" stroke-width="0.7"/>
<text x="325.50" y="555.90" font-size="7.0" text-anchor="end" font-weight="bold" fill="#111" transform="rotate(-45 325.50 555.90)">UT</text>
<line x1="334.50" y1="546.30" x2="334.50" y2="548.30" stroke="#111" stroke-width="0.7"/>
<text x="336.90" y="555.90" font-size="7.0" text-anchor="end" font-weight="bold" fill="#111" transform="rotate(-45 336.90 555.90)">Vector</text>
<line x1="346.10" y1="546.30" x2="346.10" y2="548.30" stroke="#111" stroke-width="0.7"/>
<text x="348.50" y="555.90" font-size="7.0" text-anchor="end" font-weight="bold" fill="#111" transform="rotate(-45 348.50 555.90)">OE</text>
<line x1="365.70" y1="546.30" x2="365.70" y2="548.30" stroke="#111" stroke-width="0.7"/>
<text x="368.10" y="555.90" font-size="7.0" text-anchor="end" font-weight="bold" fill="#111" transform="rotate(-45 368.10 555.90)">UT</text>
<line x1="376.90" y1="546.30" x2="376.90" y2="548.30" stroke="#111" stroke-width="0.7"/>
<text x="379.30" y="555.90" font-size="7.0" text-anchor="end" font-weight="bold" fill="#111" transform="rotate(-45 379.30 555.90)">Vector</text>
<line x1="388.40" y1="546.30" x2="388.40" y2="548.30" stroke="#111" stroke-width="0.7"/>
<text x="390.80" y="555.90" font-size="7.0" text-anchor="end" font-weight="bold" fill="#111" transform="rotate(-45 390.80 555.90)">OE</text>
<line x1="407.40" y1="546.30" x2="407.40" y2="548.30" stroke="#111" stroke-width="0.7"/>
<text x="409.80" y="555.90" font-size="7.0" text-anchor="end" font-weight="bold" fill="#111" transform="rotate(-45 409.80 555.90)">UT</text>
<line x1="419.00" y1="546.30" x2="419.00" y2="548.30" stroke="#111" stroke-width="0.7"/>
<text x="421.40" y="555.90" font-size="7.0" text-anchor="end" font-weight="bold" fill="#111" transform="rotate(-45 421.40 555.90)">Vector</text>
<line x1="431.00" y1="546.30" x2="431.00" y2="548.30" stroke="#111" stroke-width="0.7"/>
<text x="433.40" y="555.90" font-size="7.0" text-anchor="end" font-weight="bold" fill="#111" transform="rotate(-45 433.40 555.90)">OE</text>
<path d="M334.50,496.00 L334.50,483.40 L346.10,483.40 L346.10,517.50" fill="none" stroke="#000" stroke-width="0.95"/>
<text x="340.30" y="485.60" font-size="10.4" text-anchor="middle" font-weight="bold" fill="#111">***</text>
<path d="M376.90,521.50 L376.90,465.50 L388.40,465.50 L388.40,479.00" fill="none" stroke="#000" stroke-width="0.95"/>
<text x="382.65" y="467.70" font-size="10.4" text-anchor="middle" font-weight="bold" fill="#111">***</text>
<path d="M419.00,521.00 L419.00,461.50 L431.00,461.50 L431.00,472.00" fill="none" stroke="#000" stroke-width="0.95"/>
<text x="425.00" y="463.70" font-size="10.4" text-anchor="middle" font-weight="bold" fill="#111">***</text>
<rect x="294.30" y="444.20" width="9.00" height="4.20" fill="#b63f2a" stroke="#1a1a1a" stroke-width="0.55"/>
<text x="308.80" y="448.90" font-size="7.4" fill="#1a1a1a">E-cadherin</text>
<rect x="350.50" y="444.20" width="9.00" height="4.20" fill="#2b5f7d" stroke="#1a1a1a" stroke-width="0.55"/>
<text x="364.30" y="448.90" font-size="7.4" fill="#1a1a1a">N-cadherin</text>
<rect x="407.40" y="444.20" width="9.00" height="4.20" fill="#a6d6e6" stroke="#1a1a1a" stroke-width="0.55"/>
<text x="421.60" y="448.90" font-size="7.4" fill="#1a1a1a">Vimentin</text>
<text x="288.00" y="503.00" font-size="7.5" text-anchor="middle" font-weight="bold" fill="#111" transform="rotate(-90 288.00 503.00)">MCF-7-Pa</text>
<text x="297.20" y="503.00" font-size="7.5" text-anchor="middle" font-weight="bold" fill="#111" transform="rotate(-90 297.20 503.00)">Relative  expression</text>
<rect x="514.10" y="523.40" width="7.10" height="23.80" fill="#b63f2a" stroke="#111" stroke-width="0.8"/>
<line x1="517.65" y1="523.40" x2="517.65" y2="522.21" stroke="#000" stroke-width="0.75"/>
<line x1="516.25" y1="522.21" x2="519.05" y2="522.21" stroke="#000" stroke-width="0.75"/>
<rect x="526.00" y="520.43" width="7.00" height="26.77" fill="#b63f2a" stroke="#111" stroke-width="0.8"/>
<line x1="529.50" y1="520.43" x2="529.50" y2="518.64" stroke="#000" stroke-width="0.75"/>
<line x1="528.10" y1="518.64" x2="530.90" y2="518.64" stroke="#000" stroke-width="0.75"/>
<rect x="537.30" y="534.71" width="7.00" height="12.50" fill="#b63f2a" stroke="#111" stroke-width="0.8"/>
<line x1="540.80" y1="534.71" x2="540.80" y2="533.52" stroke="#000" stroke-width="0.75"/>
<line x1="539.40" y1="533.52" x2="542.20" y2="533.52" stroke="#000" stroke-width="0.75"/>
<rect x="557.20" y="525.78" width="6.40" height="21.42" fill="#2b5f7d" stroke="#111" stroke-width="0.8"/>
<line x1="560.40" y1="525.78" x2="560.40" y2="524.59" stroke="#000" stroke-width="0.75"/>
<line x1="559.00" y1="524.59" x2="561.80" y2="524.59" stroke="#000" stroke-width="0.75"/>
<rect x="568.40" y="525.78" width="6.70" height="21.42" fill="#2b5f7d" stroke="#111" stroke-width="0.8"/>
<line x1="571.75" y1="525.78" x2="571.75" y2="524.59" stroke="#000" stroke-width="0.75"/>
<line x1="570.35" y1="524.59" x2="573.15" y2="524.59" stroke="#000" stroke-width="0.75"/>
<rect x="580.00" y="504.36" width="7.00" height="42.84" fill="#2b5f7d" stroke="#111" stroke-width="0.8"/>
<line x1="583.50" y1="504.36" x2="583.50" y2="503.17" stroke="#000" stroke-width="0.75"/>
<line x1="582.10" y1="503.17" x2="584.90" y2="503.17" stroke="#000" stroke-width="0.75"/>
<rect x="599.20" y="529.35" width="7.10" height="17.85" fill="#a6d6e6" stroke="#111" stroke-width="0.8"/>
<line x1="602.75" y1="529.35" x2="602.75" y2="528.16" stroke="#000" stroke-width="0.75"/>
<line x1="601.35" y1="528.16" x2="604.15" y2="528.16" stroke="#000" stroke-width="0.75"/>
<rect x="611.10" y="528.75" width="6.40" height="18.45" fill="#a6d6e6" stroke="#111" stroke-width="0.8"/>
<line x1="614.30" y1="528.75" x2="614.30" y2="527.57" stroke="#000" stroke-width="0.75"/>
<line x1="612.90" y1="527.57" x2="615.70" y2="527.57" stroke="#000" stroke-width="0.75"/>
<rect x="622.40" y="482.94" width="7.00" height="64.26" fill="#a6d6e6" stroke="#111" stroke-width="0.8"/>
<line x1="625.90" y1="482.94" x2="625.90" y2="477.59" stroke="#000" stroke-width="0.75"/>
<line x1="624.50" y1="477.59" x2="627.30" y2="477.59" stroke="#000" stroke-width="0.75"/>
<circle cx="516.25" cy="522.69" r="1.55" fill="#fff" stroke="#111" stroke-width="0.7"/>
<circle cx="518.05" cy="523.40" r="1.55" fill="#fff" stroke="#111" stroke-width="0.7"/>
<circle cx="519.25" cy="524.35" r="1.55" fill="#fff" stroke="#111" stroke-width="0.7"/>
<circle cx="528.10" cy="519.35" r="1.55" fill="#fff" stroke="#111" stroke-width="0.7"/>
<circle cx="529.90" cy="520.43" r="1.55" fill="#fff" stroke="#111" stroke-width="0.7"/>
<circle cx="531.10" cy="521.85" r="1.55" fill="#fff" stroke="#111" stroke-width="0.7"/>
<circle cx="539.40" cy="533.99" r="1.55" fill="#fff" stroke="#111" stroke-width="0.7"/>
<circle cx="541.20" cy="534.71" r="1.55" fill="#fff" stroke="#111" stroke-width="0.7"/>
<circle cx="542.40" cy="535.66" r="1.55" fill="#fff" stroke="#111" stroke-width="0.7"/>
<circle cx="559.00" cy="525.07" r="1.55" fill="#fff" stroke="#111" stroke-width="0.7"/>
<circle cx="560.80" cy="525.78" r="1.55" fill="#fff" stroke="#111" stroke-width="0.7"/>
<circle cx="562.00" cy="526.73" r="1.55" fill="#fff" stroke="#111" stroke-width="0.7"/>
<circle cx="570.35" cy="525.07" r="1.55" fill="#fff" stroke="#111" stroke-width="0.7"/>
<circle cx="572.15" cy="525.78" r="1.55" fill="#fff" stroke="#111" stroke-width="0.7"/>
<circle cx="573.35" cy="526.73" r="1.55" fill="#fff" stroke="#111" stroke-width="0.7"/>
<circle cx="582.10" cy="503.65" r="1.55" fill="#fff" stroke="#111" stroke-width="0.7"/>
<circle cx="583.90" cy="504.36" r="1.55" fill="#fff" stroke="#111" stroke-width="0.7"/>
<circle cx="585.10" cy="505.31" r="1.55" fill="#fff" stroke="#111" stroke-width="0.7"/>
<circle cx="601.35" cy="528.64" r="1.55" fill="#fff" stroke="#111" stroke-width="0.7"/>
<circle cx="603.15" cy="529.35" r="1.55" fill="#fff" stroke="#111" stroke-width="0.7"/>
<circle cx="604.35" cy="530.30" r="1.55" fill="#fff" stroke="#111" stroke-width="0.7"/>
<circle cx="612.90" cy="528.04" r="1.55" fill="#fff" stroke="#111" stroke-width="0.7"/>
<circle cx="614.70" cy="528.75" r="1.55" fill="#fff" stroke="#111" stroke-width="0.7"/>
<circle cx="615.90" cy="529.71" r="1.55" fill="#fff" stroke="#111" stroke-width="0.7"/>
<circle cx="625.90" cy="477.85" r="1.55" fill="#fff" stroke="#111" stroke-width="0.7"/>
<circle cx="624.30" cy="484.81" r="1.55" fill="#fff" stroke="#111" stroke-width="0.7"/>
<circle cx="627.50" cy="486.15" r="1.55" fill="#fff" stroke="#111" stroke-width="0.7"/>
<line x1="510.70" y1="547.20" x2="633.60" y2="547.20" stroke="#111" stroke-width="0.8"/>
<line x1="510.70" y1="547.60" x2="510.70" y2="457.55" stroke="#111" stroke-width="0.8"/>
<line x1="508.50" y1="547.20" x2="510.70" y2="547.20" stroke="#111" stroke-width="0.8"/>
<text x="505.70" y="549.58" font-size="6.6" text-anchor="end" font-weight="bold" fill="#111">0.0</text>
<line x1="508.50" y1="517.45" x2="510.70" y2="517.45" stroke="#111" stroke-width="0.8"/>
<text x="505.70" y="519.83" font-size="6.6" text-anchor="end" font-weight="bold" fill="#111">0.5</text>
<line x1="508.50" y1="487.70" x2="510.70" y2="487.70" stroke="#111" stroke-width="0.8"/>
<text x="505.70" y="490.08" font-size="6.6" text-anchor="end" font-weight="bold" fill="#111">1.0</text>
<line x1="508.50" y1="457.95" x2="510.70" y2="457.95" stroke="#111" stroke-width="0.8"/>
<text x="505.70" y="460.33" font-size="6.6" text-anchor="end" font-weight="bold" fill="#111">1.5</text>
<line x1="517.65" y1="547.20" x2="517.65" y2="549.20" stroke="#111" stroke-width="0.7"/>
<text x="520.05" y="556.80" font-size="7.0" text-anchor="end" font-weight="bold" fill="#111" transform="rotate(-45 520.05 556.80)">UT</text>
<line x1="529.50" y1="547.20" x2="529.50" y2="549.20" stroke="#111" stroke-width="0.7"/>
<text x="531.90" y="556.80" font-size="7.0" text-anchor="end" font-weight="bold" fill="#111" transform="rotate(-45 531.90 556.80)">Vector</text>
<line x1="540.80" y1="547.20" x2="540.80" y2="549.20" stroke="#111" stroke-width="0.7"/>
<text x="543.20" y="556.80" font-size="7.0" text-anchor="end" font-weight="bold" fill="#111" transform="rotate(-45 543.20 556.80)">OE</text>
<line x1="560.40" y1="547.20" x2="560.40" y2="549.20" stroke="#111" stroke-width="0.7"/>
<text x="562.80" y="556.80" font-size="7.0" text-anchor="end" font-weight="bold" fill="#111" transform="rotate(-45 562.80 556.80)">UT</text>
<line x1="571.75" y1="547.20" x2="571.75" y2="549.20" stroke="#111" stroke-width="0.7"/>
<text x="574.15" y="556.80" font-size="7.0" text-anchor="end" font-weight="bold" fill="#111" transform="rotate(-45 574.15 556.80)">Vector</text>
<line x1="583.50" y1="547.20" x2="583.50" y2="549.20" stroke="#111" stroke-width="0.7"/>
<text x="585.90" y="556.80" font-size="7.0" text-anchor="end" font-weight="bold" fill="#111" transform="rotate(-45 585.90 556.80)">OE</text>
<line x1="602.75" y1="547.20" x2="602.75" y2="549.20" stroke="#111" stroke-width="0.7"/>
<text x="605.15" y="556.80" font-size="7.0" text-anchor="end" font-weight="bold" fill="#111" transform="rotate(-45 605.15 556.80)">UT</text>
<line x1="614.30" y1="547.20" x2="614.30" y2="549.20" stroke="#111" stroke-width="0.7"/>
<text x="616.70" y="556.80" font-size="7.0" text-anchor="end" font-weight="bold" fill="#111" transform="rotate(-45 616.70 556.80)">Vector</text>
<line x1="625.90" y1="547.20" x2="625.90" y2="549.20" stroke="#111" stroke-width="0.7"/>
<text x="628.30" y="556.80" font-size="7.0" text-anchor="end" font-weight="bold" fill="#111" transform="rotate(-45 628.30 556.80)">OE</text>
<path d="M529.50,518.00 L529.50,506.70 L540.80,506.70 L540.80,532.00" fill="none" stroke="#000" stroke-width="0.95"/>
<text x="535.15" y="508.90" font-size="10.4" text-anchor="middle" font-weight="bold" fill="#111">***</text>
<path d="M571.80,521.00 L571.80,489.70 L583.50,489.70 L583.50,501.00" fill="none" stroke="#000" stroke-width="0.95"/>
<text x="577.65" y="491.90" font-size="10.4" text-anchor="middle" font-weight="bold" fill="#111">***</text>
<path d="M614.30,526.00 L614.30,465.90 L625.90,465.90 L625.90,476.00" fill="none" stroke="#000" stroke-width="0.95"/>
<text x="620.10" y="468.10" font-size="10.4" text-anchor="middle" font-weight="bold" fill="#111">***</text>
<rect x="489.00" y="445.10" width="9.00" height="4.20" fill="#b63f2a" stroke="#1a1a1a" stroke-width="0.55"/>
<text x="503.80" y="449.80" font-size="7.4" fill="#1a1a1a">E-cadherin</text>
<rect x="543.70" y="445.10" width="9.00" height="4.20" fill="#2b5f7d" stroke="#1a1a1a" stroke-width="0.55"/>
<text x="560.30" y="449.80" font-size="7.4" fill="#1a1a1a">N-cadherin</text>
<rect x="602.40" y="445.10" width="9.00" height="4.20" fill="#a6d6e6" stroke="#1a1a1a" stroke-width="0.55"/>
<text x="616.20" y="449.80" font-size="7.4" fill="#1a1a1a">Vimentin</text>
<text x="481.70" y="499.00" font-size="7.5" text-anchor="middle" font-weight="bold" fill="#111" transform="rotate(-90 481.70 499.00)">T47D-Pa</text>
<text x="490.60" y="499.00" font-size="7.5" text-anchor="middle" font-weight="bold" fill="#111" transform="rotate(-90 490.60 499.00)">Relative  expression</text>
<rect x="319.00" y="697.45" width="7.10" height="8.05" fill="#b63f2a" stroke="#111" stroke-width="0.8"/>
<line x1="322.55" y1="697.45" x2="322.55" y2="695.60" stroke="#000" stroke-width="0.75"/>
<line x1="321.15" y1="695.60" x2="323.95" y2="695.60" stroke="#000" stroke-width="0.75"/>
<rect x="330.30" y="698.69" width="7.00" height="6.81" fill="#b63f2a" stroke="#111" stroke-width="0.8"/>
<line x1="333.80" y1="698.69" x2="333.80" y2="697.45" stroke="#000" stroke-width="0.75"/>
<line x1="332.40" y1="697.45" x2="335.20" y2="697.45" stroke="#000" stroke-width="0.75"/>
<rect x="343.10" y="656.60" width="7.10" height="48.90" fill="#b63f2a" stroke="#111" stroke-width="0.8"/>
<line x1="346.65" y1="656.60" x2="346.65" y2="655.36" stroke="#000" stroke-width="0.75"/>
<line x1="345.25" y1="655.36" x2="348.05" y2="655.36" stroke="#000" stroke-width="0.75"/>
<rect x="355.00" y="655.98" width="7.00" height="49.52" fill="#b63f2a" stroke="#111" stroke-width="0.8"/>
<line x1="358.50" y1="655.98" x2="358.50" y2="654.74" stroke="#000" stroke-width="0.75"/>
<line x1="357.10" y1="654.74" x2="359.90" y2="654.74" stroke="#000" stroke-width="0.75"/>
<rect x="375.20" y="677.03" width="7.10" height="28.47" fill="#2b5f7d" stroke="#111" stroke-width="0.8"/>
<line x1="378.75" y1="677.03" x2="378.75" y2="675.79" stroke="#000" stroke-width="0.75"/>
<line x1="377.35" y1="675.79" x2="380.15" y2="675.79" stroke="#000" stroke-width="0.75"/>
<rect x="387.10" y="677.64" width="7.10" height="27.86" fill="#2b5f7d" stroke="#111" stroke-width="0.8"/>
<line x1="390.65" y1="677.64" x2="390.65" y2="676.41" stroke="#000" stroke-width="0.75"/>
<line x1="389.25" y1="676.41" x2="392.05" y2="676.41" stroke="#000" stroke-width="0.75"/>
<rect x="399.30" y="691.88" width="7.10" height="13.62" fill="#2b5f7d" stroke="#111" stroke-width="0.8"/>
<line x1="402.85" y1="691.88" x2="402.85" y2="690.64" stroke="#000" stroke-width="0.75"/>
<line x1="401.45" y1="690.64" x2="404.25" y2="690.64" stroke="#000" stroke-width="0.75"/>
<rect x="411.20" y="691.26" width="7.10" height="14.24" fill="#2b5f7d" stroke="#111" stroke-width="0.8"/>
<line x1="414.75" y1="691.26" x2="414.75" y2="690.02" stroke="#000" stroke-width="0.75"/>
<line x1="413.35" y1="690.02" x2="416.15" y2="690.02" stroke="#000" stroke-width="0.75"/>
<rect x="431.60" y="646.08" width="7.00" height="59.42" fill="#a6d6e6" stroke="#111" stroke-width="0.8"/>
<line x1="435.10" y1="646.08" x2="435.10" y2="644.22" stroke="#000" stroke-width="0.75"/>
<line x1="433.70" y1="644.22" x2="436.50" y2="644.22" stroke="#000" stroke-width="0.75"/>
<rect x="444.00" y="647.31" width="7.00" height="58.19" fill="#a6d6e6" stroke="#111" stroke-width="0.8"/>
<line x1="447.50" y1="647.31" x2="447.50" y2="646.08" stroke="#000" stroke-width="0.75"/>
<line x1="446.10" y1="646.08" x2="448.90" y2="646.08" stroke="#000" stroke-width="0.75"/>
<rect x="455.60" y="668.98" width="7.20" height="36.52" fill="#a6d6e6" stroke="#111" stroke-width="0.8"/>
<line x1="459.20" y1="668.98" x2="459.20" y2="666.50" stroke="#000" stroke-width="0.75"/>
<line x1="457.80" y1="666.50" x2="460.60" y2="666.50" stroke="#000" stroke-width="0.75"/>
<rect x="467.60" y="669.60" width="7.20" height="35.90" fill="#a6d6e6" stroke="#111" stroke-width="0.8"/>
<line x1="471.20" y1="669.60" x2="471.20" y2="667.12" stroke="#000" stroke-width="0.75"/>
<line x1="469.80" y1="667.12" x2="472.60" y2="667.12" stroke="#000" stroke-width="0.75"/>
<circle cx="321.15" cy="696.34" r="1.55" fill="#fff" stroke="#111" stroke-width="0.7"/>
<circle cx="322.95" cy="697.45" r="1.55" fill="#fff" stroke="#111" stroke-width="0.7"/>
<circle cx="324.15" cy="698.94" r="1.55" fill="#fff" stroke="#111" stroke-width="0.7"/>
<circle cx="332.40" cy="697.95" r="1.55" fill="#fff" stroke="#111" stroke-width="0.7"/>
<circle cx="334.20" cy="698.69" r="1.55" fill="#fff" stroke="#111" stroke-width="0.7"/>
<circle cx="335.40" cy="699.68" r="1.55" fill="#fff" stroke="#111" stroke-width="0.7"/>
<circle cx="345.25" cy="655.86" r="1.55" fill="#fff" stroke="#111" stroke-width="0.7"/>
<circle cx="347.05" cy="656.60" r="1.55" fill="#fff" stroke="#111" stroke-width="0.7"/>
<circle cx="348.25" cy="657.59" r="1.55" fill="#fff" stroke="#111" stroke-width="0.7"/>
<circle cx="357.10" cy="655.24" r="1.55" fill="#fff" stroke="#111" stroke-width="0.7"/>
<circle cx="358.90" cy="655.98" r="1.55" fill="#fff" stroke="#111" stroke-width="0.7"/>
<circle cx="360.10" cy="656.97" r="1.55" fill="#fff" stroke="#111" stroke-width="0.7"/>
<circle cx="377.35" cy="676.28" r="1.55" fill="#fff" stroke="#111" stroke-width="0.7"/>
<circle cx="379.15" cy="677.03" r="1.55" fill="#fff" stroke="#111" stroke-width="0.7"/>
<circle cx="380.35" cy="678.02" r="1.55" fill="#fff" stroke="#111" stroke-width="0.7"/>
<circle cx="389.25" cy="676.90" r="1.55" fill="#fff" stroke="#111" stroke-width="0.7"/>
<circle cx="391.05" cy="677.64" r="1.55" fill="#fff" stroke="#111" stroke-width="0.7"/>
<circle cx="392.25" cy="678.64" r="1.55" fill="#fff" stroke="#111" stroke-width="0.7"/>
<circle cx="401.45" cy="691.14" r="1.55" fill="#fff" stroke="#111" stroke-width="0.7"/>
<circle cx="403.25" cy="691.88" r="1.55" fill="#fff" stroke="#111" stroke-width="0.7"/>
<circle cx="404.45" cy="692.87" r="1.55" fill="#fff" stroke="#111" stroke-width="0.7"/>
<circle cx="413.35" cy="690.52" r="1.55" fill="#fff" stroke="#111" stroke-width="0.7"/>
<circle cx="415.15" cy="691.26" r="1.55" fill="#fff" stroke="#111" stroke-width="0.7"/>
<circle cx="416.35" cy="692.25" r="1.55" fill="#fff" stroke="#111" stroke-width="0.7"/>
<circle cx="433.70" cy="644.96" r="1.55" fill="#fff" stroke="#111" stroke-width="0.7"/>
<circle cx="435.50" cy="646.08" r="1.55" fill="#fff" stroke="#111" stroke-width="0.7"/>
<circle cx="436.70" cy="647.56" r="1.55" fill="#fff" stroke="#111" stroke-width="0.7"/>
<circle cx="446.10" cy="646.57" r="1.55" fill="#fff" stroke="#111" stroke-width="0.7"/>
<circle cx="447.90" cy="647.31" r="1.55" fill="#fff" stroke="#111" stroke-width="0.7"/>
<circle cx="449.10" cy="648.30" r="1.55" fill="#fff" stroke="#111" stroke-width="0.7"/>
<circle cx="457.80" cy="667.49" r="1.55" fill="#fff" stroke="#111" stroke-width="0.7"/>
<circle cx="459.60" cy="668.98" r="1.55" fill="#fff" stroke="#111" stroke-width="0.7"/>
<circle cx="460.80" cy="670.96" r="1.55" fill="#fff" stroke="#111" stroke-width="0.7"/>
<circle cx="469.80" cy="668.11" r="1.55" fill="#fff" stroke="#111" stroke-width="0.7"/>
<circle cx="471.60" cy="669.60" r="1.55" fill="#fff" stroke="#111" stroke-width="0.7"/>
<circle cx="472.80" cy="671.58" r="1.55" fill="#fff" stroke="#111" stroke-width="0.7"/>
<line x1="314.20" y1="705.50" x2="476.00" y2="705.50" stroke="#111" stroke-width="0.8"/>
<line x1="314.20" y1="705.90" x2="314.20" y2="612.25" stroke="#111" stroke-width="0.8"/>
<line x1="312.00" y1="705.50" x2="314.20" y2="705.50" stroke="#111" stroke-width="0.8"/>
<text x="309.60" y="707.98" font-size="6.9" text-anchor="end" font-weight="bold" fill="#111">0.0</text>
<line x1="312.00" y1="674.55" x2="314.20" y2="674.55" stroke="#111" stroke-width="0.8"/>
<text x="309.60" y="677.03" font-size="6.9" text-anchor="end" font-weight="bold" fill="#111">0.5</text>
<line x1="312.00" y1="643.60" x2="314.20" y2="643.60" stroke="#111" stroke-width="0.8"/>
<text x="309.60" y="646.08" font-size="6.9" text-anchor="end" font-weight="bold" fill="#111">1.0</text>
<line x1="312.00" y1="612.65" x2="314.20" y2="612.65" stroke="#111" stroke-width="0.8"/>
<text x="309.60" y="615.13" font-size="6.9" text-anchor="end" font-weight="bold" fill="#111">1.5</text>
<line x1="322.55" y1="705.50" x2="322.55" y2="707.50" stroke="#111" stroke-width="0.7"/>
<text x="324.95" y="715.10" font-size="7.0" text-anchor="end" font-weight="bold" fill="#111" transform="rotate(-45 324.95 715.10)">UT</text>
<line x1="333.80" y1="705.50" x2="333.80" y2="707.50" stroke="#111" stroke-width="0.7"/>
<text x="336.20" y="715.10" font-size="7.0" text-anchor="end" font-weight="bold" fill="#111" transform="rotate(-45 336.20 715.10)">shNC</text>
<line x1="346.65" y1="705.50" x2="346.65" y2="707.50" stroke="#111" stroke-width="0.7"/>
<text x="349.05" y="715.10" font-size="7.0" text-anchor="end" font-weight="bold" fill="#111" transform="rotate(-45 349.05 715.10)">sh1</text>
<line x1="358.50" y1="705.50" x2="358.50" y2="707.50" stroke="#111" stroke-width="0.7"/>
<text x="360.90" y="715.10" font-size="7.0" text-anchor="end" font-weight="bold" fill="#111" transform="rotate(-45 360.90 715.10)">sh2</text>
<line x1="378.75" y1="705.50" x2="378.75" y2="707.50" stroke="#111" stroke-width="0.7"/>
<text x="381.15" y="715.10" font-size="7.0" text-anchor="end" font-weight="bold" fill="#111" transform="rotate(-45 381.15 715.10)">UT</text>
<line x1="390.65" y1="705.50" x2="390.65" y2="707.50" stroke="#111" stroke-width="0.7"/>
<text x="393.05" y="715.10" font-size="7.0" text-anchor="end" font-weight="bold" fill="#111" transform="rotate(-45 393.05 715.10)">shNC</text>
<line x1="402.85" y1="705.50" x2="402.85" y2="707.50" stroke="#111" stroke-width="0.7"/>
<text x="405.25" y="715.10" font-size="7.0" text-anchor="end" font-weight="bold" fill="#111" transform="rotate(-45 405.25 715.10)">sh1</text>
<line x1="414.75" y1="705.50" x2="414.75" y2="707.50" stroke="#111" stroke-width="0.7"/>
<text x="417.15" y="715.10" font-size="7.0" text-anchor="end" font-weight="bold" fill="#111" transform="rotate(-45 417.15 715.10)">sh2</text>
<line x1="435.10" y1="705.50" x2="435.10" y2="707.50" stroke="#111" stroke-width="0.7"/>
<text x="437.50" y="715.10" font-size="7.0" text-anchor="end" font-weight="bold" fill="#111" transform="rotate(-45 437.50 715.10)">UT</text>
<line x1="447.50" y1="705.50" x2="447.50" y2="707.50" stroke="#111" stroke-width="0.7"/>
<text x="449.90" y="715.10" font-size="7.0" text-anchor="end" font-weight="bold" fill="#111" transform="rotate(-45 449.90 715.10)">shNC</text>
<line x1="459.20" y1="705.50" x2="459.20" y2="707.50" stroke="#111" stroke-width="0.7"/>
<text x="461.60" y="715.10" font-size="7.0" text-anchor="end" font-weight="bold" fill="#111" transform="rotate(-45 461.60 715.10)">sh1</text>
<line x1="471.20" y1="705.50" x2="471.20" y2="707.50" stroke="#111" stroke-width="0.7"/>
<text x="473.60" y="715.10" font-size="7.0" text-anchor="end" font-weight="bold" fill="#111" transform="rotate(-45 473.60 715.10)">sh2</text>
<path d="M336.30,695.00 L336.30,641.00 L347.30,641.00 L347.30,654.00" fill="none" stroke="#000" stroke-width="0.95"/>
<text x="341.80" y="643.20" font-size="10.4" text-anchor="middle" font-weight="bold" fill="#111">***</text>
<path d="M332.00,695.00 L332.00,627.00 L359.10,627.00 L359.10,652.00" fill="none" stroke="#000" stroke-width="0.95"/>
<text x="345.55" y="629.20" font-size="10.4" text-anchor="middle" font-weight="bold" fill="#111">***</text>
<path d="M390.60,674.00 L390.60,660.70 L401.70,660.70 L401.70,690.00" fill="none" stroke="#000" stroke-width="0.95"/>
<text x="396.15" y="662.90" font-size="10.4" text-anchor="middle" font-weight="bold" fill="#111">***</text>
<path d="M385.90,674.00 L385.90,648.30 L414.80,648.30 L414.80,688.00" fill="none" stroke="#000" stroke-width="0.95"/>
<text x="400.35" y="650.50" font-size="10.4" text-anchor="middle" font-weight="bold" fill="#111">***</text>
<path d="M449.00,645.00 L449.00,633.60 L459.00,633.60 L459.00,666.00" fill="none" stroke="#000" stroke-width="0.95"/>
<text x="454.00" y="635.80" font-size="10.4" text-anchor="middle" font-weight="bold" fill="#111">***</text>
<path d="M444.00,645.00 L444.00,621.30 L472.10,621.30 L472.10,667.00" fill="none" stroke="#000" stroke-width="0.95"/>
<text x="458.05" y="623.50" font-size="10.4" text-anchor="middle" font-weight="bold" fill="#111">***</text>
<rect x="315.20" y="600.00" width="9.00" height="4.20" fill="#b63f2a" stroke="#1a1a1a" stroke-width="0.55"/>
<text x="329.40" y="604.70" font-size="7.4" fill="#1a1a1a">E-cadherin</text>
<rect x="374.60" y="600.00" width="9.00" height="4.20" fill="#2b5f7d" stroke="#1a1a1a" stroke-width="0.55"/>
<text x="388.50" y="604.70" font-size="7.4" fill="#1a1a1a">N-cadherin</text>
<rect x="433.00" y="600.00" width="9.00" height="4.20" fill="#a6d6e6" stroke="#1a1a1a" stroke-width="0.55"/>
<text x="447.40" y="604.70" font-size="7.4" fill="#1a1a1a">Vimentin</text>
<text x="287.30" y="658.00" font-size="7.5" text-anchor="middle" font-weight="bold" fill="#111" transform="rotate(-90 287.30 658.00)">MCF-7-Re</text>
<text x="295.90" y="658.00" font-size="7.5" text-anchor="middle" font-weight="bold" fill="#111" transform="rotate(-90 295.90 658.00)">Relative  expression</text>
<rect x="522.50" y="691.78" width="7.80" height="13.62" fill="#b63f2a" stroke="#111" stroke-width="0.8"/>
<line x1="526.40" y1="691.78" x2="526.40" y2="690.54" stroke="#000" stroke-width="0.75"/>
<line x1="525.00" y1="690.54" x2="527.80" y2="690.54" stroke="#000" stroke-width="0.75"/>
<rect x="534.90" y="694.88" width="7.70" height="10.52" fill="#b63f2a" stroke="#111" stroke-width="0.8"/>
<line x1="538.75" y1="694.88" x2="538.75" y2="693.64" stroke="#000" stroke-width="0.75"/>
<line x1="537.35" y1="693.64" x2="540.15" y2="693.64" stroke="#000" stroke-width="0.75"/>
<rect x="547.70" y="660.21" width="7.30" height="45.19" fill="#b63f2a" stroke="#111" stroke-width="0.8"/>
<line x1="551.35" y1="660.21" x2="551.35" y2="658.36" stroke="#000" stroke-width="0.75"/>
<line x1="549.95" y1="658.36" x2="552.75" y2="658.36" stroke="#000" stroke-width="0.75"/>
<rect x="559.30" y="654.64" width="7.70" height="50.76" fill="#b63f2a" stroke="#111" stroke-width="0.8"/>
<line x1="563.15" y1="654.64" x2="563.15" y2="654.02" stroke="#000" stroke-width="0.75"/>
<line x1="561.75" y1="654.02" x2="564.55" y2="654.02" stroke="#000" stroke-width="0.75"/>
<rect x="578.60" y="674.45" width="7.80" height="30.95" fill="#2b5f7d" stroke="#111" stroke-width="0.8"/>
<line x1="582.50" y1="674.45" x2="582.50" y2="673.83" stroke="#000" stroke-width="0.75"/>
<line x1="581.10" y1="673.83" x2="583.90" y2="673.83" stroke="#000" stroke-width="0.75"/>
<rect x="590.20" y="670.12" width="7.80" height="35.28" fill="#2b5f7d" stroke="#111" stroke-width="0.8"/>
<line x1="594.10" y1="670.12" x2="594.10" y2="668.26" stroke="#000" stroke-width="0.75"/>
<line x1="592.70" y1="668.26" x2="595.50" y2="668.26" stroke="#000" stroke-width="0.75"/>
<rect x="602.60" y="697.35" width="7.40" height="8.05" fill="#2b5f7d" stroke="#111" stroke-width="0.8"/>
<line x1="606.30" y1="697.35" x2="606.30" y2="696.12" stroke="#000" stroke-width="0.75"/>
<line x1="604.90" y1="696.12" x2="607.70" y2="696.12" stroke="#000" stroke-width="0.75"/>
<rect x="614.60" y="694.88" width="7.40" height="10.52" fill="#2b5f7d" stroke="#111" stroke-width="0.8"/>
<line x1="618.30" y1="694.88" x2="618.30" y2="693.64" stroke="#000" stroke-width="0.75"/>
<line x1="616.90" y1="693.64" x2="619.70" y2="693.64" stroke="#000" stroke-width="0.75"/>
<rect x="634.70" y="632.98" width="7.30" height="72.42" fill="#a6d6e6" stroke="#111" stroke-width="0.8"/>
<line x1="638.35" y1="632.98" x2="638.35" y2="629.26" stroke="#000" stroke-width="0.75"/>
<line x1="636.95" y1="629.26" x2="639.75" y2="629.26" stroke="#000" stroke-width="0.75"/>
<rect x="646.70" y="634.22" width="7.30" height="71.18" fill="#a6d6e6" stroke="#111" stroke-width="0.8"/>
<line x1="650.35" y1="634.22" x2="650.35" y2="631.12" stroke="#000" stroke-width="0.75"/>
<line x1="648.95" y1="631.12" x2="651.75" y2="631.12" stroke="#000" stroke-width="0.75"/>
<rect x="658.70" y="671.97" width="7.30" height="33.43" fill="#a6d6e6" stroke="#111" stroke-width="0.8"/>
<line x1="662.35" y1="671.97" x2="662.35" y2="670.74" stroke="#000" stroke-width="0.75"/>
<line x1="660.95" y1="670.74" x2="663.75" y2="670.74" stroke="#000" stroke-width="0.75"/>
<rect x="670.70" y="667.02" width="7.30" height="38.38" fill="#a6d6e6" stroke="#111" stroke-width="0.8"/>
<line x1="674.35" y1="667.02" x2="674.35" y2="665.78" stroke="#000" stroke-width="0.75"/>
<line x1="672.95" y1="665.78" x2="675.75" y2="665.78" stroke="#000" stroke-width="0.75"/>
<circle cx="525.00" cy="691.04" r="1.55" fill="#fff" stroke="#111" stroke-width="0.7"/>
<circle cx="526.80" cy="691.78" r="1.55" fill="#fff" stroke="#111" stroke-width="0.7"/>
<circle cx="528.00" cy="692.77" r="1.55" fill="#fff" stroke="#111" stroke-width="0.7"/>
<circle cx="537.35" cy="694.13" r="1.55" fill="#fff" stroke="#111" stroke-width="0.7"/>
<circle cx="539.15" cy="694.88" r="1.55" fill="#fff" stroke="#111" stroke-width="0.7"/>
<circle cx="540.35" cy="695.87" r="1.55" fill="#fff" stroke="#111" stroke-width="0.7"/>
<circle cx="549.95" cy="659.10" r="1.55" fill="#fff" stroke="#111" stroke-width="0.7"/>
<circle cx="551.75" cy="660.21" r="1.55" fill="#fff" stroke="#111" stroke-width="0.7"/>
<circle cx="552.95" cy="661.70" r="1.55" fill="#fff" stroke="#111" stroke-width="0.7"/>
<circle cx="561.75" cy="654.27" r="1.55" fill="#fff" stroke="#111" stroke-width="0.7"/>
<circle cx="563.55" cy="654.64" r="1.55" fill="#fff" stroke="#111" stroke-width="0.7"/>
<circle cx="564.75" cy="655.14" r="1.55" fill="#fff" stroke="#111" stroke-width="0.7"/>
<circle cx="581.10" cy="674.08" r="1.55" fill="#fff" stroke="#111" stroke-width="0.7"/>
<circle cx="582.90" cy="674.45" r="1.55" fill="#fff" stroke="#111" stroke-width="0.7"/>
<circle cx="584.10" cy="674.95" r="1.55" fill="#fff" stroke="#111" stroke-width="0.7"/>
<circle cx="592.70" cy="669.00" r="1.55" fill="#fff" stroke="#111" stroke-width="0.7"/>
<circle cx="594.50" cy="670.12" r="1.55" fill="#fff" stroke="#111" stroke-width="0.7"/>
<circle cx="595.70" cy="671.60" r="1.55" fill="#fff" stroke="#111" stroke-width="0.7"/>
<circle cx="604.90" cy="696.61" r="1.55" fill="#fff" stroke="#111" stroke-width="0.7"/>
<circle cx="606.70" cy="697.35" r="1.55" fill="#fff" stroke="#111" stroke-width="0.7"/>
<circle cx="607.90" cy="698.34" r="1.55" fill="#fff" stroke="#111" stroke-width="0.7"/>
<circle cx="616.90" cy="694.13" r="1.55" fill="#fff" stroke="#111" stroke-width="0.7"/>
<circle cx="618.70" cy="694.88" r="1.55" fill="#fff" stroke="#111" stroke-width="0.7"/>
<circle cx="619.90" cy="695.87" r="1.55" fill="#fff" stroke="#111" stroke-width="0.7"/>
<circle cx="638.35" cy="629.45" r="1.55" fill="#fff" stroke="#111" stroke-width="0.7"/>
<circle cx="636.75" cy="634.28" r="1.55" fill="#fff" stroke="#111" stroke-width="0.7"/>
<circle cx="639.95" cy="635.21" r="1.55" fill="#fff" stroke="#111" stroke-width="0.7"/>
<circle cx="650.35" cy="631.27" r="1.55" fill="#fff" stroke="#111" stroke-width="0.7"/>
<circle cx="648.75" cy="635.30" r="1.55" fill="#fff" stroke="#111" stroke-width="0.7"/>
<circle cx="651.95" cy="636.07" r="1.55" fill="#fff" stroke="#111" stroke-width="0.7"/>
<circle cx="660.95" cy="671.23" r="1.55" fill="#fff" stroke="#111" stroke-width="0.7"/>
<circle cx="662.75" cy="671.97" r="1.55" fill="#fff" stroke="#111" stroke-width="0.7"/>
<circle cx="663.95" cy="672.96" r="1.55" fill="#fff" stroke="#111" stroke-width="0.7"/>
<circle cx="672.95" cy="666.28" r="1.55" fill="#fff" stroke="#111" stroke-width="0.7"/>
<circle cx="674.75" cy="667.02" r="1.55" fill="#fff" stroke="#111" stroke-width="0.7"/>
<circle cx="675.95" cy="668.01" r="1.55" fill="#fff" stroke="#111" stroke-width="0.7"/>
<line x1="518.30" y1="705.40" x2="681.00" y2="705.40" stroke="#111" stroke-width="0.8"/>
<line x1="518.30" y1="705.80" x2="518.30" y2="612.15" stroke="#111" stroke-width="0.8"/>
<line x1="516.10" y1="705.40" x2="518.30" y2="705.40" stroke="#111" stroke-width="0.8"/>
<text x="513.40" y="707.85" font-size="6.8" text-anchor="end" font-weight="bold" fill="#111">0.0</text>
<line x1="516.10" y1="674.45" x2="518.30" y2="674.45" stroke="#111" stroke-width="0.8"/>
<text x="513.40" y="676.90" font-size="6.8" text-anchor="end" font-weight="bold" fill="#111">0.5</text>
<line x1="516.10" y1="643.50" x2="518.30" y2="643.50" stroke="#111" stroke-width="0.8"/>
<text x="513.40" y="645.95" font-size="6.8" text-anchor="end" font-weight="bold" fill="#111">1.0</text>
<line x1="516.10" y1="612.55" x2="518.30" y2="612.55" stroke="#111" stroke-width="0.8"/>
<text x="513.40" y="615.00" font-size="6.8" text-anchor="end" font-weight="bold" fill="#111">1.5</text>
<line x1="526.40" y1="705.40" x2="526.40" y2="707.40" stroke="#111" stroke-width="0.7"/>
<text x="528.80" y="715.00" font-size="7.0" text-anchor="end" font-weight="bold" fill="#111" transform="rotate(-45 528.80 715.00)">UT</text>
<line x1="538.75" y1="705.40" x2="538.75" y2="707.40" stroke="#111" stroke-width="0.7"/>
<text x="541.15" y="715.00" font-size="7.0" text-anchor="end" font-weight="bold" fill="#111" transform="rotate(-45 541.15 715.00)">shNC</text>
<line x1="551.35" y1="705.40" x2="551.35" y2="707.40" stroke="#111" stroke-width="0.7"/>
<text x="553.75" y="715.00" font-size="7.0" text-anchor="end" font-weight="bold" fill="#111" transform="rotate(-45 553.75 715.00)">sh1</text>
<line x1="563.15" y1="705.40" x2="563.15" y2="707.40" stroke="#111" stroke-width="0.7"/>
<text x="565.55" y="715.00" font-size="7.0" text-anchor="end" font-weight="bold" fill="#111" transform="rotate(-45 565.55 715.00)">sh2</text>
<line x1="582.50" y1="705.40" x2="582.50" y2="707.40" stroke="#111" stroke-width="0.7"/>
<text x="584.90" y="715.00" font-size="7.0" text-anchor="end" font-weight="bold" fill="#111" transform="rotate(-45 584.90 715.00)">UT</text>
<line x1="594.10" y1="705.40" x2="594.10" y2="707.40" stroke="#111" stroke-width="0.7"/>
<text x="596.50" y="715.00" font-size="7.0" text-anchor="end" font-weight="bold" fill="#111" transform="rotate(-45 596.50 715.00)">shNC</text>
<line x1="606.30" y1="705.40" x2="606.30" y2="707.40" stroke="#111" stroke-width="0.7"/>
<text x="608.70" y="715.00" font-size="7.0" text-anchor="end" font-weight="bold" fill="#111" transform="rotate(-45 608.70 715.00)">sh1</text>
<line x1="618.30" y1="705.40" x2="618.30" y2="707.40" stroke="#111" stroke-width="0.7"/>
<text x="620.70" y="715.00" font-size="7.0" text-anchor="end" font-weight="bold" fill="#111" transform="rotate(-45 620.70 715.00)">sh2</text>
<line x1="638.35" y1="705.40" x2="638.35" y2="707.40" stroke="#111" stroke-width="0.7"/>
<text x="640.75" y="715.00" font-size="7.0" text-anchor="end" font-weight="bold" fill="#111" transform="rotate(-45 640.75 715.00)">UT</text>
<line x1="650.35" y1="705.40" x2="650.35" y2="707.40" stroke="#111" stroke-width="0.7"/>
<text x="652.75" y="715.00" font-size="7.0" text-anchor="end" font-weight="bold" fill="#111" transform="rotate(-45 652.75 715.00)">shNC</text>
<line x1="662.35" y1="705.40" x2="662.35" y2="707.40" stroke="#111" stroke-width="0.7"/>
<text x="664.75" y="715.00" font-size="7.0" text-anchor="end" font-weight="bold" fill="#111" transform="rotate(-45 664.75 715.00)">sh1</text>
<line x1="674.35" y1="705.40" x2="674.35" y2="707.40" stroke="#111" stroke-width="0.7"/>
<text x="676.75" y="715.00" font-size="7.0" text-anchor="end" font-weight="bold" fill="#111" transform="rotate(-45 676.75 715.00)">sh2</text>
<path d="M540.70,690.00 L540.70,642.70 L551.50,642.70 L551.50,655.00" fill="none" stroke="#000" stroke-width="0.95"/>
<text x="546.10" y="644.90" font-size="10.4" text-anchor="middle" font-weight="bold" fill="#111">***</text>
<path d="M534.90,690.00 L534.90,627.30 L563.10,627.30 L563.10,650.00" fill="none" stroke="#000" stroke-width="0.95"/>
<text x="549.00" y="629.50" font-size="10.4" text-anchor="middle" font-weight="bold" fill="#111">***</text>
<path d="M597.20,668.00 L597.20,653.20 L607.60,653.20 L607.60,693.00" fill="none" stroke="#000" stroke-width="0.95"/>
<text x="602.40" y="655.40" font-size="10.4" text-anchor="middle" font-weight="bold" fill="#111">***</text>
<path d="M592.10,668.00 L592.10,640.80 L619.20,640.80 L619.20,690.00" fill="none" stroke="#000" stroke-width="0.95"/>
<text x="605.65" y="643.00" font-size="10.4" text-anchor="middle" font-weight="bold" fill="#111">***</text>
<path d="M652.10,630.00 L652.10,620.30 L662.90,620.30 L662.90,670.00" fill="none" stroke="#000" stroke-width="0.95"/>
<text x="657.50" y="622.50" font-size="10.4" text-anchor="middle" font-weight="bold" fill="#111">***</text>
<path d="M648.20,630.00 L648.20,612.60 L675.30,612.60 L675.30,664.00" fill="none" stroke="#000" stroke-width="0.95"/>
<text x="661.75" y="614.80" font-size="10.4" text-anchor="middle" font-weight="bold" fill="#111">***</text>
<rect x="522.50" y="599.60" width="9.00" height="4.20" fill="#b63f2a" stroke="#1a1a1a" stroke-width="0.55"/>
<text x="537.00" y="604.30" font-size="7.4" fill="#1a1a1a">E-cadherin</text>
<rect x="579.80" y="599.60" width="9.00" height="4.20" fill="#2b5f7d" stroke="#1a1a1a" stroke-width="0.55"/>
<text x="593.90" y="604.30" font-size="7.4" fill="#1a1a1a">N-cadherin</text>
<rect x="639.70" y="599.60" width="9.00" height="4.20" fill="#a6d6e6" stroke="#1a1a1a" stroke-width="0.55"/>
<text x="654.60" y="604.30" font-size="7.4" fill="#1a1a1a">Vimentin</text>
<text x="493.00" y="659.00" font-size="7.5" text-anchor="middle" font-weight="bold" fill="#111" transform="rotate(-90 493.00 659.00)">T47D-Re</text>
<text x="502.00" y="657.00" font-size="7.5" text-anchor="middle" font-weight="bold" fill="#111" transform="rotate(-90 502.00 657.00)">Relative  expression</text>
<rect x="311.40" y="837.80" width="9.90" height="14.90" fill="#b63f2a" stroke="#111" stroke-width="0.8"/>
<line x1="316.35" y1="837.80" x2="316.35" y2="835.51" stroke="#000" stroke-width="0.75"/>
<line x1="314.95" y1="835.51" x2="317.75" y2="835.51" stroke="#000" stroke-width="0.75"/>
<rect x="326.60" y="797.12" width="10.00" height="55.58" fill="#2e6b8f" stroke="#111" stroke-width="0.8"/>
<line x1="331.60" y1="797.12" x2="331.60" y2="790.82" stroke="#000" stroke-width="0.75"/>
<line x1="330.20" y1="790.82" x2="333.00" y2="790.82" stroke="#000" stroke-width="0.75"/>
<rect x="352.20" y="802.28" width="10.40" height="50.42" fill="#b63f2a" stroke="#111" stroke-width="0.8"/>
<line x1="357.40" y1="802.28" x2="357.40" y2="801.13" stroke="#000" stroke-width="0.75"/>
<line x1="356.00" y1="801.13" x2="358.80" y2="801.13" stroke="#000" stroke-width="0.75"/>
<rect x="367.90" y="837.23" width="9.90" height="15.47" fill="#2e6b8f" stroke="#111" stroke-width="0.8"/>
<line x1="372.85" y1="837.23" x2="372.85" y2="834.94" stroke="#000" stroke-width="0.75"/>
<line x1="371.45" y1="834.94" x2="374.25" y2="834.94" stroke="#000" stroke-width="0.75"/>
<rect x="393.00" y="802.85" width="10.60" height="49.85" fill="#b63f2a" stroke="#111" stroke-width="0.8"/>
<line x1="398.30" y1="802.85" x2="398.30" y2="800.56" stroke="#000" stroke-width="0.75"/>
<line x1="396.90" y1="800.56" x2="399.70" y2="800.56" stroke="#000" stroke-width="0.75"/>
<rect x="409.10" y="823.48" width="10.10" height="29.22" fill="#2e6b8f" stroke="#111" stroke-width="0.8"/>
<line x1="414.15" y1="823.48" x2="414.15" y2="813.16" stroke="#000" stroke-width="0.75"/>
<line x1="412.75" y1="813.16" x2="415.55" y2="813.16" stroke="#000" stroke-width="0.75"/>
<circle cx="312.30" cy="835.90" r="1.55" fill="#fff" stroke="#111" stroke-width="0.7"/>
<circle cx="316.10" cy="835.50" r="1.55" fill="#fff" stroke="#111" stroke-width="0.7"/>
<circle cx="317.10" cy="837.80" r="1.55" fill="#fff" stroke="#111" stroke-width="0.7"/>
<circle cx="319.00" cy="840.70" r="1.55" fill="#fff" stroke="#111" stroke-width="0.7"/>
<circle cx="331.30" cy="788.50" r="1.55" fill="#fff" stroke="#111" stroke-width="0.7"/>
<circle cx="328.10" cy="799.50" r="1.55" fill="#fff" stroke="#111" stroke-width="0.7"/>
<circle cx="331.30" cy="799.90" r="1.55" fill="#fff" stroke="#111" stroke-width="0.7"/>
<circle cx="334.50" cy="800.20" r="1.55" fill="#fff" stroke="#111" stroke-width="0.7"/>
<circle cx="353.70" cy="800.20" r="1.55" fill="#fff" stroke="#111" stroke-width="0.7"/>
<circle cx="356.60" cy="800.80" r="1.55" fill="#fff" stroke="#111" stroke-width="0.7"/>
<circle cx="358.80" cy="802.70" r="1.55" fill="#fff" stroke="#111" stroke-width="0.7"/>
<circle cx="360.70" cy="804.00" r="1.55" fill="#fff" stroke="#111" stroke-width="0.7"/>
<circle cx="370.80" cy="834.00" r="1.55" fill="#fff" stroke="#111" stroke-width="0.7"/>
<circle cx="373.10" cy="833.10" r="1.55" fill="#fff" stroke="#111" stroke-width="0.7"/>
<circle cx="373.10" cy="836.90" r="1.55" fill="#fff" stroke="#111" stroke-width="0.7"/>
<circle cx="375.50" cy="839.70" r="1.55" fill="#fff" stroke="#111" stroke-width="0.7"/>
<circle cx="395.80" cy="797.60" r="1.55" fill="#fff" stroke="#111" stroke-width="0.7"/>
<circle cx="398.30" cy="801.40" r="1.55" fill="#fff" stroke="#111" stroke-width="0.7"/>
<circle cx="398.70" cy="802.70" r="1.55" fill="#fff" stroke="#111" stroke-width="0.7"/>
<circle cx="401.50" cy="804.00" r="1.55" fill="#fff" stroke="#111" stroke-width="0.7"/>
<circle cx="413.90" cy="810.30" r="1.55" fill="#fff" stroke="#111" stroke-width="0.7"/>
<circle cx="413.90" cy="821.70" r="1.55" fill="#fff" stroke="#111" stroke-width="0.7"/>
<circle cx="411.00" cy="830.20" r="1.55" fill="#fff" stroke="#111" stroke-width="0.7"/>
<circle cx="416.20" cy="830.60" r="1.55" fill="#fff" stroke="#111" stroke-width="0.7"/>
<line x1="305.50" y1="852.70" x2="425.30" y2="852.70" stroke="#111" stroke-width="0.8"/>
<line x1="305.50" y1="853.10" x2="305.50" y2="766.35" stroke="#111" stroke-width="0.8"/>
<line x1="303.30" y1="852.70" x2="305.50" y2="852.70" stroke="#111" stroke-width="0.8"/>
<text x="301.40" y="855.08" font-size="6.6" text-anchor="end" font-weight="bold" fill="#111">0.0</text>
<line x1="303.30" y1="824.05" x2="305.50" y2="824.05" stroke="#111" stroke-width="0.8"/>
<text x="301.40" y="826.43" font-size="6.6" text-anchor="end" font-weight="bold" fill="#111">0.5</text>
<line x1="303.30" y1="795.40" x2="305.50" y2="795.40" stroke="#111" stroke-width="0.8"/>
<text x="301.40" y="797.78" font-size="6.6" text-anchor="end" font-weight="bold" fill="#111">1.0</text>
<line x1="303.30" y1="766.75" x2="305.50" y2="766.75" stroke="#111" stroke-width="0.8"/>
<text x="301.40" y="769.13" font-size="6.6" text-anchor="end" font-weight="bold" fill="#111">1.5</text>
<line x1="323.90" y1="852.70" x2="323.90" y2="854.70" stroke="#111" stroke-width="0.7"/>
<text x="327.10" y="862.30" font-size="7.0" text-anchor="end" font-weight="bold" fill="#111" transform="rotate(-13 327.10 862.30)" font-style="italic">E-cadherin</text>
<line x1="365.50" y1="852.70" x2="365.50" y2="854.70" stroke="#111" stroke-width="0.7"/>
<text x="368.70" y="862.30" font-size="7.0" text-anchor="end" font-weight="bold" fill="#111" transform="rotate(-13 368.70 862.30)" font-style="italic">N-cadherin</text>
<line x1="407.20" y1="852.70" x2="407.20" y2="854.70" stroke="#111" stroke-width="0.7"/>
<text x="410.40" y="862.30" font-size="7.0" text-anchor="end" font-weight="bold" fill="#111" transform="rotate(-13 410.40 862.30)" font-style="italic">Vimentin</text>
<path d="M315.80,832.00 L315.80,778.00 L332.30,778.00 L332.30,786.60" fill="none" stroke="#000" stroke-width="0.95"/>
<text x="324.05" y="780.20" font-size="10.4" text-anchor="middle" font-weight="bold" fill="#111">***</text>
<path d="M356.40,797.00 L356.40,780.50 L372.50,780.50 L372.50,831.20" fill="none" stroke="#000" stroke-width="0.95"/>
<text x="364.45" y="782.70" font-size="10.4" text-anchor="middle" font-weight="bold" fill="#111">***</text>
<path d="M398.30,797.00 L398.30,780.50 L414.40,780.50 L414.40,808.40" fill="none" stroke="#000" stroke-width="0.95"/>
<text x="406.35" y="782.70" font-size="10.4" text-anchor="middle" font-weight="bold" fill="#111">**</text>
<rect x="317.00" y="761.60" width="9.00" height="4.20" fill="#b63f2a" stroke="#1a1a1a" stroke-width="0.55"/>
<text x="330.40" y="766.30" font-size="7.4" fill="#1a1a1a">Resistant</text>
<rect x="371.70" y="761.60" width="9.00" height="4.20" fill="#2e6b8f" stroke="#1a1a1a" stroke-width="0.55"/>
<text x="384.50" y="766.30" font-size="7.4" fill="#1a1a1a">Sensitive</text>
<text x="290.60" y="811.00" font-size="7.5" text-anchor="middle" font-weight="bold" fill="#111" transform="rotate(-90 290.60 811.00)">Relative  expression</text></svg>
</body></html>
